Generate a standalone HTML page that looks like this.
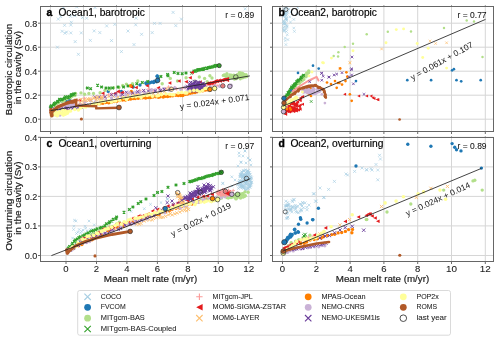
<!DOCTYPE html><html><head><meta charset="utf-8"><style>html,body{margin:0;padding:0;background:#fff;width:500px;height:341px;overflow:hidden}</style></head><body><svg width="500" height="341" viewBox="0 0 500 341" style="position:absolute;left:0;top:0;will-change:transform">
<g style='font-family:"Liberation Sans", sans-serif'>
<rect width="500" height="341" fill="#fff"/>
<line x1="50.5" y1="6.5" x2="50.5" y2="131.5" stroke="#d6d6d6" stroke-width="1"/>
<line x1="50.5" y1="131.5" x2="50.5" y2="134.0" stroke="#444" stroke-width="0.8"/>
<line x1="50.5" y1="5.3" x2="50.5" y2="6.5" stroke="#555" stroke-width="0.8"/>
<line x1="83.5" y1="6.5" x2="83.5" y2="131.5" stroke="#d6d6d6" stroke-width="1"/>
<line x1="83.5" y1="131.5" x2="83.5" y2="134.0" stroke="#444" stroke-width="0.8"/>
<line x1="83.5" y1="5.3" x2="83.5" y2="6.5" stroke="#555" stroke-width="0.8"/>
<line x1="116.5" y1="6.5" x2="116.5" y2="131.5" stroke="#d6d6d6" stroke-width="1"/>
<line x1="116.5" y1="131.5" x2="116.5" y2="134.0" stroke="#444" stroke-width="0.8"/>
<line x1="116.5" y1="5.3" x2="116.5" y2="6.5" stroke="#555" stroke-width="0.8"/>
<line x1="149.5" y1="6.5" x2="149.5" y2="131.5" stroke="#d6d6d6" stroke-width="1"/>
<line x1="149.5" y1="131.5" x2="149.5" y2="134.0" stroke="#444" stroke-width="0.8"/>
<line x1="149.5" y1="5.3" x2="149.5" y2="6.5" stroke="#555" stroke-width="0.8"/>
<line x1="182.5" y1="6.5" x2="182.5" y2="131.5" stroke="#d6d6d6" stroke-width="1"/>
<line x1="182.5" y1="131.5" x2="182.5" y2="134.0" stroke="#444" stroke-width="0.8"/>
<line x1="182.5" y1="5.3" x2="182.5" y2="6.5" stroke="#555" stroke-width="0.8"/>
<line x1="215.5" y1="6.5" x2="215.5" y2="131.5" stroke="#d6d6d6" stroke-width="1"/>
<line x1="215.5" y1="131.5" x2="215.5" y2="134.0" stroke="#444" stroke-width="0.8"/>
<line x1="215.5" y1="5.3" x2="215.5" y2="6.5" stroke="#555" stroke-width="0.8"/>
<line x1="248.5" y1="6.5" x2="248.5" y2="131.5" stroke="#d6d6d6" stroke-width="1"/>
<line x1="248.5" y1="131.5" x2="248.5" y2="134.0" stroke="#444" stroke-width="0.8"/>
<line x1="248.5" y1="5.3" x2="248.5" y2="6.5" stroke="#555" stroke-width="0.8"/>
<line x1="40.5" y1="119.2" x2="261.5" y2="119.2" stroke="#d6d6d6" stroke-width="1"/>
<line x1="38.0" y1="119.2" x2="40.5" y2="119.2" stroke="#444" stroke-width="0.8"/>
<line x1="40.5" y1="95.2" x2="261.5" y2="95.2" stroke="#d6d6d6" stroke-width="1"/>
<line x1="38.0" y1="95.2" x2="40.5" y2="95.2" stroke="#444" stroke-width="0.8"/>
<line x1="40.5" y1="71.2" x2="261.5" y2="71.2" stroke="#d6d6d6" stroke-width="1"/>
<line x1="38.0" y1="71.2" x2="40.5" y2="71.2" stroke="#444" stroke-width="0.8"/>
<line x1="40.5" y1="47.2" x2="261.5" y2="47.2" stroke="#d6d6d6" stroke-width="1"/>
<line x1="38.0" y1="47.2" x2="40.5" y2="47.2" stroke="#444" stroke-width="0.8"/>
<line x1="40.5" y1="23.2" x2="261.5" y2="23.2" stroke="#d6d6d6" stroke-width="1"/>
<line x1="38.0" y1="23.2" x2="40.5" y2="23.2" stroke="#444" stroke-width="0.8"/>
<line x1="282.5" y1="6.5" x2="282.5" y2="131.5" stroke="#d6d6d6" stroke-width="1"/>
<line x1="282.5" y1="131.5" x2="282.5" y2="134.0" stroke="#444" stroke-width="0.8"/>
<line x1="282.5" y1="5.3" x2="282.5" y2="6.5" stroke="#555" stroke-width="0.8"/>
<line x1="316.3" y1="6.5" x2="316.3" y2="131.5" stroke="#d6d6d6" stroke-width="1"/>
<line x1="316.3" y1="131.5" x2="316.3" y2="134.0" stroke="#444" stroke-width="0.8"/>
<line x1="316.3" y1="5.3" x2="316.3" y2="6.5" stroke="#555" stroke-width="0.8"/>
<line x1="350.1" y1="6.5" x2="350.1" y2="131.5" stroke="#d6d6d6" stroke-width="1"/>
<line x1="350.1" y1="131.5" x2="350.1" y2="134.0" stroke="#444" stroke-width="0.8"/>
<line x1="350.1" y1="5.3" x2="350.1" y2="6.5" stroke="#555" stroke-width="0.8"/>
<line x1="383.9" y1="6.5" x2="383.9" y2="131.5" stroke="#d6d6d6" stroke-width="1"/>
<line x1="383.9" y1="131.5" x2="383.9" y2="134.0" stroke="#444" stroke-width="0.8"/>
<line x1="383.9" y1="5.3" x2="383.9" y2="6.5" stroke="#555" stroke-width="0.8"/>
<line x1="417.7" y1="6.5" x2="417.7" y2="131.5" stroke="#d6d6d6" stroke-width="1"/>
<line x1="417.7" y1="131.5" x2="417.7" y2="134.0" stroke="#444" stroke-width="0.8"/>
<line x1="417.7" y1="5.3" x2="417.7" y2="6.5" stroke="#555" stroke-width="0.8"/>
<line x1="451.5" y1="6.5" x2="451.5" y2="131.5" stroke="#d6d6d6" stroke-width="1"/>
<line x1="451.5" y1="131.5" x2="451.5" y2="134.0" stroke="#444" stroke-width="0.8"/>
<line x1="451.5" y1="5.3" x2="451.5" y2="6.5" stroke="#555" stroke-width="0.8"/>
<line x1="485.3" y1="6.5" x2="485.3" y2="131.5" stroke="#d6d6d6" stroke-width="1"/>
<line x1="485.3" y1="131.5" x2="485.3" y2="134.0" stroke="#444" stroke-width="0.8"/>
<line x1="485.3" y1="5.3" x2="485.3" y2="6.5" stroke="#555" stroke-width="0.8"/>
<line x1="272.5" y1="119.2" x2="493.5" y2="119.2" stroke="#d6d6d6" stroke-width="1"/>
<line x1="270.0" y1="119.2" x2="272.5" y2="119.2" stroke="#444" stroke-width="0.8"/>
<line x1="272.5" y1="95.2" x2="493.5" y2="95.2" stroke="#d6d6d6" stroke-width="1"/>
<line x1="270.0" y1="95.2" x2="272.5" y2="95.2" stroke="#444" stroke-width="0.8"/>
<line x1="272.5" y1="71.2" x2="493.5" y2="71.2" stroke="#d6d6d6" stroke-width="1"/>
<line x1="270.0" y1="71.2" x2="272.5" y2="71.2" stroke="#444" stroke-width="0.8"/>
<line x1="272.5" y1="47.2" x2="493.5" y2="47.2" stroke="#d6d6d6" stroke-width="1"/>
<line x1="270.0" y1="47.2" x2="272.5" y2="47.2" stroke="#444" stroke-width="0.8"/>
<line x1="272.5" y1="23.2" x2="493.5" y2="23.2" stroke="#d6d6d6" stroke-width="1"/>
<line x1="270.0" y1="23.2" x2="272.5" y2="23.2" stroke="#444" stroke-width="0.8"/>
<line x1="66.0" y1="137.5" x2="66.0" y2="261.5" stroke="#d6d6d6" stroke-width="1"/>
<line x1="66.0" y1="261.5" x2="66.0" y2="264.0" stroke="#444" stroke-width="0.8"/>
<line x1="66.0" y1="136.3" x2="66.0" y2="137.5" stroke="#555" stroke-width="0.8"/>
<line x1="96.5" y1="137.5" x2="96.5" y2="261.5" stroke="#d6d6d6" stroke-width="1"/>
<line x1="96.5" y1="261.5" x2="96.5" y2="264.0" stroke="#444" stroke-width="0.8"/>
<line x1="96.5" y1="136.3" x2="96.5" y2="137.5" stroke="#555" stroke-width="0.8"/>
<line x1="126.9" y1="137.5" x2="126.9" y2="261.5" stroke="#d6d6d6" stroke-width="1"/>
<line x1="126.9" y1="261.5" x2="126.9" y2="264.0" stroke="#444" stroke-width="0.8"/>
<line x1="126.9" y1="136.3" x2="126.9" y2="137.5" stroke="#555" stroke-width="0.8"/>
<line x1="157.4" y1="137.5" x2="157.4" y2="261.5" stroke="#d6d6d6" stroke-width="1"/>
<line x1="157.4" y1="261.5" x2="157.4" y2="264.0" stroke="#444" stroke-width="0.8"/>
<line x1="157.4" y1="136.3" x2="157.4" y2="137.5" stroke="#555" stroke-width="0.8"/>
<line x1="187.8" y1="137.5" x2="187.8" y2="261.5" stroke="#d6d6d6" stroke-width="1"/>
<line x1="187.8" y1="261.5" x2="187.8" y2="264.0" stroke="#444" stroke-width="0.8"/>
<line x1="187.8" y1="136.3" x2="187.8" y2="137.5" stroke="#555" stroke-width="0.8"/>
<line x1="218.3" y1="137.5" x2="218.3" y2="261.5" stroke="#d6d6d6" stroke-width="1"/>
<line x1="218.3" y1="261.5" x2="218.3" y2="264.0" stroke="#444" stroke-width="0.8"/>
<line x1="218.3" y1="136.3" x2="218.3" y2="137.5" stroke="#555" stroke-width="0.8"/>
<line x1="248.8" y1="137.5" x2="248.8" y2="261.5" stroke="#d6d6d6" stroke-width="1"/>
<line x1="248.8" y1="261.5" x2="248.8" y2="264.0" stroke="#444" stroke-width="0.8"/>
<line x1="248.8" y1="136.3" x2="248.8" y2="137.5" stroke="#555" stroke-width="0.8"/>
<line x1="40.5" y1="255.5" x2="261.5" y2="255.5" stroke="#d6d6d6" stroke-width="1"/>
<line x1="38.0" y1="255.5" x2="40.5" y2="255.5" stroke="#444" stroke-width="0.8"/>
<line x1="40.5" y1="225.9" x2="261.5" y2="225.9" stroke="#d6d6d6" stroke-width="1"/>
<line x1="38.0" y1="225.9" x2="40.5" y2="225.9" stroke="#444" stroke-width="0.8"/>
<line x1="40.5" y1="196.4" x2="261.5" y2="196.4" stroke="#d6d6d6" stroke-width="1"/>
<line x1="38.0" y1="196.4" x2="40.5" y2="196.4" stroke="#444" stroke-width="0.8"/>
<line x1="40.5" y1="166.9" x2="261.5" y2="166.9" stroke="#d6d6d6" stroke-width="1"/>
<line x1="38.0" y1="166.9" x2="40.5" y2="166.9" stroke="#444" stroke-width="0.8"/>
<line x1="40.5" y1="137.3" x2="261.5" y2="137.3" stroke="#d6d6d6" stroke-width="1"/>
<line x1="38.0" y1="137.3" x2="40.5" y2="137.3" stroke="#444" stroke-width="0.8"/>
<line x1="282.5" y1="137.5" x2="282.5" y2="261.5" stroke="#d6d6d6" stroke-width="1"/>
<line x1="282.5" y1="261.5" x2="282.5" y2="264.0" stroke="#444" stroke-width="0.8"/>
<line x1="282.5" y1="136.3" x2="282.5" y2="137.5" stroke="#555" stroke-width="0.8"/>
<line x1="316.3" y1="137.5" x2="316.3" y2="261.5" stroke="#d6d6d6" stroke-width="1"/>
<line x1="316.3" y1="261.5" x2="316.3" y2="264.0" stroke="#444" stroke-width="0.8"/>
<line x1="316.3" y1="136.3" x2="316.3" y2="137.5" stroke="#555" stroke-width="0.8"/>
<line x1="350.1" y1="137.5" x2="350.1" y2="261.5" stroke="#d6d6d6" stroke-width="1"/>
<line x1="350.1" y1="261.5" x2="350.1" y2="264.0" stroke="#444" stroke-width="0.8"/>
<line x1="350.1" y1="136.3" x2="350.1" y2="137.5" stroke="#555" stroke-width="0.8"/>
<line x1="383.9" y1="137.5" x2="383.9" y2="261.5" stroke="#d6d6d6" stroke-width="1"/>
<line x1="383.9" y1="261.5" x2="383.9" y2="264.0" stroke="#444" stroke-width="0.8"/>
<line x1="383.9" y1="136.3" x2="383.9" y2="137.5" stroke="#555" stroke-width="0.8"/>
<line x1="417.7" y1="137.5" x2="417.7" y2="261.5" stroke="#d6d6d6" stroke-width="1"/>
<line x1="417.7" y1="261.5" x2="417.7" y2="264.0" stroke="#444" stroke-width="0.8"/>
<line x1="417.7" y1="136.3" x2="417.7" y2="137.5" stroke="#555" stroke-width="0.8"/>
<line x1="451.5" y1="137.5" x2="451.5" y2="261.5" stroke="#d6d6d6" stroke-width="1"/>
<line x1="451.5" y1="261.5" x2="451.5" y2="264.0" stroke="#444" stroke-width="0.8"/>
<line x1="451.5" y1="136.3" x2="451.5" y2="137.5" stroke="#555" stroke-width="0.8"/>
<line x1="485.3" y1="137.5" x2="485.3" y2="261.5" stroke="#d6d6d6" stroke-width="1"/>
<line x1="485.3" y1="261.5" x2="485.3" y2="264.0" stroke="#444" stroke-width="0.8"/>
<line x1="485.3" y1="136.3" x2="485.3" y2="137.5" stroke="#555" stroke-width="0.8"/>
<line x1="272.5" y1="255.5" x2="493.5" y2="255.5" stroke="#d6d6d6" stroke-width="1"/>
<line x1="270.0" y1="255.5" x2="272.5" y2="255.5" stroke="#444" stroke-width="0.8"/>
<line x1="272.5" y1="225.9" x2="493.5" y2="225.9" stroke="#d6d6d6" stroke-width="1"/>
<line x1="270.0" y1="225.9" x2="272.5" y2="225.9" stroke="#444" stroke-width="0.8"/>
<line x1="272.5" y1="196.4" x2="493.5" y2="196.4" stroke="#d6d6d6" stroke-width="1"/>
<line x1="270.0" y1="196.4" x2="272.5" y2="196.4" stroke="#444" stroke-width="0.8"/>
<line x1="272.5" y1="166.9" x2="493.5" y2="166.9" stroke="#d6d6d6" stroke-width="1"/>
<line x1="270.0" y1="166.9" x2="272.5" y2="166.9" stroke="#444" stroke-width="0.8"/>
<line x1="272.5" y1="137.3" x2="493.5" y2="137.3" stroke="#d6d6d6" stroke-width="1"/>
<line x1="270.0" y1="137.3" x2="272.5" y2="137.3" stroke="#444" stroke-width="0.8"/>
<clipPath id="cla"><rect x="40.5" y="6.5" width="221.0" height="125.0"/></clipPath>
<clipPath id="clb"><rect x="272.5" y="6.5" width="221.0" height="125.0"/></clipPath>
<clipPath id="clc"><rect x="40.5" y="137.5" width="221.0" height="124.0"/></clipPath>
<clipPath id="cld"><rect x="272.5" y="137.5" width="221.0" height="124.0"/></clipPath>
<g clip-path="url(#cla)">
<path d="M56.8 17.6L59.8 20.6M56.8 20.6L59.8 17.6" stroke="#a6cee3" stroke-width="0.65"/>
<path d="M59.2 15.1L62.2 18.1M59.2 18.1L62.2 15.1" stroke="#a6cee3" stroke-width="0.65"/>
<path d="M61.9 6.4L64.9 9.4M61.9 9.4L64.9 6.4" stroke="#a6cee3" stroke-width="0.65"/>
<path d="M69.0 14.8L72.0 17.8M69.0 17.8L72.0 14.8" stroke="#a6cee3" stroke-width="0.65"/>
<path d="M73.4 14.3L76.4 17.3M73.4 17.3L76.4 14.3" stroke="#a6cee3" stroke-width="0.65"/>
<path d="M75.3 5.3L78.3 8.3M75.3 8.3L78.3 5.3" stroke="#a6cee3" stroke-width="0.65"/>
<path d="M80.9 16.1L83.9 19.1M80.9 19.1L83.9 16.1" stroke="#a6cee3" stroke-width="0.65"/>
<path d="M85.1 16.7L88.1 19.7M85.1 19.7L88.1 16.7" stroke="#a6cee3" stroke-width="0.65"/>
<path d="M69.8 20.8L72.8 23.8M69.8 23.8L72.8 20.8" stroke="#a6cee3" stroke-width="0.65"/>
<path d="M69.3 23.5L72.3 26.5M69.3 26.5L72.3 23.5" stroke="#a6cee3" stroke-width="0.65"/>
<path d="M63.1 23.8L66.1 26.8M63.1 26.8L66.1 23.8" stroke="#a6cee3" stroke-width="0.65"/>
<path d="M60.6 29.8L63.6 32.8M60.6 32.8L63.6 29.8" stroke="#a6cee3" stroke-width="0.65"/>
<path d="M63.5 31.7L66.5 34.7M63.5 34.7L66.5 31.7" stroke="#a6cee3" stroke-width="0.65"/>
<path d="M65.0 30.6L68.0 33.6M65.0 33.6L68.0 30.6" stroke="#a6cee3" stroke-width="0.65"/>
<path d="M69.3 31.4L72.3 34.4M69.3 34.4L72.3 31.4" stroke="#a6cee3" stroke-width="0.65"/>
<path d="M79.8 31.4L82.8 34.4M79.8 34.4L82.8 31.4" stroke="#a6cee3" stroke-width="0.65"/>
<path d="M73.7 40.1L76.7 43.1M73.7 43.1L76.7 40.1" stroke="#a6cee3" stroke-width="0.65"/>
<path d="M88.8 38.9L91.8 41.9M88.8 41.9L91.8 38.9" stroke="#a6cee3" stroke-width="0.65"/>
<path d="M92.7 29.4L95.7 32.4M92.7 32.4L95.7 29.4" stroke="#a6cee3" stroke-width="0.65"/>
<path d="M98.3 31.1L101.3 34.1M98.3 34.1L101.3 31.1" stroke="#a6cee3" stroke-width="0.65"/>
<path d="M55.9 45.7L58.9 48.7M55.9 48.7L58.9 45.7" stroke="#a6cee3" stroke-width="0.65"/>
<path d="M76.9 52.8L79.9 55.8M76.9 55.8L79.9 52.8" stroke="#a6cee3" stroke-width="0.65"/>
<path d="M105.2 24.4L108.2 27.4M105.2 27.4L108.2 24.4" stroke="#a6cee3" stroke-width="0.65"/>
<path d="M113.3 22.9L116.3 25.9M113.3 25.9L116.3 22.9" stroke="#a6cee3" stroke-width="0.65"/>
<path d="M110.0 39.1L113.0 42.1M110.0 42.1L113.0 39.1" stroke="#a6cee3" stroke-width="0.65"/>
<path d="M119.9 50.1L122.9 53.1M119.9 53.1L122.9 50.1" stroke="#a6cee3" stroke-width="0.65"/>
<path d="M126.5 29.5L129.5 32.5M126.5 32.5L129.5 29.5" stroke="#a6cee3" stroke-width="0.65"/>
<path d="M134.6 16.7L137.6 19.7M134.6 19.7L137.6 16.7" stroke="#a6cee3" stroke-width="0.65"/>
<path d="M134.2 23.3L137.2 26.3M134.2 26.3L137.2 23.3" stroke="#a6cee3" stroke-width="0.65"/>
<path d="M140.1 32.8L143.1 35.8M140.1 35.8L143.1 32.8" stroke="#a6cee3" stroke-width="0.65"/>
<path d="M132.5 43.1L135.5 46.1M132.5 46.1L135.5 43.1" stroke="#a6cee3" stroke-width="0.65"/>
<path d="M171.6 10.9L174.6 13.9M171.6 13.9L174.6 10.9" stroke="#a6cee3" stroke-width="0.65"/>
<path d="M153.0 21.9L156.0 24.9M153.0 24.9L156.0 21.9" stroke="#a6cee3" stroke-width="0.65"/>
<path d="M158.6 21.9L161.6 24.9M158.6 24.9L161.6 21.9" stroke="#a6cee3" stroke-width="0.65"/>
<path d="M179.9 17.6L182.9 20.6M179.9 20.6L182.9 17.6" stroke="#a6cee3" stroke-width="0.65"/>
<path d="M174.3 24.1L177.3 27.1M174.3 27.1L177.3 24.1" stroke="#a6cee3" stroke-width="0.65"/>
<path d="M150.7 31.1L153.7 34.1M150.7 34.1L153.7 31.1" stroke="#a6cee3" stroke-width="0.65"/>
<path d="M243.7 7.3L246.7 10.3M243.7 10.3L246.7 7.3" stroke="#a6cee3" stroke-width="0.65"/>
<path d="M93.5 6.0L96.5 9.0M93.5 9.0L96.5 6.0" stroke="#a6cee3" stroke-width="0.65"/>
<circle cx="58.7" cy="101.3" r="1.68" fill="#1f78b4"/>
<circle cx="62.0" cy="101.0" r="1.68" fill="#1f78b4"/>
<circle cx="66.1" cy="100.6" r="1.68" fill="#1f78b4"/>
<circle cx="69.6" cy="99.7" r="1.68" fill="#1f78b4"/>
<circle cx="108.2" cy="91.4" r="1.68" fill="#1f78b4"/>
<circle cx="121.4" cy="91.4" r="1.68" fill="#1f78b4"/>
<circle cx="133.2" cy="87.0" r="1.68" fill="#1f78b4"/>
<circle cx="140.0" cy="85.0" r="1.68" fill="#1f78b4"/>
<circle cx="146.4" cy="83.7" r="1.68" fill="#1f78b4"/>
<circle cx="145.8" cy="83.0" r="1.68" fill="#1f78b4"/>
<circle cx="147.5" cy="82.7" r="1.68" fill="#1f78b4"/>
<circle cx="148.6" cy="82.9" r="1.68" fill="#1f78b4"/>
<circle cx="149.3" cy="82.9" r="1.68" fill="#1f78b4"/>
<circle cx="150.5" cy="82.6" r="1.68" fill="#1f78b4"/>
<circle cx="151.9" cy="81.9" r="1.68" fill="#1f78b4"/>
<circle cx="153.6" cy="82.6" r="1.68" fill="#1f78b4"/>
<circle cx="154.4" cy="81.2" r="1.68" fill="#1f78b4"/>
<circle cx="156.3" cy="81.7" r="1.68" fill="#1f78b4"/>
<circle cx="157.4" cy="80.4" r="1.68" fill="#1f78b4"/>
<circle cx="158.3" cy="78.8" r="1.68" fill="#1f78b4"/>
<circle cx="158.1" cy="77.8" r="1.68" fill="#1f78b4"/>
<circle cx="157.1" cy="76.3" r="1.68" fill="#1f78b4"/>
<circle cx="157.3" cy="75.9" r="1.68" fill="#1f78b4"/>
<circle cx="51.5" cy="107.1" r="1.68" fill="#b2df8a"/>
<circle cx="54.7" cy="105.4" r="1.68" fill="#b2df8a"/>
<circle cx="57.1" cy="103.5" r="1.68" fill="#b2df8a"/>
<circle cx="58.9" cy="102.4" r="1.68" fill="#b2df8a"/>
<circle cx="62.4" cy="101.3" r="1.68" fill="#b2df8a"/>
<circle cx="64.4" cy="100.3" r="1.68" fill="#b2df8a"/>
<circle cx="67.2" cy="98.5" r="1.68" fill="#b2df8a"/>
<circle cx="70.3" cy="97.9" r="1.68" fill="#b2df8a"/>
<circle cx="72.0" cy="96.4" r="1.68" fill="#b2df8a"/>
<circle cx="75.0" cy="95.6" r="1.68" fill="#b2df8a"/>
<circle cx="75.6" cy="93.5" r="1.68" fill="#b2df8a"/>
<circle cx="81.0" cy="92.9" r="1.68" fill="#b2df8a"/>
<circle cx="84.6" cy="94.3" r="1.68" fill="#b2df8a"/>
<circle cx="88.9" cy="93.5" r="1.68" fill="#b2df8a"/>
<circle cx="93.5" cy="93.5" r="1.68" fill="#b2df8a"/>
<circle cx="100.1" cy="92.7" r="1.68" fill="#b2df8a"/>
<circle cx="105.0" cy="90.4" r="1.68" fill="#b2df8a"/>
<circle cx="109.2" cy="89.5" r="1.68" fill="#b2df8a"/>
<circle cx="113.6" cy="87.8" r="1.68" fill="#b2df8a"/>
<circle cx="118.9" cy="87.5" r="1.68" fill="#b2df8a"/>
<circle cx="122.7" cy="85.5" r="1.68" fill="#b2df8a"/>
<circle cx="126.4" cy="84.1" r="1.68" fill="#b2df8a"/>
<circle cx="132.5" cy="83.6" r="1.68" fill="#b2df8a"/>
<circle cx="137.8" cy="81.0" r="1.68" fill="#b2df8a"/>
<circle cx="162.2" cy="83.7" r="1.68" fill="#b2df8a"/>
<circle cx="170.3" cy="78.4" r="1.68" fill="#b2df8a"/>
<circle cx="177.5" cy="81.0" r="1.68" fill="#b2df8a"/>
<circle cx="186.1" cy="77.7" r="1.68" fill="#b2df8a"/>
<circle cx="199.3" cy="77.0" r="1.68" fill="#b2df8a"/>
<circle cx="209.9" cy="75.7" r="1.68" fill="#b2df8a"/>
<circle cx="204.6" cy="78.4" r="1.68" fill="#b2df8a"/>
<circle cx="207.2" cy="81.7" r="1.68" fill="#b2df8a"/>
<circle cx="212.0" cy="78.0" r="1.68" fill="#b2df8a"/>
<circle cx="195.0" cy="81.0" r="1.68" fill="#b2df8a"/>
<circle cx="227.6" cy="77.9" r="1.68" fill="#b2df8a"/>
<circle cx="243.1" cy="76.3" r="1.68" fill="#b2df8a"/>
<circle cx="237.0" cy="77.1" r="1.68" fill="#b2df8a"/>
<circle cx="244.8" cy="77.1" r="1.68" fill="#b2df8a"/>
<circle cx="239.1" cy="77.3" r="1.68" fill="#b2df8a"/>
<circle cx="226.3" cy="78.1" r="1.68" fill="#b2df8a"/>
<circle cx="242.0" cy="77.2" r="1.68" fill="#b2df8a"/>
<circle cx="224.3" cy="75.0" r="1.68" fill="#b2df8a"/>
<circle cx="239.7" cy="73.0" r="1.68" fill="#b2df8a"/>
<circle cx="233.6" cy="78.3" r="1.68" fill="#b2df8a"/>
<circle cx="227.9" cy="78.6" r="1.68" fill="#b2df8a"/>
<circle cx="239.5" cy="75.6" r="1.68" fill="#b2df8a"/>
<circle cx="237.6" cy="77.6" r="1.68" fill="#b2df8a"/>
<circle cx="235.9" cy="78.5" r="1.68" fill="#b2df8a"/>
<circle cx="229.8" cy="75.0" r="1.68" fill="#b2df8a"/>
<circle cx="242.8" cy="76.1" r="1.68" fill="#b2df8a"/>
<circle cx="228.8" cy="78.0" r="1.68" fill="#b2df8a"/>
<circle cx="244.5" cy="75.1" r="1.68" fill="#b2df8a"/>
<circle cx="225.6" cy="75.7" r="1.68" fill="#b2df8a"/>
<circle cx="233.8" cy="75.3" r="1.68" fill="#b2df8a"/>
<circle cx="243.6" cy="74.1" r="1.68" fill="#b2df8a"/>
<circle cx="242.6" cy="73.7" r="1.68" fill="#b2df8a"/>
<circle cx="229.1" cy="77.4" r="1.68" fill="#b2df8a"/>
<circle cx="242.6" cy="77.7" r="1.68" fill="#b2df8a"/>
<circle cx="237.9" cy="76.4" r="1.68" fill="#b2df8a"/>
<circle cx="236.2" cy="77.4" r="1.68" fill="#b2df8a"/>
<circle cx="233.5" cy="76.7" r="1.68" fill="#b2df8a"/>
<circle cx="239.7" cy="76.0" r="1.68" fill="#b2df8a"/>
<circle cx="240.8" cy="77.3" r="1.68" fill="#b2df8a"/>
<circle cx="246.1" cy="76.5" r="1.68" fill="#b2df8a"/>
<circle cx="231.5" cy="75.1" r="1.68" fill="#b2df8a"/>
<circle cx="234.9" cy="78.1" r="1.68" fill="#b2df8a"/>
<circle cx="232.2" cy="77.0" r="1.68" fill="#b2df8a"/>
<circle cx="242.0" cy="73.1" r="1.68" fill="#b2df8a"/>
<circle cx="226.8" cy="76.5" r="1.68" fill="#b2df8a"/>
<circle cx="238.3" cy="76.6" r="1.68" fill="#b2df8a"/>
<circle cx="231.6" cy="77.5" r="1.68" fill="#b2df8a"/>
<circle cx="237.3" cy="74.7" r="1.68" fill="#b2df8a"/>
<circle cx="246.6" cy="76.5" r="1.68" fill="#b2df8a"/>
<circle cx="230.5" cy="75.8" r="1.68" fill="#b2df8a"/>
<circle cx="233.1" cy="75.8" r="1.68" fill="#b2df8a"/>
<circle cx="223.3" cy="75.4" r="1.68" fill="#b2df8a"/>
<circle cx="241.5" cy="73.7" r="1.68" fill="#b2df8a"/>
<circle cx="234.5" cy="78.2" r="1.68" fill="#b2df8a"/>
<circle cx="240.3" cy="78.7" r="1.68" fill="#b2df8a"/>
<circle cx="224.6" cy="75.4" r="1.68" fill="#b2df8a"/>
<circle cx="232.3" cy="77.5" r="1.68" fill="#b2df8a"/>
<circle cx="239.5" cy="72.7" r="1.68" fill="#b2df8a"/>
<circle cx="241.5" cy="73.4" r="1.68" fill="#b2df8a"/>
<circle cx="239.3" cy="73.2" r="1.68" fill="#b2df8a"/>
<circle cx="236.3" cy="78.6" r="1.68" fill="#b2df8a"/>
<circle cx="233.7" cy="76.5" r="1.68" fill="#b2df8a"/>
<circle cx="241.2" cy="76.3" r="1.68" fill="#b2df8a"/>
<circle cx="234.4" cy="79.0" r="1.68" fill="#b2df8a"/>
<circle cx="242.7" cy="75.4" r="1.68" fill="#b2df8a"/>
<circle cx="246.0" cy="74.6" r="1.68" fill="#b2df8a"/>
<circle cx="242.0" cy="75.4" r="1.68" fill="#b2df8a"/>
<circle cx="236.1" cy="77.7" r="1.68" fill="#b2df8a"/>
<circle cx="236.8" cy="77.5" r="1.68" fill="#b2df8a"/>
<circle cx="226.9" cy="73.6" r="1.68" fill="#b2df8a"/>
<path d="M49.2 105.7L51.8 108.3M49.2 108.3L51.8 105.7" stroke="#33a02c" stroke-width="1.25"/>
<path d="M49.9 105.3L52.5 107.9M49.9 107.9L52.5 105.3" stroke="#33a02c" stroke-width="1.25"/>
<path d="M50.1 104.4L52.7 106.9M50.1 106.9L52.7 104.4" stroke="#33a02c" stroke-width="1.25"/>
<path d="M52.2 103.8L54.8 106.3M52.2 106.3L54.8 103.8" stroke="#33a02c" stroke-width="1.25"/>
<path d="M53.0 102.6L55.5 105.1M53.0 105.1L55.5 102.6" stroke="#33a02c" stroke-width="1.25"/>
<path d="M53.2 102.2L55.7 104.8M53.2 104.8L55.7 102.2" stroke="#33a02c" stroke-width="1.25"/>
<path d="M54.4 101.5L57.0 104.1M54.4 104.1L57.0 101.5" stroke="#33a02c" stroke-width="1.25"/>
<path d="M56.4 100.3L58.9 102.9M56.4 102.9L58.9 100.3" stroke="#33a02c" stroke-width="1.25"/>
<path d="M56.6 100.4L59.2 103.0M56.6 103.0L59.2 100.4" stroke="#33a02c" stroke-width="1.25"/>
<path d="M58.1 98.6L60.7 101.2M58.1 101.2L60.7 98.6" stroke="#33a02c" stroke-width="1.25"/>
<path d="M58.4 98.0L60.9 100.5M58.4 100.5L60.9 98.0" stroke="#33a02c" stroke-width="1.25"/>
<path d="M60.6 98.4L63.2 101.0M60.6 101.0L63.2 98.4" stroke="#33a02c" stroke-width="1.25"/>
<path d="M60.7 98.0L63.3 100.6M60.7 100.6L63.3 98.0" stroke="#33a02c" stroke-width="1.25"/>
<path d="M63.1 97.3L65.6 99.9M63.1 99.9L65.6 97.3" stroke="#33a02c" stroke-width="1.25"/>
<path d="M63.3 96.7L65.9 99.3M63.3 99.3L65.9 96.7" stroke="#33a02c" stroke-width="1.25"/>
<path d="M64.2 95.5L66.8 98.1M64.2 98.1L66.8 95.5" stroke="#33a02c" stroke-width="1.25"/>
<path d="M66.5 95.9L69.1 98.5M66.5 98.5L69.1 95.9" stroke="#33a02c" stroke-width="1.25"/>
<path d="M67.1 95.9L69.7 98.5M67.1 98.5L69.7 95.9" stroke="#33a02c" stroke-width="1.25"/>
<path d="M68.1 95.3L70.7 97.9M68.1 97.9L70.7 95.3" stroke="#33a02c" stroke-width="1.25"/>
<path d="M69.8 93.9L72.4 96.5M69.8 96.5L72.4 93.9" stroke="#33a02c" stroke-width="1.25"/>
<path d="M70.1 93.5L72.7 96.1M70.1 96.1L72.7 93.5" stroke="#33a02c" stroke-width="1.25"/>
<path d="M71.3 93.4L73.8 96.0M71.3 96.0L73.8 93.4" stroke="#33a02c" stroke-width="1.25"/>
<path d="M72.4 92.6L75.0 95.2M72.4 95.2L75.0 92.6" stroke="#33a02c" stroke-width="1.25"/>
<path d="M73.4 92.8L76.0 95.4M73.4 95.4L76.0 92.8" stroke="#33a02c" stroke-width="1.25"/>
<path d="M86.0 86.7L88.6 89.3M86.0 89.3L88.6 86.7" stroke="#33a02c" stroke-width="1.25"/>
<path d="M89.3 87.4L91.9 90.0M89.3 90.0L91.9 87.4" stroke="#33a02c" stroke-width="1.25"/>
<path d="M96.3 83.9L98.9 86.5M96.3 86.5L98.9 83.9" stroke="#33a02c" stroke-width="1.25"/>
<path d="M100.3 85.7L102.9 88.3M100.3 88.3L102.9 85.7" stroke="#33a02c" stroke-width="1.25"/>
<path d="M104.7 86.7L107.3 89.3M104.7 89.3L107.3 86.7" stroke="#33a02c" stroke-width="1.25"/>
<path d="M108.0 86.7L110.6 89.3M108.0 89.3L110.6 86.7" stroke="#33a02c" stroke-width="1.25"/>
<path d="M111.3 86.7L113.9 89.3M111.3 89.3L113.9 86.7" stroke="#33a02c" stroke-width="1.25"/>
<path d="M116.7 85.7L119.3 88.3M116.7 88.3L119.3 85.7" stroke="#33a02c" stroke-width="1.25"/>
<path d="M122.3 85.7L124.9 88.3M122.3 88.3L124.9 85.7" stroke="#33a02c" stroke-width="1.25"/>
<path d="M126.7 84.6L129.3 87.2M126.7 87.2L129.3 84.6" stroke="#33a02c" stroke-width="1.25"/>
<path d="M131.1 84.6L133.7 87.2M131.1 87.2L133.7 84.6" stroke="#33a02c" stroke-width="1.25"/>
<path d="M135.5 82.4L138.1 85.0M135.5 85.0L138.1 82.4" stroke="#33a02c" stroke-width="1.25"/>
<path d="M141.0 81.3L143.6 83.9M141.0 83.9L143.6 81.3" stroke="#33a02c" stroke-width="1.25"/>
<path d="M146.5 80.2L149.1 82.8M146.5 82.8L149.1 80.2" stroke="#33a02c" stroke-width="1.25"/>
<path d="M159.6 75.2L162.2 77.8M159.6 77.8L162.2 75.2" stroke="#33a02c" stroke-width="1.25"/>
<path d="M166.7 74.5L169.3 77.1M166.7 77.1L169.3 74.5" stroke="#33a02c" stroke-width="1.25"/>
<path d="M166.3 73.1L168.9 75.7M166.3 75.7L168.9 73.1" stroke="#33a02c" stroke-width="1.25"/>
<path d="M172.9 71.1L175.5 73.7M172.9 73.7L175.5 71.1" stroke="#33a02c" stroke-width="1.25"/>
<path d="M176.7 72.2L179.3 74.8M176.7 74.8L179.3 72.2" stroke="#33a02c" stroke-width="1.25"/>
<path d="M180.9 72.4L183.5 75.0M180.9 75.0L183.5 72.4" stroke="#33a02c" stroke-width="1.25"/>
<path d="M184.7 71.7L187.3 74.3M184.7 74.3L187.3 71.7" stroke="#33a02c" stroke-width="1.25"/>
<path d="M190.1 71.8L192.7 74.4M190.1 74.4L192.7 71.8" stroke="#33a02c" stroke-width="1.25"/>
<path d="M192.6 69.8L195.1 72.3M192.6 72.3L195.1 69.8" stroke="#33a02c" stroke-width="1.25"/>
<path d="M193.7 70.0L196.3 72.6M193.7 72.6L196.3 70.0" stroke="#33a02c" stroke-width="1.25"/>
<path d="M194.5 69.8L197.1 72.4M194.5 72.4L197.1 69.8" stroke="#33a02c" stroke-width="1.25"/>
<path d="M195.5 69.2L198.1 71.8M195.5 71.8L198.1 69.2" stroke="#33a02c" stroke-width="1.25"/>
<path d="M196.5 68.4L199.0 71.0M196.5 71.0L199.0 68.4" stroke="#33a02c" stroke-width="1.25"/>
<path d="M197.3 68.4L199.9 71.0M197.3 71.0L199.9 68.4" stroke="#33a02c" stroke-width="1.25"/>
<path d="M197.8 68.8L200.4 71.4M197.8 71.4L200.4 68.8" stroke="#33a02c" stroke-width="1.25"/>
<path d="M198.9 68.2L201.5 70.8M198.9 70.8L201.5 68.2" stroke="#33a02c" stroke-width="1.25"/>
<path d="M200.4 68.1L203.0 70.7M200.4 70.7L203.0 68.1" stroke="#33a02c" stroke-width="1.25"/>
<path d="M200.9 67.8L203.5 70.4M200.9 70.4L203.5 67.8" stroke="#33a02c" stroke-width="1.25"/>
<path d="M202.1 67.9L204.7 70.5M202.1 70.5L204.7 67.9" stroke="#33a02c" stroke-width="1.25"/>
<path d="M202.6 67.4L205.1 70.0M202.6 70.0L205.1 67.4" stroke="#33a02c" stroke-width="1.25"/>
<path d="M203.6 66.9L206.2 69.5M203.6 69.5L206.2 66.9" stroke="#33a02c" stroke-width="1.25"/>
<path d="M205.1 66.9L207.7 69.5M205.1 69.5L207.7 66.9" stroke="#33a02c" stroke-width="1.25"/>
<path d="M205.8 66.9L208.4 69.5M205.8 69.5L208.4 66.9" stroke="#33a02c" stroke-width="1.25"/>
<path d="M207.1 66.4L209.7 68.9M207.1 68.9L209.7 66.4" stroke="#33a02c" stroke-width="1.25"/>
<path d="M207.7 66.2L210.3 68.7M207.7 68.7L210.3 66.2" stroke="#33a02c" stroke-width="1.25"/>
<path d="M208.5 66.1L211.1 68.7M208.5 68.7L211.1 66.1" stroke="#33a02c" stroke-width="1.25"/>
<path d="M209.4 65.7L212.0 68.3M209.4 68.3L212.0 65.7" stroke="#33a02c" stroke-width="1.25"/>
<path d="M210.4 65.9L212.9 68.4M210.4 68.4L212.9 65.9" stroke="#33a02c" stroke-width="1.25"/>
<path d="M211.5 65.5L214.1 68.1M211.5 68.1L214.1 65.5" stroke="#33a02c" stroke-width="1.25"/>
<path d="M212.7 64.7L215.2 67.2M212.7 67.2L215.2 64.7" stroke="#33a02c" stroke-width="1.25"/>
<path d="M213.2 65.1L215.8 67.7M213.2 67.7L215.8 65.1" stroke="#33a02c" stroke-width="1.25"/>
<path d="M214.4 64.1L217.0 66.7M214.4 66.7L217.0 64.1" stroke="#33a02c" stroke-width="1.25"/>
<path d="M214.7 64.4L217.2 67.0M214.7 67.0L217.2 64.4" stroke="#33a02c" stroke-width="1.25"/>
<path d="M215.6 64.1L218.1 66.7M215.6 66.7L218.1 64.1" stroke="#33a02c" stroke-width="1.25"/>
<path d="M216.5 64.5L219.1 67.1M216.5 67.1L219.1 64.5" stroke="#33a02c" stroke-width="1.25"/>
<path d="M218.2 64.7L220.8 67.3M218.2 67.3L220.8 64.7" stroke="#33a02c" stroke-width="1.25"/>
<path d="M77.2 100.6L80.8 100.6M79.0 98.9L79.0 102.4" stroke="#fb9a99" stroke-width="0.8"/>
<path d="M82.8 98.3L86.3 98.3M84.5 96.5L84.5 100.0" stroke="#fb9a99" stroke-width="0.8"/>
<path d="M87.5 100.0L91.1 100.0M89.3 98.3L89.3 101.8" stroke="#fb9a99" stroke-width="0.8"/>
<path d="M89.6 99.3L93.1 99.3M91.3 97.5L91.3 101.1" stroke="#fb9a99" stroke-width="0.8"/>
<path d="M94.2 97.3L97.7 97.3M95.9 95.5L95.9 99.0" stroke="#fb9a99" stroke-width="0.8"/>
<path d="M100.0 97.6L103.6 97.6M101.8 95.8L101.8 99.4" stroke="#fb9a99" stroke-width="0.8"/>
<path d="M101.6 95.7L105.1 95.7M103.4 93.9L103.4 97.5" stroke="#fb9a99" stroke-width="0.8"/>
<path d="M106.7 94.8L110.3 94.8M108.5 93.0L108.5 96.6" stroke="#fb9a99" stroke-width="0.8"/>
<path d="M109.8 94.1L113.4 94.1M111.6 92.3L111.6 95.9" stroke="#fb9a99" stroke-width="0.8"/>
<path d="M115.5 92.7L119.1 92.7M117.3 90.9L117.3 94.5" stroke="#fb9a99" stroke-width="0.8"/>
<path d="M119.1 93.5L122.6 93.5M120.8 91.7L120.8 95.3" stroke="#fb9a99" stroke-width="0.8"/>
<path d="M121.5 92.6L125.1 92.6M123.3 90.9L123.3 94.4" stroke="#fb9a99" stroke-width="0.8"/>
<path d="M127.4 92.7L131.0 92.7M129.2 90.9L129.2 94.5" stroke="#fb9a99" stroke-width="0.8"/>
<path d="M129.8 93.6L133.4 93.6M131.6 91.8L131.6 95.4" stroke="#fb9a99" stroke-width="0.8"/>
<path d="M136.1 93.0L139.7 93.0M137.9 91.2L137.9 94.8" stroke="#fb9a99" stroke-width="0.8"/>
<path d="M138.1 90.4L141.7 90.4M139.9 88.6L139.9 92.2" stroke="#fb9a99" stroke-width="0.8"/>
<path d="M142.0 91.4L145.6 91.4M143.8 89.6L143.8 93.2" stroke="#fb9a99" stroke-width="0.8"/>
<path d="M146.8 89.0L150.4 89.0M148.6 87.2L148.6 90.8" stroke="#fb9a99" stroke-width="0.8"/>
<path d="M151.4 90.9L154.9 90.9M153.2 89.2L153.2 92.7" stroke="#fb9a99" stroke-width="0.8"/>
<path d="M156.7 88.6L160.2 88.6M158.4 86.8L158.4 90.4" stroke="#fb9a99" stroke-width="0.8"/>
<path d="M158.7 90.3L162.3 90.3M160.5 88.5L160.5 92.1" stroke="#fb9a99" stroke-width="0.8"/>
<path d="M164.1 89.3L167.7 89.3M165.9 87.5L165.9 91.0" stroke="#fb9a99" stroke-width="0.8"/>
<path d="M166.8 87.0L170.4 87.0M168.6 85.2L168.6 88.8" stroke="#fb9a99" stroke-width="0.8"/>
<path d="M172.7 87.7L176.3 87.7M174.5 85.9L174.5 89.5" stroke="#fb9a99" stroke-width="0.8"/>
<path d="M174.9 88.9L178.5 88.9M176.7 87.1L176.7 90.7" stroke="#fb9a99" stroke-width="0.8"/>
<path d="M180.7 88.2L184.3 88.2M182.5 86.4L182.5 89.9" stroke="#fb9a99" stroke-width="0.8"/>
<path d="M183.2 88.0L186.8 88.0M185.0 86.2L185.0 89.8" stroke="#fb9a99" stroke-width="0.8"/>
<path d="M187.2 87.8L190.8 87.8M189.0 86.0L189.0 89.6" stroke="#fb9a99" stroke-width="0.8"/>
<path d="M192.5 86.0L196.1 86.0M194.3 84.3L194.3 87.8" stroke="#fb9a99" stroke-width="0.8"/>
<path d="M196.9 87.6L200.5 87.6M198.7 85.8L198.7 89.4" stroke="#fb9a99" stroke-width="0.8"/>
<path d="M200.2 85.0L203.8 85.0M202.0 83.2L202.0 86.8" stroke="#fb9a99" stroke-width="0.8"/>
<path d="M205.1 85.1L208.6 85.1M206.9 83.3L206.9 86.9" stroke="#fb9a99" stroke-width="0.8"/>
<path d="M207.9 84.7L211.5 84.7M209.7 82.9L209.7 86.5" stroke="#fb9a99" stroke-width="0.8"/>
<path d="M211.9 84.6L215.4 84.6M213.7 82.8L213.7 86.4" stroke="#fb9a99" stroke-width="0.8"/>
<path d="M202.9 84.7L206.5 84.7M204.7 82.9L204.7 86.5" stroke="#fb9a99" stroke-width="0.8"/>
<path d="M206.1 84.7L209.7 84.7M207.9 83.0L207.9 86.5" stroke="#fb9a99" stroke-width="0.8"/>
<path d="M208.2 84.7L211.8 84.7M210.0 82.9L210.0 86.4" stroke="#fb9a99" stroke-width="0.8"/>
<path d="M210.5 84.5L214.0 84.5M212.3 82.7L212.3 86.3" stroke="#fb9a99" stroke-width="0.8"/>
<path d="M212.8 84.6L216.4 84.6M214.6 82.8L214.6 86.4" stroke="#fb9a99" stroke-width="0.8"/>
<path d="M216.1 85.5L219.7 85.5M217.9 83.7L217.9 87.3" stroke="#fb9a99" stroke-width="0.8"/>
<path d="M217.7 85.5L221.3 85.5M219.5 83.7L219.5 87.3" stroke="#fb9a99" stroke-width="0.8"/>
<path d="M221.4 85.0L225.0 85.0M223.2 83.2L223.2 86.8" stroke="#fb9a99" stroke-width="0.8"/>
<path d="M77.8 100.2L81.4 98.4L81.4 102.0Z" fill="#e31a1c"/>
<path d="M100.9 93.2L104.5 91.4L104.5 95.0Z" fill="#e31a1c"/>
<path d="M113.0 93.6L116.6 91.8L116.6 95.4Z" fill="#e31a1c"/>
<path d="M116.3 91.4L119.9 89.6L119.9 93.2Z" fill="#e31a1c"/>
<path d="M120.2 92.5L123.8 90.7L123.8 94.3Z" fill="#e31a1c"/>
<path d="M129.5 87.0L133.1 85.2L133.1 88.8Z" fill="#e31a1c"/>
<path d="M134.2 87.5L137.8 85.7L137.8 89.3Z" fill="#e31a1c"/>
<path d="M145.2 85.7L148.8 83.9L148.8 87.5Z" fill="#e31a1c"/>
<path d="M156.5 87.7L160.1 85.9L160.1 89.5Z" fill="#e31a1c"/>
<path d="M167.8 83.0L171.4 81.2L171.4 84.8Z" fill="#e31a1c"/>
<path d="M177.1 81.0L180.7 79.2L180.7 82.8Z" fill="#e31a1c"/>
<path d="M184.3 81.7L187.9 79.9L187.9 83.5Z" fill="#e31a1c"/>
<path d="M188.2 77.7L191.8 75.9L191.8 79.5Z" fill="#e31a1c"/>
<path d="M190.2 72.4L193.8 70.6L193.8 74.2Z" fill="#e31a1c"/>
<path d="M198.2 82.0L201.8 80.2L201.8 83.8Z" fill="#e31a1c"/>
<path d="M207.4 83.6L211.0 81.8L211.0 85.4Z" fill="#e31a1c"/>
<path d="M205.5 83.5L209.3 81.6L209.3 85.4Z" fill="#e31a1c"/>
<path d="M206.4 83.7L210.3 81.8L210.3 85.6Z" fill="#e31a1c"/>
<path d="M207.7 83.0L211.5 81.1L211.5 84.9Z" fill="#e31a1c"/>
<path d="M209.4 83.2L213.2 81.3L213.2 85.1Z" fill="#e31a1c"/>
<path d="M210.3 82.7L214.1 80.8L214.1 84.6Z" fill="#e31a1c"/>
<path d="M212.1 82.2L215.9 80.3L215.9 84.1Z" fill="#e31a1c"/>
<path d="M213.1 81.5L216.9 79.6L216.9 83.4Z" fill="#e31a1c"/>
<path d="M214.0 80.9L217.9 79.0L217.9 82.8Z" fill="#e31a1c"/>
<path d="M215.4 81.3L219.2 79.4L219.2 83.2Z" fill="#e31a1c"/>
<path d="M217.0 80.4L220.8 78.4L220.8 82.3Z" fill="#e31a1c"/>
<path d="M218.2 80.9L222.0 79.0L222.0 82.8Z" fill="#e31a1c"/>
<path d="M220.5 80.4L224.3 78.5L224.3 82.3Z" fill="#e31a1c"/>
<path d="M221.1 79.6L224.9 77.7L224.9 81.5Z" fill="#e31a1c"/>
<path d="M222.5 79.6L226.3 77.7L226.3 81.5Z" fill="#e31a1c"/>
<path d="M223.7 79.3L227.5 77.4L227.5 81.2Z" fill="#e31a1c"/>
<path d="M225.2 79.7L229.0 77.8L229.0 81.6Z" fill="#e31a1c"/>
<path d="M81.9 100.6L85.1 103.7M81.9 103.7L85.1 100.6" stroke="#fdbf6f" stroke-width="0.9"/>
<path d="M83.2 101.4L86.3 104.5M83.2 104.5L86.3 101.4" stroke="#fdbf6f" stroke-width="0.9"/>
<path d="M86.9 99.0L90.1 102.1M86.9 102.1L90.1 99.0" stroke="#fdbf6f" stroke-width="0.9"/>
<path d="M89.5 98.5L92.7 101.7M89.5 101.7L92.7 98.5" stroke="#fdbf6f" stroke-width="0.9"/>
<path d="M94.6 98.4L97.7 101.5M94.6 101.5L97.7 98.4" stroke="#fdbf6f" stroke-width="0.9"/>
<path d="M97.3 97.9L100.4 101.0M97.3 101.0L100.4 97.9" stroke="#fdbf6f" stroke-width="0.9"/>
<path d="M100.2 96.6L103.4 99.8M100.2 99.8L103.4 96.6" stroke="#fdbf6f" stroke-width="0.9"/>
<path d="M104.0 96.5L107.2 99.7M104.0 99.7L107.2 96.5" stroke="#fdbf6f" stroke-width="0.9"/>
<path d="M107.5 94.8L110.6 98.0M107.5 98.0L110.6 94.8" stroke="#fdbf6f" stroke-width="0.9"/>
<path d="M111.9 95.0L115.0 98.2M111.9 98.2L115.0 95.0" stroke="#fdbf6f" stroke-width="0.9"/>
<path d="M116.3 95.5L119.5 98.6M116.3 98.6L119.5 95.5" stroke="#fdbf6f" stroke-width="0.9"/>
<path d="M120.4 95.4L123.6 98.6M120.4 98.6L123.6 95.4" stroke="#fdbf6f" stroke-width="0.9"/>
<path d="M123.9 95.7L127.0 98.8M123.9 98.8L127.0 95.7" stroke="#fdbf6f" stroke-width="0.9"/>
<path d="M126.4 93.4L129.5 96.6M126.4 96.6L129.5 93.4" stroke="#fdbf6f" stroke-width="0.9"/>
<path d="M131.9 92.4L135.0 95.5M131.9 95.5L135.0 92.4" stroke="#fdbf6f" stroke-width="0.9"/>
<path d="M134.6 93.5L137.7 96.6M134.6 96.6L137.7 93.5" stroke="#fdbf6f" stroke-width="0.9"/>
<path d="M136.0 93.6L139.1 96.8M136.0 96.8L139.1 93.6" stroke="#fdbf6f" stroke-width="0.9"/>
<path d="M142.3 92.6L145.4 95.7M142.3 95.7L145.4 92.6" stroke="#fdbf6f" stroke-width="0.9"/>
<path d="M145.3 92.8L148.5 96.0M145.3 96.0L148.5 92.8" stroke="#fdbf6f" stroke-width="0.9"/>
<path d="M147.0 91.5L150.2 94.7M147.0 94.7L150.2 91.5" stroke="#fdbf6f" stroke-width="0.9"/>
<path d="M151.8 92.2L154.9 95.3M151.8 95.3L154.9 92.2" stroke="#fdbf6f" stroke-width="0.9"/>
<path d="M156.3 91.8L159.5 94.9M156.3 94.9L159.5 91.8" stroke="#fdbf6f" stroke-width="0.9"/>
<path d="M159.2 91.6L162.3 94.7M159.2 94.7L162.3 91.6" stroke="#fdbf6f" stroke-width="0.9"/>
<path d="M163.0 90.1L166.1 93.3M163.0 93.3L166.1 90.1" stroke="#fdbf6f" stroke-width="0.9"/>
<path d="M165.1 87.2L168.2 90.4M165.1 90.4L168.2 87.2" stroke="#fdbf6f" stroke-width="0.9"/>
<path d="M168.3 87.5L171.4 90.6M168.3 90.6L171.4 87.5" stroke="#fdbf6f" stroke-width="0.9"/>
<circle cx="66.1" cy="110.2" r="1.68" fill="#ff7f00"/>
<circle cx="131.3" cy="91.4" r="1.68" fill="#ff7f00"/>
<circle cx="130.6" cy="85.7" r="1.68" fill="#ff7f00"/>
<circle cx="97.0" cy="103.7" r="1.79" fill="#ff7f00"/>
<circle cx="100.1" cy="103.4" r="1.79" fill="#ff7f00"/>
<circle cx="102.9" cy="103.2" r="1.79" fill="#ff7f00"/>
<circle cx="105.7" cy="102.5" r="1.79" fill="#ff7f00"/>
<circle cx="108.7" cy="102.8" r="1.79" fill="#ff7f00"/>
<circle cx="111.3" cy="102.3" r="1.79" fill="#ff7f00"/>
<circle cx="114.2" cy="101.5" r="1.79" fill="#ff7f00"/>
<circle cx="117.0" cy="101.1" r="1.79" fill="#ff7f00"/>
<circle cx="119.4" cy="100.5" r="1.79" fill="#ff7f00"/>
<circle cx="122.6" cy="100.0" r="1.79" fill="#ff7f00"/>
<circle cx="125.4" cy="99.9" r="1.79" fill="#ff7f00"/>
<circle cx="128.0" cy="99.0" r="1.79" fill="#ff7f00"/>
<circle cx="128.0" cy="99.2" r="1.79" fill="#ff7f00"/>
<circle cx="130.7" cy="99.0" r="1.79" fill="#ff7f00"/>
<circle cx="133.1" cy="98.4" r="1.79" fill="#ff7f00"/>
<circle cx="135.2" cy="98.4" r="1.79" fill="#ff7f00"/>
<circle cx="138.2" cy="98.2" r="1.79" fill="#ff7f00"/>
<circle cx="140.5" cy="97.8" r="1.79" fill="#ff7f00"/>
<circle cx="142.6" cy="97.8" r="1.79" fill="#ff7f00"/>
<circle cx="145.6" cy="98.0" r="1.79" fill="#ff7f00"/>
<circle cx="148.1" cy="97.5" r="1.79" fill="#ff7f00"/>
<circle cx="150.5" cy="97.4" r="1.79" fill="#ff7f00"/>
<circle cx="153.0" cy="97.0" r="1.79" fill="#ff7f00"/>
<circle cx="155.8" cy="96.8" r="1.79" fill="#ff7f00"/>
<circle cx="158.4" cy="97.3" r="1.79" fill="#ff7f00"/>
<circle cx="160.1" cy="96.7" r="1.79" fill="#ff7f00"/>
<circle cx="163.2" cy="96.9" r="1.79" fill="#ff7f00"/>
<circle cx="165.4" cy="96.2" r="1.79" fill="#ff7f00"/>
<circle cx="167.7" cy="96.5" r="1.79" fill="#ff7f00"/>
<circle cx="170.2" cy="96.0" r="1.79" fill="#ff7f00"/>
<circle cx="172.7" cy="95.8" r="1.79" fill="#ff7f00"/>
<circle cx="175.8" cy="95.3" r="1.79" fill="#ff7f00"/>
<circle cx="178.2" cy="95.4" r="1.79" fill="#ff7f00"/>
<circle cx="180.8" cy="95.4" r="1.79" fill="#ff7f00"/>
<circle cx="182.8" cy="95.4" r="1.79" fill="#ff7f00"/>
<circle cx="185.4" cy="94.3" r="1.79" fill="#ff7f00"/>
<circle cx="187.5" cy="94.0" r="1.79" fill="#ff7f00"/>
<circle cx="190.2" cy="93.3" r="1.79" fill="#ff7f00"/>
<circle cx="192.4" cy="92.7" r="1.79" fill="#ff7f00"/>
<circle cx="195.0" cy="92.5" r="1.79" fill="#ff7f00"/>
<circle cx="197.2" cy="91.8" r="1.79" fill="#ff7f00"/>
<circle cx="200.3" cy="90.7" r="1.79" fill="#ff7f00"/>
<circle cx="202.8" cy="90.8" r="1.79" fill="#ff7f00"/>
<circle cx="205.3" cy="90.0" r="1.79" fill="#ff7f00"/>
<circle cx="207.3" cy="89.7" r="1.79" fill="#ff7f00"/>
<circle cx="210.3" cy="89.5" r="1.79" fill="#ff7f00"/>
<circle cx="53.0" cy="114.3" r="1.68" fill="#cab2d6"/>
<circle cx="57.0" cy="115.5" r="1.68" fill="#cab2d6"/>
<circle cx="60.0" cy="115.0" r="1.68" fill="#cab2d6"/>
<circle cx="151.7" cy="89.7" r="1.68" fill="#cab2d6"/>
<circle cx="215.0" cy="86.0" r="1.68" fill="#cab2d6"/>
<circle cx="222.0" cy="86.0" r="1.68" fill="#cab2d6"/>
<circle cx="65.6" cy="105.8" r="1.68" fill="#cab2d6"/>
<circle cx="70.4" cy="104.0" r="1.68" fill="#cab2d6"/>
<circle cx="74.8" cy="105.1" r="1.68" fill="#cab2d6"/>
<circle cx="80.3" cy="104.5" r="1.68" fill="#cab2d6"/>
<circle cx="85.1" cy="101.9" r="1.68" fill="#cab2d6"/>
<circle cx="90.7" cy="100.8" r="1.68" fill="#cab2d6"/>
<circle cx="95.3" cy="102.0" r="1.68" fill="#cab2d6"/>
<circle cx="101.6" cy="100.7" r="1.68" fill="#cab2d6"/>
<circle cx="105.8" cy="100.0" r="1.68" fill="#cab2d6"/>
<circle cx="111.6" cy="98.0" r="1.68" fill="#cab2d6"/>
<circle cx="115.9" cy="95.8" r="1.68" fill="#cab2d6"/>
<circle cx="120.8" cy="95.8" r="1.68" fill="#cab2d6"/>
<circle cx="125.8" cy="95.3" r="1.68" fill="#cab2d6"/>
<circle cx="129.6" cy="93.0" r="1.68" fill="#cab2d6"/>
<circle cx="136.2" cy="92.4" r="1.68" fill="#cab2d6"/>
<circle cx="139.9" cy="92.2" r="1.68" fill="#cab2d6"/>
<circle cx="144.4" cy="92.4" r="1.68" fill="#cab2d6"/>
<circle cx="151.2" cy="90.4" r="1.68" fill="#cab2d6"/>
<circle cx="155.3" cy="90.0" r="1.68" fill="#cab2d6"/>
<circle cx="160.1" cy="89.7" r="1.68" fill="#cab2d6"/>
<circle cx="164.0" cy="88.6" r="1.68" fill="#cab2d6"/>
<circle cx="169.1" cy="90.1" r="1.68" fill="#cab2d6"/>
<circle cx="174.9" cy="87.8" r="1.68" fill="#cab2d6"/>
<circle cx="180.9" cy="89.6" r="1.68" fill="#cab2d6"/>
<circle cx="184.8" cy="87.2" r="1.68" fill="#cab2d6"/>
<circle cx="189.1" cy="86.8" r="1.68" fill="#cab2d6"/>
<circle cx="194.5" cy="86.6" r="1.68" fill="#cab2d6"/>
<circle cx="199.3" cy="86.9" r="1.68" fill="#cab2d6"/>
<circle cx="205.1" cy="88.3" r="1.68" fill="#cab2d6"/>
<circle cx="210.6" cy="86.9" r="1.68" fill="#cab2d6"/>
<circle cx="214.7" cy="87.0" r="1.68" fill="#cab2d6"/>
<circle cx="219.7" cy="86.3" r="1.68" fill="#cab2d6"/>
<circle cx="223.8" cy="85.9" r="1.68" fill="#cab2d6"/>
<circle cx="231.2" cy="85.3" r="1.68" fill="#cab2d6"/>
<path d="M50.4 109.1L53.6 112.2M50.4 112.2L53.6 109.1" stroke="#6a3d9a" stroke-width="0.9"/>
<path d="M53.8 108.4L56.9 111.5M53.8 111.5L56.9 108.4" stroke="#6a3d9a" stroke-width="0.9"/>
<path d="M55.9 108.1L59.1 111.3M55.9 111.3L59.1 108.1" stroke="#6a3d9a" stroke-width="0.9"/>
<path d="M59.0 108.1L62.1 111.3M59.0 111.3L62.1 108.1" stroke="#6a3d9a" stroke-width="0.9"/>
<path d="M62.6 108.4L65.7 111.5M62.6 111.5L65.7 108.4" stroke="#6a3d9a" stroke-width="0.9"/>
<path d="M65.3 107.2L68.5 110.3M65.3 110.3L68.5 107.2" stroke="#6a3d9a" stroke-width="0.9"/>
<path d="M67.2 107.7L70.4 110.9M67.2 110.9L70.4 107.7" stroke="#6a3d9a" stroke-width="0.9"/>
<path d="M71.1 107.0L74.3 110.1M71.1 110.1L74.3 107.0" stroke="#6a3d9a" stroke-width="0.9"/>
<path d="M73.6 105.8L76.7 109.0M73.6 109.0L76.7 105.8" stroke="#6a3d9a" stroke-width="0.9"/>
<path d="M76.2 106.4L79.4 109.5M76.2 109.5L79.4 106.4" stroke="#6a3d9a" stroke-width="0.9"/>
<path d="M79.6 105.7L82.7 108.8M79.6 108.8L82.7 105.7" stroke="#6a3d9a" stroke-width="0.9"/>
<path d="M82.6 104.4L85.7 107.5M82.6 107.5L85.7 104.4" stroke="#6a3d9a" stroke-width="0.9"/>
<path d="M84.4 103.7L87.6 106.9M84.4 106.9L87.6 103.7" stroke="#6a3d9a" stroke-width="0.9"/>
<path d="M87.8 103.8L90.9 106.9M87.8 106.9L90.9 103.8" stroke="#6a3d9a" stroke-width="0.9"/>
<path d="M91.1 103.3L94.3 106.4M91.1 106.4L94.3 103.3" stroke="#6a3d9a" stroke-width="0.9"/>
<path d="M93.6 102.7L96.7 105.9M93.6 105.9L96.7 102.7" stroke="#6a3d9a" stroke-width="0.9"/>
<path d="M93.3 95.6L96.5 98.7M93.3 98.7L96.5 95.6" stroke="#6a3d9a" stroke-width="0.9"/>
<path d="M97.7 95.5L100.8 98.6M97.7 98.6L100.8 95.5" stroke="#6a3d9a" stroke-width="0.9"/>
<path d="M103.5 95.2L106.7 98.3M103.5 98.3L106.7 95.2" stroke="#6a3d9a" stroke-width="0.9"/>
<path d="M109.9 93.1L113.0 96.3M109.9 96.3L113.0 93.1" stroke="#6a3d9a" stroke-width="0.9"/>
<path d="M114.0 92.4L117.2 95.5M114.0 95.5L117.2 92.4" stroke="#6a3d9a" stroke-width="0.9"/>
<path d="M120.6 92.8L123.8 96.0M120.6 96.0L123.8 92.8" stroke="#6a3d9a" stroke-width="0.9"/>
<path d="M124.8 90.7L127.9 93.8M124.8 93.8L127.9 90.7" stroke="#6a3d9a" stroke-width="0.9"/>
<path d="M131.1 91.4L134.3 94.5M131.1 94.5L134.3 91.4" stroke="#6a3d9a" stroke-width="0.9"/>
<path d="M136.2 90.0L139.3 93.1M136.2 93.1L139.3 90.0" stroke="#6a3d9a" stroke-width="0.9"/>
<path d="M142.1 88.9L145.2 92.1M142.1 92.1L145.2 88.9" stroke="#6a3d9a" stroke-width="0.9"/>
<path d="M146.8 89.5L149.9 92.6M146.8 92.6L149.9 89.5" stroke="#6a3d9a" stroke-width="0.9"/>
<path d="M153.7 89.5L156.9 92.6M153.7 92.6L156.9 89.5" stroke="#6a3d9a" stroke-width="0.9"/>
<path d="M159.0 88.7L162.1 91.9M159.0 91.9L162.1 88.7" stroke="#6a3d9a" stroke-width="0.9"/>
<path d="M162.8 87.8L165.9 91.0M162.8 91.0L165.9 87.8" stroke="#6a3d9a" stroke-width="0.9"/>
<path d="M202.1 83.9L205.2 87.1M202.1 87.1L205.2 83.9" stroke="#6a3d9a" stroke-width="1.0"/>
<path d="M193.4 85.6L196.5 88.7M193.4 88.7L196.5 85.6" stroke="#6a3d9a" stroke-width="1.0"/>
<path d="M185.7 85.0L188.9 88.1M185.7 88.1L188.9 85.0" stroke="#6a3d9a" stroke-width="1.0"/>
<path d="M189.5 86.1L192.6 89.2M189.5 89.2L192.6 86.1" stroke="#6a3d9a" stroke-width="1.0"/>
<path d="M189.2 80.9L192.3 84.1M189.2 84.1L192.3 80.9" stroke="#6a3d9a" stroke-width="1.0"/>
<path d="M194.2 85.8L197.3 88.9M194.2 88.9L197.3 85.8" stroke="#6a3d9a" stroke-width="1.0"/>
<path d="M190.5 87.6L193.7 90.7M190.5 90.7L193.7 87.6" stroke="#6a3d9a" stroke-width="1.0"/>
<path d="M192.1 83.0L195.2 86.1M192.1 86.1L195.2 83.0" stroke="#6a3d9a" stroke-width="1.0"/>
<path d="M196.4 81.0L199.6 84.1M196.4 84.1L199.6 81.0" stroke="#6a3d9a" stroke-width="1.0"/>
<path d="M189.4 84.9L192.5 88.0M189.4 88.0L192.5 84.9" stroke="#6a3d9a" stroke-width="1.0"/>
<path d="M199.4 84.4L202.6 87.6M199.4 87.6L202.6 84.4" stroke="#6a3d9a" stroke-width="1.0"/>
<path d="M196.0 82.8L199.1 86.0M196.0 86.0L199.1 82.8" stroke="#6a3d9a" stroke-width="1.0"/>
<path d="M195.5 89.1L198.6 92.2M195.5 92.2L198.6 89.1" stroke="#6a3d9a" stroke-width="1.0"/>
<path d="M191.2 89.4L194.3 92.6M191.2 92.6L194.3 89.4" stroke="#6a3d9a" stroke-width="1.0"/>
<path d="M189.6 85.0L192.7 88.1M189.6 88.1L192.7 85.0" stroke="#6a3d9a" stroke-width="1.0"/>
<path d="M195.0 88.0L198.1 91.1M195.0 91.1L198.1 88.0" stroke="#6a3d9a" stroke-width="1.0"/>
<path d="M189.0 80.9L192.1 84.0M189.0 84.0L192.1 80.9" stroke="#6a3d9a" stroke-width="1.0"/>
<path d="M197.7 87.3L200.9 90.5M197.7 90.5L200.9 87.3" stroke="#6a3d9a" stroke-width="1.0"/>
<path d="M196.2 89.5L199.3 92.7M196.2 92.7L199.3 89.5" stroke="#6a3d9a" stroke-width="1.0"/>
<path d="M195.4 85.8L198.5 88.9M195.4 88.9L198.5 85.8" stroke="#6a3d9a" stroke-width="1.0"/>
<path d="M199.8 86.0L202.9 89.2M199.8 89.2L202.9 86.0" stroke="#6a3d9a" stroke-width="1.0"/>
<path d="M201.5 82.2L204.6 85.4M201.5 85.4L204.6 82.2" stroke="#6a3d9a" stroke-width="1.0"/>
<path d="M192.8 80.2L196.0 83.3M192.8 83.3L196.0 80.2" stroke="#6a3d9a" stroke-width="1.0"/>
<path d="M199.1 83.8L202.3 86.9M199.1 86.9L202.3 83.8" stroke="#6a3d9a" stroke-width="1.0"/>
<path d="M197.7 89.2L200.9 92.3M197.7 92.3L200.9 89.2" stroke="#6a3d9a" stroke-width="1.0"/>
<path d="M193.9 84.1L197.0 87.2M193.9 87.2L197.0 84.1" stroke="#6a3d9a" stroke-width="1.0"/>
<path d="M190.8 82.4L193.9 85.5M190.8 85.5L193.9 82.4" stroke="#6a3d9a" stroke-width="1.0"/>
<path d="M189.9 86.9L193.0 90.0M189.9 90.0L193.0 86.9" stroke="#6a3d9a" stroke-width="1.0"/>
<path d="M194.2 85.2L197.3 88.3M194.2 88.3L197.3 85.2" stroke="#6a3d9a" stroke-width="1.0"/>
<path d="M192.8 87.7L196.0 90.9M192.8 90.9L196.0 87.7" stroke="#6a3d9a" stroke-width="1.0"/>
<path d="M197.3 84.5L200.4 87.6M197.3 87.6L200.4 84.5" stroke="#6a3d9a" stroke-width="1.0"/>
<path d="M198.4 84.4L201.5 87.6M198.4 87.6L201.5 84.4" stroke="#6a3d9a" stroke-width="1.0"/>
<path d="M188.3 88.3L191.4 91.5M188.3 91.5L191.4 88.3" stroke="#6a3d9a" stroke-width="1.0"/>
<path d="M196.8 82.1L199.9 85.2M196.8 85.2L199.9 82.1" stroke="#6a3d9a" stroke-width="1.0"/>
<path d="M200.5 85.9L203.6 89.1M200.5 89.1L203.6 85.9" stroke="#6a3d9a" stroke-width="1.0"/>
<path d="M187.2 88.2L190.4 91.4M187.2 91.4L190.4 88.2" stroke="#6a3d9a" stroke-width="1.0"/>
<path d="M196.0 87.6L199.2 90.8M196.0 90.8L199.2 87.6" stroke="#6a3d9a" stroke-width="1.0"/>
<path d="M195.3 84.4L198.5 87.6M195.3 87.6L198.5 84.4" stroke="#6a3d9a" stroke-width="1.0"/>
<path d="M186.3 87.2L189.4 90.4M186.3 90.4L189.4 87.2" stroke="#6a3d9a" stroke-width="1.0"/>
<path d="M194.1 84.0L197.3 87.1M194.1 87.1L197.3 84.0" stroke="#6a3d9a" stroke-width="1.0"/>
<path d="M196.4 85.2L199.5 88.3M196.4 88.3L199.5 85.2" stroke="#6a3d9a" stroke-width="1.0"/>
<path d="M198.4 83.8L201.5 86.9M198.4 86.9L201.5 83.8" stroke="#6a3d9a" stroke-width="1.0"/>
<path d="M193.8 80.4L196.9 83.5M193.8 83.5L196.9 80.4" stroke="#6a3d9a" stroke-width="1.0"/>
<path d="M191.2 87.1L194.3 90.2M191.2 90.2L194.3 87.1" stroke="#6a3d9a" stroke-width="1.0"/>
<path d="M201.5 83.9L204.6 87.1M201.5 87.1L204.6 83.9" stroke="#6a3d9a" stroke-width="1.0"/>
<path d="M193.3 89.0L196.4 92.1M193.3 92.1L196.4 89.0" stroke="#6a3d9a" stroke-width="1.0"/>
<path d="M191.8 87.2L194.9 90.4M191.8 90.4L194.9 87.2" stroke="#6a3d9a" stroke-width="1.0"/>
<path d="M202.6 85.0L205.8 88.2M202.6 88.2L205.8 85.0" stroke="#6a3d9a" stroke-width="1.0"/>
<path d="M200.8 83.0L204.0 86.2M200.8 86.2L204.0 83.0" stroke="#6a3d9a" stroke-width="1.0"/>
<path d="M195.4 84.7L198.5 87.8M195.4 87.8L198.5 84.7" stroke="#6a3d9a" stroke-width="1.0"/>
<path d="M194.6 88.2L197.8 91.4M194.6 91.4L197.8 88.2" stroke="#6a3d9a" stroke-width="1.0"/>
<path d="M203.3 83.7L206.5 86.8M203.3 86.8L206.5 83.7" stroke="#6a3d9a" stroke-width="1.0"/>
<path d="M190.1 86.5L193.3 89.6M190.1 89.6L193.3 86.5" stroke="#6a3d9a" stroke-width="1.0"/>
<path d="M187.6 86.4L190.7 89.5M187.6 89.5L190.7 86.4" stroke="#6a3d9a" stroke-width="1.0"/>
<path d="M197.8 84.0L200.9 87.2M197.8 87.2L200.9 84.0" stroke="#6a3d9a" stroke-width="1.0"/>
<path d="M196.7 81.0L199.9 84.2M196.7 84.2L199.9 81.0" stroke="#6a3d9a" stroke-width="1.0"/>
<path d="M197.8 81.1L200.9 84.3M197.8 84.3L200.9 81.1" stroke="#6a3d9a" stroke-width="1.0"/>
<path d="M189.5 83.2L192.6 86.4M189.5 86.4L192.6 83.2" stroke="#6a3d9a" stroke-width="1.0"/>
<path d="M191.4 87.5L194.5 90.7M191.4 90.7L194.5 87.5" stroke="#6a3d9a" stroke-width="1.0"/>
<path d="M194.5 83.6L197.6 86.7M194.5 86.7L197.6 83.6" stroke="#6a3d9a" stroke-width="1.0"/>
<path d="M196.8 88.9L199.9 92.0M196.8 92.0L199.9 88.9" stroke="#6a3d9a" stroke-width="1.0"/>
<path d="M194.0 86.2L197.1 89.3M194.0 89.3L197.1 86.2" stroke="#6a3d9a" stroke-width="1.0"/>
<path d="M201.2 85.7L204.3 88.8M201.2 88.8L204.3 85.7" stroke="#6a3d9a" stroke-width="1.0"/>
<path d="M189.4 89.2L192.5 92.3M189.4 92.3L192.5 89.2" stroke="#6a3d9a" stroke-width="1.0"/>
<path d="M201.3 81.7L204.5 84.9M201.3 84.9L204.5 81.7" stroke="#6a3d9a" stroke-width="1.0"/>
<path d="M193.7 86.3L196.8 89.5M193.7 89.5L196.8 86.3" stroke="#6a3d9a" stroke-width="1.0"/>
<path d="M199.7 86.9L202.9 90.0M199.7 90.0L202.9 86.9" stroke="#6a3d9a" stroke-width="1.0"/>
<path d="M192.3 81.8L195.4 85.0M192.3 85.0L195.4 81.8" stroke="#6a3d9a" stroke-width="1.0"/>
<path d="M194.6 88.0L197.7 91.2M194.6 91.2L197.7 88.0" stroke="#6a3d9a" stroke-width="1.0"/>
<path d="M188.0 82.2L191.1 85.4M188.0 85.4L191.1 82.2" stroke="#6a3d9a" stroke-width="1.0"/>
<path d="M193.8 80.5L197.0 83.7M193.8 83.7L197.0 80.5" stroke="#6a3d9a" stroke-width="1.0"/>
<path d="M192.1 83.5L195.3 86.6M192.1 86.6L195.3 83.5" stroke="#6a3d9a" stroke-width="1.0"/>
<path d="M196.9 82.7L200.0 85.9M196.9 85.9L200.0 82.7" stroke="#6a3d9a" stroke-width="1.0"/>
<path d="M188.4 83.7L191.5 86.9M188.4 86.9L191.5 83.7" stroke="#6a3d9a" stroke-width="1.0"/>
<path d="M193.6 82.8L196.7 85.9M193.6 85.9L196.7 82.8" stroke="#6a3d9a" stroke-width="1.0"/>
<path d="M49.4 107.6L52.6 110.8M49.4 110.8L52.6 107.6" stroke="#6a3d9a" stroke-width="0.9"/>
<path d="M51.0 108.4L54.1 111.6M51.0 111.6L54.1 108.4" stroke="#6a3d9a" stroke-width="0.9"/>
<path d="M53.4 107.3L56.5 110.5M53.4 110.5L56.5 107.3" stroke="#6a3d9a" stroke-width="0.9"/>
<path d="M54.8 108.2L57.9 111.3M54.8 111.3L57.9 108.2" stroke="#6a3d9a" stroke-width="0.9"/>
<path d="M56.7 106.7L59.8 109.9M56.7 109.9L59.8 106.7" stroke="#6a3d9a" stroke-width="0.9"/>
<path d="M58.9 107.2L62.0 110.3M58.9 110.3L62.0 107.2" stroke="#6a3d9a" stroke-width="0.9"/>
<path d="M60.9 106.1L64.0 109.2M60.9 109.2L64.0 106.1" stroke="#6a3d9a" stroke-width="0.9"/>
<path d="M61.7 107.0L64.9 110.2M61.7 110.2L64.9 107.0" stroke="#6a3d9a" stroke-width="0.9"/>
<path d="M64.0 107.0L67.2 110.1M64.0 110.1L67.2 107.0" stroke="#6a3d9a" stroke-width="0.9"/>
<path d="M64.5 105.8L67.6 108.9M64.5 108.9L67.6 105.8" stroke="#6a3d9a" stroke-width="0.9"/>
<path d="M66.3 105.4L69.4 108.5M66.3 108.5L69.4 105.4" stroke="#6a3d9a" stroke-width="0.9"/>
<path d="M69.4 105.8L72.5 108.9M69.4 108.9L72.5 105.8" stroke="#6a3d9a" stroke-width="0.9"/>
<path d="M71.0 105.3L74.1 108.4M71.0 108.4L74.1 105.3" stroke="#6a3d9a" stroke-width="0.9"/>
<path d="M72.6 105.2L75.7 108.3M72.6 108.3L75.7 105.2" stroke="#6a3d9a" stroke-width="0.9"/>
<path d="M73.3 105.5L76.5 108.6M73.3 108.6L76.5 105.5" stroke="#6a3d9a" stroke-width="0.9"/>
<path d="M76.1 104.2L79.3 107.3M76.1 107.3L79.3 104.2" stroke="#6a3d9a" stroke-width="0.9"/>
<circle cx="55.2" cy="111.2" r="1.68" fill="#cab2d6"/>
<circle cx="56.4" cy="109.4" r="1.68" fill="#cab2d6"/>
<circle cx="58.0" cy="107.8" r="1.68" fill="#cab2d6"/>
<circle cx="60.0" cy="107.0" r="1.68" fill="#cab2d6"/>
<circle cx="62.8" cy="105.8" r="1.68" fill="#cab2d6"/>
<circle cx="64.0" cy="105.7" r="1.68" fill="#cab2d6"/>
<circle cx="67.3" cy="105.2" r="1.68" fill="#cab2d6"/>
<circle cx="69.0" cy="105.0" r="1.68" fill="#cab2d6"/>
<circle cx="72.0" cy="105.3" r="1.68" fill="#cab2d6"/>
<circle cx="73.1" cy="104.4" r="1.68" fill="#cab2d6"/>
<circle cx="55.3" cy="114.4" r="1.79" fill="#ffff99"/>
<circle cx="58.5" cy="112.3" r="1.79" fill="#ffff99"/>
<circle cx="63.4" cy="115.1" r="1.79" fill="#ffff99"/>
<circle cx="56.4" cy="113.9" r="1.79" fill="#ffff99"/>
<circle cx="57.2" cy="115.7" r="1.79" fill="#ffff99"/>
<circle cx="57.7" cy="115.1" r="1.79" fill="#ffff99"/>
<circle cx="56.8" cy="114.5" r="1.79" fill="#ffff99"/>
<circle cx="65.3" cy="110.7" r="1.79" fill="#ffff99"/>
<circle cx="57.7" cy="114.0" r="1.79" fill="#ffff99"/>
<circle cx="59.5" cy="111.7" r="1.79" fill="#ffff99"/>
<circle cx="67.6" cy="113.1" r="1.79" fill="#ffff99"/>
<circle cx="53.6" cy="114.3" r="1.79" fill="#ffff99"/>
<circle cx="53.8" cy="114.6" r="1.79" fill="#ffff99"/>
<circle cx="56.9" cy="113.3" r="1.79" fill="#ffff99"/>
<circle cx="65.9" cy="113.2" r="1.79" fill="#ffff99"/>
<circle cx="55.2" cy="110.8" r="1.79" fill="#ffff99"/>
<circle cx="65.3" cy="114.3" r="1.79" fill="#ffff99"/>
<circle cx="56.1" cy="114.5" r="1.79" fill="#ffff99"/>
<circle cx="62.6" cy="114.3" r="1.79" fill="#ffff99"/>
<circle cx="52.4" cy="112.6" r="1.79" fill="#ffff99"/>
<circle cx="64.3" cy="114.3" r="1.79" fill="#ffff99"/>
<circle cx="62.7" cy="110.2" r="1.79" fill="#ffff99"/>
<path d="M74.6 98.4L77.7 101.5M74.6 101.5L77.7 98.4" stroke="#fdbf6f" stroke-width="0.9"/>
<path d="M78.7 100.5L81.8 103.7M78.7 103.7L81.8 100.5" stroke="#fdbf6f" stroke-width="0.9"/>
<path d="M79.3 97.7L82.5 100.9M79.3 100.9L82.5 97.7" stroke="#fdbf6f" stroke-width="0.9"/>
<path d="M82.6 98.4L85.7 101.6M82.6 101.6L85.7 98.4" stroke="#fdbf6f" stroke-width="0.9"/>
<path d="M84.5 98.9L87.6 102.0M84.5 102.0L87.6 98.9" stroke="#fdbf6f" stroke-width="0.9"/>
<path d="M86.2 97.3L89.4 100.5M86.2 100.5L89.4 97.3" stroke="#fdbf6f" stroke-width="0.9"/>
<path d="M88.1 97.3L91.3 100.4M88.1 100.4L91.3 97.3" stroke="#fdbf6f" stroke-width="0.9"/>
<path d="M89.0 98.7L92.2 101.9M89.0 101.9L92.2 98.7" stroke="#fdbf6f" stroke-width="0.9"/>
<path d="M92.2 96.5L95.3 99.6M92.2 99.6L95.3 96.5" stroke="#fdbf6f" stroke-width="0.9"/>
<path d="M92.4 96.7L95.6 99.8M92.4 99.8L95.6 96.7" stroke="#fdbf6f" stroke-width="0.9"/>
<path d="M95.2 96.3L98.3 99.4M95.2 99.4L98.3 96.3" stroke="#fdbf6f" stroke-width="0.9"/>
<path d="M96.1 95.5L99.2 98.6M96.1 98.6L99.2 95.5" stroke="#fdbf6f" stroke-width="0.9"/>
<path d="M99.7 96.9L102.8 100.1M99.7 100.1L102.8 96.9" stroke="#fdbf6f" stroke-width="0.9"/>
<path d="M99.7 95.6L102.9 98.7M99.7 98.7L102.9 95.6" stroke="#fdbf6f" stroke-width="0.9"/>
<circle cx="51.6" cy="115.4" r="1.79" fill="#ffff99"/>
<circle cx="54.7" cy="114.6" r="1.79" fill="#ffff99"/>
<circle cx="57.1" cy="114.7" r="1.79" fill="#ffff99"/>
<circle cx="60.1" cy="113.1" r="1.79" fill="#ffff99"/>
<circle cx="62.6" cy="113.1" r="1.79" fill="#ffff99"/>
<circle cx="65.6" cy="112.5" r="1.79" fill="#ffff99"/>
<circle cx="68.6" cy="111.3" r="1.79" fill="#ffff99"/>
<circle cx="70.6" cy="111.0" r="1.79" fill="#ffff99"/>
<circle cx="74.8" cy="109.4" r="1.79" fill="#ffff99"/>
<circle cx="78.4" cy="110.0" r="1.79" fill="#ffff99"/>
<circle cx="80.7" cy="107.9" r="1.79" fill="#ffff99"/>
<circle cx="83.7" cy="107.0" r="1.79" fill="#ffff99"/>
<circle cx="85.8" cy="106.9" r="1.79" fill="#ffff99"/>
<circle cx="88.7" cy="106.0" r="1.79" fill="#ffff99"/>
<circle cx="92.7" cy="104.2" r="1.79" fill="#ffff99"/>
<circle cx="95.9" cy="103.4" r="1.79" fill="#ffff99"/>
<circle cx="99.1" cy="104.1" r="1.79" fill="#ffff99"/>
<circle cx="101.5" cy="101.6" r="1.79" fill="#ffff99"/>
<circle cx="104.5" cy="101.8" r="1.79" fill="#ffff99"/>
<circle cx="108.6" cy="100.6" r="1.79" fill="#ffff99"/>
<circle cx="111.4" cy="102.1" r="1.79" fill="#ffff99"/>
<circle cx="114.2" cy="101.0" r="1.79" fill="#ffff99"/>
<circle cx="115.9" cy="100.8" r="1.79" fill="#ffff99"/>
<circle cx="119.6" cy="100.2" r="1.79" fill="#ffff99"/>
<circle cx="123.7" cy="97.9" r="1.79" fill="#ffff99"/>
<circle cx="126.5" cy="99.4" r="1.79" fill="#ffff99"/>
<circle cx="127.8" cy="97.6" r="1.79" fill="#ffff99"/>
<circle cx="132.5" cy="96.8" r="1.79" fill="#ffff99"/>
<circle cx="135.9" cy="96.7" r="1.79" fill="#ffff99"/>
<circle cx="138.8" cy="96.0" r="1.79" fill="#ffff99"/>
<circle cx="141.1" cy="97.5" r="1.79" fill="#ffff99"/>
<circle cx="143.4" cy="95.6" r="1.79" fill="#ffff99"/>
<circle cx="147.2" cy="95.4" r="1.79" fill="#ffff99"/>
<circle cx="149.2" cy="94.7" r="1.79" fill="#ffff99"/>
<circle cx="152.5" cy="96.3" r="1.79" fill="#ffff99"/>
<circle cx="156.9" cy="96.0" r="1.79" fill="#ffff99"/>
<circle cx="158.7" cy="95.5" r="1.79" fill="#ffff99"/>
<circle cx="161.6" cy="94.6" r="1.79" fill="#ffff99"/>
<circle cx="166.0" cy="94.0" r="1.79" fill="#ffff99"/>
<circle cx="169.6" cy="94.2" r="1.79" fill="#ffff99"/>
<circle cx="172.0" cy="94.8" r="1.79" fill="#ffff99"/>
<circle cx="173.9" cy="94.7" r="1.79" fill="#ffff99"/>
<circle cx="178.2" cy="93.0" r="1.79" fill="#ffff99"/>
<circle cx="181.7" cy="92.4" r="1.79" fill="#ffff99"/>
<circle cx="185.2" cy="92.9" r="1.79" fill="#ffff99"/>
<circle cx="186.8" cy="93.0" r="1.79" fill="#ffff99"/>
<circle cx="190.0" cy="91.1" r="1.79" fill="#ffff99"/>
<circle cx="193.8" cy="90.4" r="1.79" fill="#ffff99"/>
<circle cx="197.1" cy="90.4" r="1.79" fill="#ffff99"/>
<circle cx="199.7" cy="91.7" r="1.79" fill="#ffff99"/>
<circle cx="202.6" cy="90.5" r="1.79" fill="#ffff99"/>
<circle cx="205.0" cy="88.5" r="1.79" fill="#ffff99"/>
<circle cx="207.4" cy="88.4" r="1.79" fill="#ffff99"/>
<circle cx="211.8" cy="88.7" r="1.79" fill="#ffff99"/>
<circle cx="214.6" cy="89.3" r="1.79" fill="#ffff99"/>
<path d="M51.0 112.5L57.6 107.0L67.0 103.0L76.2 100.3" fill="none" stroke="#b15928" stroke-width="3.4" stroke-linecap="round" stroke-linejoin="round"/>
<path d="M51.0 109.8L51.8 115.5" fill="none" stroke="#b15928" stroke-width="3.8" stroke-linecap="round" stroke-linejoin="round"/>
<path d="M72.0 102.5L76.2 102.0L76.2 105.6" fill="none" stroke="#b15928" stroke-width="2.4" stroke-linecap="round" stroke-linejoin="round"/>
<path d="M76.2 105.6L96.2 106.2L96.2 108.4L118.6 107.7" fill="none" stroke="#b15928" stroke-width="2.4" stroke-linecap="round" stroke-linejoin="round"/>
<circle cx="81.4" cy="119.0" r="1.57" fill="#b15928"/>
<circle cx="157.6" cy="80.4" r="2.3" fill="#1f78b4" stroke="#333" stroke-width="0.7"/>
<circle cx="219.2" cy="65.6" r="2.1" fill="#33a02c" stroke="#333" stroke-width="0.7"/>
<circle cx="235.8" cy="77.0" r="2.3" fill="#b2df8a" stroke="#333" stroke-width="0.7"/>
<path d="M223.9 79.5L229.1 76.9L229.1 82.1Z" fill="#e31a1c"/>
<circle cx="222.8" cy="85.9" r="2.2" fill="#fb9a99" stroke="#333" stroke-width="0.7"/>
<path d="M221.0 85.9L224.6 85.9M222.8 84.1L222.8 87.7" stroke="#d66" stroke-width="0.8"/>
<circle cx="229.8" cy="86.4" r="2.3" fill="#cab2d6" stroke="#333" stroke-width="0.7"/>
<circle cx="171.3" cy="89.2" r="2.2" fill="none" stroke="#333" stroke-width="0.7"/>
<path d="M169.6 87.5L173.0 90.9M169.6 90.9L173.0 87.5" stroke="#fdbf6f" stroke-width="0.9"/>
<circle cx="209.9" cy="89.4" r="2.3" fill="#ff7f00" stroke="#333" stroke-width="0.7"/>
<circle cx="214.6" cy="88.4" r="2.3" fill="#ffff99" stroke="#333" stroke-width="0.7"/>
<circle cx="119.0" cy="107.5" r="2.4" fill="#b15928" stroke="#333" stroke-width="0.7"/>
</g>
<line x1="50.5" y1="110.7" x2="249.8" y2="75.9" stroke="#222" stroke-width="0.85"/>
<text transform="translate(180.3 109.5) rotate(-8)" font-size="8.3" fill="#111" textLength="70" lengthAdjust="spacingAndGlyphs">y = 0.024x + 0.071</text>
<g clip-path="url(#clb)">
<path d="M282.7 11.6L285.4 14.3M282.7 14.3L285.4 11.6" stroke="#a6cee3" stroke-width="0.6"/>
<path d="M284.8 6.2L287.5 8.9M284.8 8.9L287.5 6.2" stroke="#a6cee3" stroke-width="0.6"/>
<path d="M282.2 14.9L284.9 17.6M282.2 17.6L284.9 14.9" stroke="#a6cee3" stroke-width="0.6"/>
<path d="M282.6 14.9L285.3 17.6M282.6 17.6L285.3 14.9" stroke="#a6cee3" stroke-width="0.6"/>
<path d="M283.1 20.8L285.7 23.5M283.1 23.5L285.7 20.8" stroke="#a6cee3" stroke-width="0.6"/>
<path d="M284.5 11.0L287.2 13.7M284.5 13.7L287.2 11.0" stroke="#a6cee3" stroke-width="0.6"/>
<path d="M284.7 18.0L287.3 20.7M284.7 20.7L287.3 18.0" stroke="#a6cee3" stroke-width="0.6"/>
<path d="M282.7 30.0L285.4 32.7M282.7 32.7L285.4 30.0" stroke="#a6cee3" stroke-width="0.6"/>
<path d="M283.1 9.5L285.8 12.2M283.1 12.2L285.8 9.5" stroke="#a6cee3" stroke-width="0.6"/>
<path d="M282.5 22.2L285.2 24.9M282.5 24.9L285.2 22.2" stroke="#a6cee3" stroke-width="0.6"/>
<path d="M285.6 26.0L288.3 28.7M285.6 28.7L288.3 26.0" stroke="#a6cee3" stroke-width="0.6"/>
<path d="M283.8 12.5L286.5 15.2M283.8 15.2L286.5 12.5" stroke="#a6cee3" stroke-width="0.6"/>
<path d="M282.2 22.4L284.9 25.1M282.2 25.1L284.9 22.4" stroke="#a6cee3" stroke-width="0.6"/>
<path d="M284.4 14.8L287.1 17.5M284.4 17.5L287.1 14.8" stroke="#a6cee3" stroke-width="0.6"/>
<path d="M284.7 17.2L287.4 19.9M284.7 19.9L287.4 17.2" stroke="#a6cee3" stroke-width="0.6"/>
<path d="M285.9 24.7L288.6 27.4M285.9 27.4L288.6 24.7" stroke="#a6cee3" stroke-width="0.6"/>
<path d="M283.1 29.1L285.8 31.8M283.1 31.8L285.8 29.1" stroke="#a6cee3" stroke-width="0.6"/>
<path d="M282.3 19.5L285.0 22.2M282.3 22.2L285.0 19.5" stroke="#a6cee3" stroke-width="0.6"/>
<path d="M283.8 11.8L286.5 14.5M283.8 14.5L286.5 11.8" stroke="#a6cee3" stroke-width="0.6"/>
<path d="M282.4 25.9L285.1 28.6M282.4 28.6L285.1 25.9" stroke="#a6cee3" stroke-width="0.6"/>
<path d="M282.2 20.0L284.9 22.7M282.2 22.7L284.9 20.0" stroke="#a6cee3" stroke-width="0.6"/>
<path d="M285.9 9.4L288.6 12.0M285.9 12.0L288.6 9.4" stroke="#a6cee3" stroke-width="0.6"/>
<path d="M283.0 21.5L285.6 24.2M283.0 24.2L285.6 21.5" stroke="#a6cee3" stroke-width="0.6"/>
<path d="M284.2 22.3L286.9 25.0M284.2 25.0L286.9 22.3" stroke="#a6cee3" stroke-width="0.6"/>
<path d="M285.4 10.2L288.1 12.9M285.4 12.9L288.1 10.2" stroke="#a6cee3" stroke-width="0.6"/>
<path d="M283.4 13.5L286.1 16.2M283.4 16.2L286.1 13.5" stroke="#a6cee3" stroke-width="0.6"/>
<path d="M282.3 28.8L285.0 31.5M282.3 31.5L285.0 28.8" stroke="#a6cee3" stroke-width="0.6"/>
<path d="M285.3 24.3L288.0 26.9M285.3 26.9L288.0 24.3" stroke="#a6cee3" stroke-width="0.6"/>
<path d="M282.2 27.6L284.9 30.3M282.2 30.3L284.9 27.6" stroke="#a6cee3" stroke-width="0.6"/>
<path d="M285.1 17.8L287.8 20.4M285.1 20.4L287.8 17.8" stroke="#a6cee3" stroke-width="0.6"/>
<path d="M285.1 17.4L287.8 20.1M285.1 20.1L287.8 17.4" stroke="#a6cee3" stroke-width="0.6"/>
<path d="M283.1 8.4L285.7 11.1M283.1 11.1L285.7 8.4" stroke="#a6cee3" stroke-width="0.6"/>
<path d="M283.1 6.7L285.8 9.4M283.1 9.4L285.8 6.7" stroke="#a6cee3" stroke-width="0.6"/>
<path d="M283.5 25.1L286.2 27.8M283.5 27.8L286.2 25.1" stroke="#a6cee3" stroke-width="0.6"/>
<path d="M284.9 27.6L287.6 30.3M284.9 30.3L287.6 27.6" stroke="#a6cee3" stroke-width="0.6"/>
<path d="M285.0 12.6L287.7 15.3M285.0 15.3L287.7 12.6" stroke="#a6cee3" stroke-width="0.6"/>
<path d="M284.4 17.0L287.1 19.7M284.4 19.7L287.1 17.0" stroke="#a6cee3" stroke-width="0.6"/>
<path d="M285.3 19.3L288.0 21.9M285.3 21.9L288.0 19.3" stroke="#a6cee3" stroke-width="0.6"/>
<path d="M283.2 22.3L285.9 25.0M283.2 25.0L285.9 22.3" stroke="#a6cee3" stroke-width="0.6"/>
<path d="M286.0 11.3L288.7 14.0M286.0 14.0L288.7 11.3" stroke="#a6cee3" stroke-width="0.6"/>
<path d="M285.7 6.1L288.4 8.7M285.7 8.7L288.4 6.1" stroke="#a6cee3" stroke-width="0.6"/>
<path d="M283.2 11.8L285.9 14.5M283.2 14.5L285.9 11.8" stroke="#a6cee3" stroke-width="0.6"/>
<path d="M285.1 30.2L287.8 32.9M285.1 32.9L287.8 30.2" stroke="#a6cee3" stroke-width="0.6"/>
<path d="M285.1 14.2L287.8 16.8M285.1 16.8L287.8 14.2" stroke="#a6cee3" stroke-width="0.6"/>
<path d="M285.9 33.4L288.5 36.0M285.9 36.0L288.5 33.4" stroke="#a6cee3" stroke-width="0.6"/>
<path d="M283.9 36.7L286.5 39.3M283.9 39.3L286.5 36.7" stroke="#a6cee3" stroke-width="0.6"/>
<path d="M286.6 38.3L289.2 40.9M286.6 40.9L289.2 38.3" stroke="#a6cee3" stroke-width="0.6"/>
<path d="M283.9 39.3L286.5 41.9M283.9 41.9L286.5 39.3" stroke="#a6cee3" stroke-width="0.6"/>
<path d="M284.6 43.3L287.2 45.9M284.6 45.9L287.2 43.3" stroke="#a6cee3" stroke-width="0.6"/>
<path d="M292.5 26.8L295.1 29.4M292.5 29.4L295.1 26.8" stroke="#a6cee3" stroke-width="0.6"/>
<path d="M293.1 30.1L295.7 32.7M293.1 32.7L295.7 30.1" stroke="#a6cee3" stroke-width="0.6"/>
<path d="M292.5 18.2L295.1 20.8M292.5 20.8L295.1 18.2" stroke="#a6cee3" stroke-width="0.6"/>
<path d="M289.2 20.8L291.8 23.4M289.2 23.4L291.8 20.8" stroke="#a6cee3" stroke-width="0.6"/>
<path d="M288.5 15.6L291.1 18.2M288.5 18.2L291.1 15.6" stroke="#a6cee3" stroke-width="0.6"/>
<path d="M296.4 6.3L299.0 8.9M296.4 8.9L299.0 6.3" stroke="#a6cee3" stroke-width="0.6"/>
<path d="M295.8 12.9L298.4 15.5M295.8 15.5L298.4 12.9" stroke="#a6cee3" stroke-width="0.6"/>
<path d="M289.7 10.7L292.3 13.3M289.7 13.3L292.3 10.7" stroke="#a6cee3" stroke-width="0.6"/>
<path d="M287.7 7.7L290.3 10.3M287.7 10.3L290.3 7.7" stroke="#a6cee3" stroke-width="0.6"/>
<circle cx="289.8" cy="94.7" r="1.68" fill="#b2df8a"/>
<circle cx="289.1" cy="95.0" r="1.68" fill="#b2df8a"/>
<circle cx="290.6" cy="93.7" r="1.68" fill="#b2df8a"/>
<circle cx="291.3" cy="93.4" r="1.68" fill="#b2df8a"/>
<circle cx="291.6" cy="92.3" r="1.68" fill="#b2df8a"/>
<circle cx="292.7" cy="91.4" r="1.68" fill="#b2df8a"/>
<circle cx="292.9" cy="90.3" r="1.68" fill="#b2df8a"/>
<circle cx="293.8" cy="88.6" r="1.68" fill="#b2df8a"/>
<circle cx="293.7" cy="88.4" r="1.68" fill="#b2df8a"/>
<circle cx="294.1" cy="88.1" r="1.68" fill="#b2df8a"/>
<circle cx="294.9" cy="85.5" r="1.68" fill="#b2df8a"/>
<circle cx="295.5" cy="86.5" r="1.68" fill="#b2df8a"/>
<circle cx="296.8" cy="84.1" r="1.68" fill="#b2df8a"/>
<circle cx="296.9" cy="83.1" r="1.68" fill="#b2df8a"/>
<circle cx="298.9" cy="83.5" r="1.68" fill="#b2df8a"/>
<circle cx="299.7" cy="83.0" r="1.68" fill="#b2df8a"/>
<circle cx="299.2" cy="81.9" r="1.68" fill="#b2df8a"/>
<circle cx="300.5" cy="81.5" r="1.68" fill="#b2df8a"/>
<circle cx="302.1" cy="80.9" r="1.68" fill="#b2df8a"/>
<circle cx="301.4" cy="80.1" r="1.68" fill="#b2df8a"/>
<circle cx="303.8" cy="79.4" r="1.68" fill="#b2df8a"/>
<circle cx="302.9" cy="77.2" r="1.68" fill="#b2df8a"/>
<circle cx="303.7" cy="76.0" r="1.68" fill="#b2df8a"/>
<circle cx="305.9" cy="76.8" r="1.68" fill="#b2df8a"/>
<circle cx="306.2" cy="76.1" r="1.68" fill="#b2df8a"/>
<circle cx="307.0" cy="74.2" r="1.68" fill="#b2df8a"/>
<circle cx="306.7" cy="73.0" r="1.68" fill="#b2df8a"/>
<circle cx="308.7" cy="72.5" r="1.68" fill="#b2df8a"/>
<circle cx="308.6" cy="72.1" r="1.68" fill="#b2df8a"/>
<circle cx="308.7" cy="71.0" r="1.68" fill="#b2df8a"/>
<path d="M284.9 95.0L287.5 97.6M284.9 97.6L287.5 95.0" stroke="#33a02c" stroke-width="1.25"/>
<path d="M285.6 93.6L288.2 96.2M285.6 96.2L288.2 93.6" stroke="#33a02c" stroke-width="1.25"/>
<path d="M287.0 93.0L289.6 95.5M287.0 95.5L289.6 93.0" stroke="#33a02c" stroke-width="1.25"/>
<path d="M287.4 92.3L290.0 94.8M287.4 94.8L290.0 92.3" stroke="#33a02c" stroke-width="1.25"/>
<path d="M286.8 91.1L289.4 93.7M286.8 93.7L289.4 91.1" stroke="#33a02c" stroke-width="1.25"/>
<path d="M287.9 90.7L290.5 93.3M287.9 93.3L290.5 90.7" stroke="#33a02c" stroke-width="1.25"/>
<path d="M288.4 89.7L291.0 92.3M288.4 92.3L291.0 89.7" stroke="#33a02c" stroke-width="1.25"/>
<path d="M289.2 88.2L291.8 90.8M289.2 90.8L291.8 88.2" stroke="#33a02c" stroke-width="1.25"/>
<path d="M290.2 87.1L292.8 89.7M290.2 89.7L292.8 87.1" stroke="#33a02c" stroke-width="1.25"/>
<path d="M290.8 86.5L293.4 89.0M290.8 89.0L293.4 86.5" stroke="#33a02c" stroke-width="1.25"/>
<path d="M290.4 85.7L292.9 88.3M290.4 88.3L292.9 85.7" stroke="#33a02c" stroke-width="1.25"/>
<path d="M292.1 86.0L294.7 88.6M292.1 88.6L294.7 86.0" stroke="#33a02c" stroke-width="1.25"/>
<path d="M291.7 84.5L294.3 87.1M291.7 87.1L294.3 84.5" stroke="#33a02c" stroke-width="1.25"/>
<path d="M293.1 84.2L295.7 86.7M293.1 86.7L295.7 84.2" stroke="#33a02c" stroke-width="1.25"/>
<path d="M293.3 83.0L295.9 85.5M293.3 85.5L295.9 83.0" stroke="#33a02c" stroke-width="1.25"/>
<path d="M294.2 82.6L296.8 85.2M294.2 85.2L296.8 82.6" stroke="#33a02c" stroke-width="1.25"/>
<path d="M294.8 82.0L297.4 84.6M294.8 84.6L297.4 82.0" stroke="#33a02c" stroke-width="1.25"/>
<path d="M295.5 80.2L298.1 82.8M295.5 82.8L298.1 80.2" stroke="#33a02c" stroke-width="1.25"/>
<path d="M296.8 79.9L299.4 82.4M296.8 82.4L299.4 79.9" stroke="#33a02c" stroke-width="1.25"/>
<path d="M296.7 79.3L299.3 81.9M296.7 81.9L299.3 79.3" stroke="#33a02c" stroke-width="1.25"/>
<path d="M297.4 78.8L300.0 81.4M297.4 81.4L300.0 78.8" stroke="#33a02c" stroke-width="1.25"/>
<path d="M299.0 78.1L301.6 80.6M299.0 80.6L301.6 78.1" stroke="#33a02c" stroke-width="1.25"/>
<path d="M299.7 76.7L302.3 79.3M299.7 79.3L302.3 76.7" stroke="#33a02c" stroke-width="1.25"/>
<path d="M300.1 76.0L302.7 78.6M300.1 78.6L302.7 76.0" stroke="#33a02c" stroke-width="1.25"/>
<path d="M301.5 74.9L304.1 77.4M301.5 77.4L304.1 74.9" stroke="#33a02c" stroke-width="1.25"/>
<path d="M302.3 74.0L304.8 76.6M302.3 76.6L304.8 74.0" stroke="#33a02c" stroke-width="1.25"/>
<circle cx="333.7" cy="55.9" r="1.23" fill="#b2df8a"/>
<circle cx="338.1" cy="56.4" r="1.23" fill="#b2df8a"/>
<circle cx="338.4" cy="52.3" r="1.23" fill="#b2df8a"/>
<circle cx="344.7" cy="47.1" r="1.23" fill="#b2df8a"/>
<circle cx="353.0" cy="43.8" r="1.23" fill="#b2df8a"/>
<circle cx="366.7" cy="34.2" r="1.23" fill="#b2df8a"/>
<circle cx="387.8" cy="31.8" r="1.23" fill="#b2df8a"/>
<circle cx="411.0" cy="31.4" r="1.23" fill="#b2df8a"/>
<circle cx="444.0" cy="28.1" r="1.23" fill="#b2df8a"/>
<circle cx="466.7" cy="20.4" r="1.23" fill="#b2df8a"/>
<circle cx="474.0" cy="21.5" r="1.23" fill="#b2df8a"/>
<circle cx="482.5" cy="57.1" r="1.23" fill="#b2df8a"/>
<path d="M309.9 100.2L312.5 102.8M309.9 102.8L312.5 100.2" stroke="#33a02c" stroke-width="0.8"/>
<circle cx="291.4" cy="90.5" r="1.34" fill="#1f78b4"/>
<circle cx="298.0" cy="72.9" r="1.34" fill="#1f78b4"/>
<circle cx="313.0" cy="65.7" r="1.34" fill="#1f78b4"/>
<circle cx="318.7" cy="68.6" r="1.34" fill="#1f78b4"/>
<circle cx="356.0" cy="81.1" r="1.34" fill="#1f78b4"/>
<circle cx="407.3" cy="80.2" r="1.34" fill="#1f78b4"/>
<circle cx="431.1" cy="80.2" r="1.34" fill="#1f78b4"/>
<circle cx="452.1" cy="70.3" r="1.34" fill="#1f78b4"/>
<circle cx="453.9" cy="69.2" r="1.34" fill="#1f78b4"/>
<circle cx="456.5" cy="80.2" r="1.34" fill="#1f78b4"/>
<circle cx="461.2" cy="81.3" r="1.34" fill="#1f78b4"/>
<circle cx="480.7" cy="80.2" r="1.34" fill="#1f78b4"/>
<path d="M292.6 91.4L300.0 86.0L308.0 81.0L316.6 76.9L318.5 80.5" fill="none" stroke="#fb9a99" stroke-width="2.0" stroke-linecap="round" stroke-linejoin="round"/>
<path d="M291.4 109.5L294.8 107.8L294.8 111.1Z" fill="#e31a1c"/>
<path d="M294.9 104.9L298.3 103.3L298.3 106.6Z" fill="#e31a1c"/>
<path d="M284.9 110.2L288.2 108.6L288.2 111.9Z" fill="#e31a1c"/>
<path d="M290.9 110.4L294.2 108.7L294.2 112.1Z" fill="#e31a1c"/>
<path d="M283.5 106.1L286.9 104.5L286.9 107.8Z" fill="#e31a1c"/>
<path d="M290.4 103.0L293.8 101.3L293.8 104.7Z" fill="#e31a1c"/>
<path d="M287.7 109.3L291.0 107.6L291.0 111.0Z" fill="#e31a1c"/>
<path d="M294.4 110.8L297.8 109.1L297.8 112.5Z" fill="#e31a1c"/>
<path d="M286.7 103.3L290.1 101.7L290.1 105.0Z" fill="#e31a1c"/>
<path d="M292.9 109.9L296.2 108.2L296.2 111.6Z" fill="#e31a1c"/>
<path d="M291.2 103.2L294.6 101.6L294.6 104.9Z" fill="#e31a1c"/>
<path d="M294.1 109.4L297.5 107.7L297.5 111.1Z" fill="#e31a1c"/>
<path d="M293.2 105.4L296.6 103.7L296.6 107.1Z" fill="#e31a1c"/>
<path d="M291.9 109.6L295.3 107.9L295.3 111.2Z" fill="#e31a1c"/>
<path d="M288.2 102.6L291.5 100.9L291.5 104.3Z" fill="#e31a1c"/>
<path d="M292.1 108.6L295.5 107.0L295.5 110.3Z" fill="#e31a1c"/>
<path d="M290.4 109.9L293.7 108.2L293.7 111.5Z" fill="#e31a1c"/>
<path d="M287.1 106.7L290.5 105.0L290.5 108.4Z" fill="#e31a1c"/>
<path d="M288.7 108.9L292.0 107.2L292.0 110.6Z" fill="#e31a1c"/>
<path d="M297.1 106.3L300.4 104.7L300.4 108.0Z" fill="#e31a1c"/>
<path d="M296.6 109.9L300.0 108.2L300.0 111.6Z" fill="#e31a1c"/>
<path d="M294.3 108.8L297.7 107.2L297.7 110.5Z" fill="#e31a1c"/>
<path d="M297.4 106.5L300.8 104.9L300.8 108.2Z" fill="#e31a1c"/>
<path d="M289.8 103.7L293.1 102.0L293.1 105.4Z" fill="#e31a1c"/>
<path d="M292.4 110.8L295.8 109.1L295.8 112.4Z" fill="#e31a1c"/>
<path d="M293.2 108.4L296.5 106.7L296.5 110.1Z" fill="#e31a1c"/>
<path d="M289.2 107.6L292.6 105.9L292.6 109.3Z" fill="#e31a1c"/>
<path d="M284.6 109.6L287.9 108.0L287.9 111.3Z" fill="#e31a1c"/>
<path d="M288.4 103.7L291.7 102.0L291.7 105.4Z" fill="#e31a1c"/>
<path d="M286.7 104.5L290.0 102.8L290.0 106.2Z" fill="#e31a1c"/>
<path d="M294.2 110.0L297.6 108.3L297.6 111.7Z" fill="#e31a1c"/>
<path d="M284.6 109.4L288.0 107.7L288.0 111.1Z" fill="#e31a1c"/>
<path d="M294.7 105.2L298.1 103.5L298.1 106.9Z" fill="#e31a1c"/>
<path d="M284.1 105.1L287.5 103.4L287.5 106.7Z" fill="#e31a1c"/>
<path d="M287.0 108.1L290.3 106.5L290.3 109.8Z" fill="#e31a1c"/>
<path d="M289.0 102.4L292.4 100.7L292.4 104.1Z" fill="#e31a1c"/>
<path d="M291.3 102.9L294.7 101.2L294.7 104.5Z" fill="#e31a1c"/>
<path d="M294.3 103.7L297.6 102.0L297.6 105.4Z" fill="#e31a1c"/>
<path d="M286.9 104.4L290.3 102.7L290.3 106.1Z" fill="#e31a1c"/>
<path d="M287.9 110.7L291.2 109.0L291.2 112.3Z" fill="#e31a1c"/>
<path d="M294.6 108.9L297.9 107.2L297.9 110.5Z" fill="#e31a1c"/>
<path d="M291.7 102.9L295.0 101.2L295.0 104.5Z" fill="#e31a1c"/>
<path d="M287.6 105.2L290.9 103.5L290.9 106.9Z" fill="#e31a1c"/>
<path d="M285.5 108.6L288.9 106.9L288.9 110.2Z" fill="#e31a1c"/>
<path d="M286.6 104.8L290.0 103.1L290.0 106.5Z" fill="#e31a1c"/>
<path d="M283.8 114.1L287.2 112.4L287.2 115.8Z" fill="#e31a1c"/>
<path d="M283.7 112.0L287.1 110.3L287.1 113.6Z" fill="#e31a1c"/>
<path d="M286.9 109.8L290.2 108.2L290.2 111.5Z" fill="#e31a1c"/>
<path d="M287.3 110.3L290.7 108.6L290.7 112.0Z" fill="#e31a1c"/>
<path d="M287.3 107.7L290.7 106.0L290.7 109.4Z" fill="#e31a1c"/>
<path d="M289.0 107.1L292.4 105.4L292.4 108.8Z" fill="#e31a1c"/>
<path d="M292.8 105.1L296.2 103.4L296.2 106.8Z" fill="#e31a1c"/>
<path d="M291.7 104.0L295.1 102.4L295.1 105.7Z" fill="#e31a1c"/>
<path d="M294.5 103.3L297.9 101.6L297.9 105.0Z" fill="#e31a1c"/>
<path d="M295.9 101.8L299.2 100.2L299.2 103.5Z" fill="#e31a1c"/>
<path d="M298.1 100.2L301.5 98.5L301.5 101.9Z" fill="#e31a1c"/>
<path d="M298.2 100.1L301.5 98.4L301.5 101.8Z" fill="#e31a1c"/>
<path d="M298.9 97.9L302.2 96.2L302.2 99.6Z" fill="#e31a1c"/>
<path d="M300.7 96.8L304.1 95.1L304.1 98.5Z" fill="#e31a1c"/>
<path d="M283.6 114.0L286.9 112.3L286.9 115.6Z" fill="#e31a1c"/>
<path d="M285.9 111.6L289.3 109.9L289.3 113.3Z" fill="#e31a1c"/>
<path d="M287.6 111.7L291.0 110.1L291.0 113.4Z" fill="#e31a1c"/>
<path d="M289.0 111.2L292.3 109.6L292.3 112.9Z" fill="#e31a1c"/>
<path d="M291.6 111.2L295.0 109.6L295.0 112.9Z" fill="#e31a1c"/>
<path d="M293.3 109.8L296.7 108.1L296.7 111.4Z" fill="#e31a1c"/>
<path d="M294.9 110.1L298.3 108.4L298.3 111.8Z" fill="#e31a1c"/>
<path d="M298.2 109.1L301.6 107.4L301.6 110.7Z" fill="#e31a1c"/>
<path d="M283.0 111.6L285.9 110.1L285.9 113.1Z" fill="#e31a1c"/>
<path d="M285.2 109.5L288.1 108.0L288.1 111.0Z" fill="#e31a1c"/>
<path d="M286.5 109.7L289.4 108.2L289.4 111.2Z" fill="#e31a1c"/>
<path d="M289.7 108.5L292.6 107.0L292.6 109.9Z" fill="#e31a1c"/>
<path d="M290.9 107.4L293.8 106.0L293.8 108.9Z" fill="#e31a1c"/>
<path d="M292.3 107.3L295.2 105.8L295.2 108.8Z" fill="#e31a1c"/>
<path d="M294.5 106.1L297.4 104.7L297.4 107.6Z" fill="#e31a1c"/>
<path d="M297.5 106.2L300.4 104.7L300.4 107.6Z" fill="#e31a1c"/>
<path d="M298.8 104.9L301.7 103.4L301.7 106.3Z" fill="#e31a1c"/>
<path d="M301.0 104.3L304.0 102.8L304.0 105.7Z" fill="#e31a1c"/>
<path d="M343.1 94.3L346.1 92.8L346.1 95.8Z" fill="#e31a1c"/>
<path d="M357.2 96.0L360.2 94.5L360.2 97.5Z" fill="#e31a1c"/>
<path d="M365.1 96.0L368.1 94.5L368.1 97.5Z" fill="#e31a1c"/>
<path d="M369.5 96.0L372.5 94.5L372.5 97.5Z" fill="#e31a1c"/>
<path d="M371.3 97.8L374.3 96.3L374.3 99.3Z" fill="#e31a1c"/>
<path d="M372.5 98.5L375.5 97.0L375.5 100.0Z" fill="#e31a1c"/>
<path d="M375.7 99.6L378.7 98.1L378.7 101.1Z" fill="#e31a1c"/>
<path d="M376.4 99.7L379.4 98.2L379.4 101.2Z" fill="#e31a1c"/>
<path d="M338.2 67.5L340.8 70.1M338.2 70.1L340.8 67.5" stroke="#fdbf6f" stroke-width="0.7"/>
<path d="M348.5 61.5L351.1 64.1M348.5 64.1L351.1 61.5" stroke="#fdbf6f" stroke-width="0.7"/>
<path d="M348.7 61.3L351.3 63.9M348.7 63.9L351.3 61.3" stroke="#fdbf6f" stroke-width="0.7"/>
<path d="M380.3 47.7L382.9 50.3M380.3 50.3L382.9 47.7" stroke="#fdbf6f" stroke-width="0.7"/>
<path d="M428.7 39.7L431.3 42.3M428.7 42.3L431.3 39.7" stroke="#fdbf6f" stroke-width="0.7"/>
<path d="M434.3 42.2L436.9 44.8M434.3 44.8L436.9 42.2" stroke="#fdbf6f" stroke-width="0.7"/>
<path d="M445.3 41.5L447.9 44.1M445.3 44.1L447.9 41.5" stroke="#fdbf6f" stroke-width="0.7"/>
<path d="M303.7 90.7L306.3 93.3M303.7 93.3L306.3 90.7" stroke="#fdbf6f" stroke-width="0.7"/>
<path d="M308.7 93.7L311.3 96.3M308.7 96.3L311.3 93.7" stroke="#fdbf6f" stroke-width="0.7"/>
<circle cx="287.0" cy="109.0" r="1.34" fill="#ff7f00"/>
<circle cx="290.0" cy="108.0" r="1.34" fill="#ff7f00"/>
<circle cx="308.0" cy="93.0" r="1.34" fill="#ff7f00"/>
<circle cx="311.0" cy="96.0" r="1.34" fill="#ff7f00"/>
<circle cx="313.0" cy="90.0" r="1.34" fill="#ff7f00"/>
<circle cx="327.0" cy="82.5" r="1.34" fill="#ff7f00"/>
<circle cx="335.0" cy="81.1" r="1.34" fill="#ff7f00"/>
<circle cx="336.7" cy="87.8" r="1.34" fill="#ff7f00"/>
<circle cx="339.4" cy="82.9" r="1.34" fill="#ff7f00"/>
<circle cx="342.0" cy="84.6" r="1.34" fill="#ff7f00"/>
<circle cx="345.5" cy="81.1" r="1.34" fill="#ff7f00"/>
<circle cx="346.4" cy="72.3" r="1.34" fill="#ff7f00"/>
<circle cx="347.3" cy="76.7" r="1.34" fill="#ff7f00"/>
<circle cx="349.9" cy="94.3" r="1.34" fill="#ff7f00"/>
<circle cx="351.7" cy="100.8" r="1.34" fill="#ff7f00"/>
<circle cx="340.2" cy="68.4" r="1.34" fill="#ff7f00"/>
<circle cx="290.7" cy="109.6" r="1.34" fill="#ff7f00"/>
<circle cx="306.0" cy="90.0" r="1.34" fill="#ff7f00"/>
<circle cx="309.0" cy="94.0" r="1.34" fill="#ff7f00"/>
<circle cx="311.0" cy="88.0" r="1.34" fill="#ff7f00"/>
<circle cx="331.0" cy="84.0" r="1.34" fill="#ff7f00"/>
<circle cx="338.0" cy="83.0" r="1.34" fill="#ff7f00"/>
<circle cx="313.7" cy="89.2" r="1.68" fill="#cab2d6"/>
<circle cx="313.8" cy="89.5" r="1.68" fill="#cab2d6"/>
<circle cx="307.8" cy="91.9" r="1.68" fill="#cab2d6"/>
<circle cx="307.5" cy="91.4" r="1.68" fill="#cab2d6"/>
<circle cx="318.6" cy="90.8" r="1.68" fill="#cab2d6"/>
<circle cx="310.1" cy="92.4" r="1.68" fill="#cab2d6"/>
<circle cx="309.0" cy="92.9" r="1.68" fill="#cab2d6"/>
<circle cx="304.5" cy="91.9" r="1.68" fill="#cab2d6"/>
<circle cx="308.1" cy="89.2" r="1.68" fill="#cab2d6"/>
<circle cx="318.5" cy="89.5" r="1.68" fill="#cab2d6"/>
<circle cx="318.7" cy="91.8" r="1.68" fill="#cab2d6"/>
<circle cx="317.6" cy="89.2" r="1.68" fill="#cab2d6"/>
<circle cx="316.2" cy="93.1" r="1.68" fill="#cab2d6"/>
<circle cx="310.3" cy="90.5" r="1.68" fill="#cab2d6"/>
<circle cx="319.8" cy="91.0" r="1.68" fill="#cab2d6"/>
<circle cx="308.5" cy="89.5" r="1.68" fill="#cab2d6"/>
<circle cx="313.7" cy="91.5" r="1.68" fill="#cab2d6"/>
<circle cx="311.8" cy="93.6" r="1.68" fill="#cab2d6"/>
<circle cx="309.0" cy="91.8" r="1.68" fill="#cab2d6"/>
<circle cx="317.6" cy="89.2" r="1.68" fill="#cab2d6"/>
<circle cx="315.2" cy="93.4" r="1.68" fill="#cab2d6"/>
<circle cx="304.8" cy="89.0" r="1.68" fill="#cab2d6"/>
<circle cx="306.8" cy="88.2" r="1.68" fill="#cab2d6"/>
<circle cx="313.0" cy="88.0" r="1.68" fill="#cab2d6"/>
<circle cx="313.4" cy="93.3" r="1.68" fill="#cab2d6"/>
<circle cx="303.4" cy="90.3" r="1.68" fill="#cab2d6"/>
<circle cx="303.2" cy="91.9" r="1.68" fill="#cab2d6"/>
<circle cx="306.6" cy="90.2" r="1.68" fill="#cab2d6"/>
<circle cx="311.3" cy="92.0" r="1.68" fill="#cab2d6"/>
<circle cx="308.8" cy="90.8" r="1.68" fill="#cab2d6"/>
<circle cx="307.7" cy="91.0" r="1.68" fill="#cab2d6"/>
<circle cx="304.7" cy="90.9" r="1.68" fill="#cab2d6"/>
<circle cx="302.9" cy="90.1" r="1.68" fill="#cab2d6"/>
<circle cx="319.2" cy="90.9" r="1.68" fill="#cab2d6"/>
<circle cx="304.4" cy="91.3" r="1.68" fill="#cab2d6"/>
<circle cx="306.8" cy="88.3" r="1.68" fill="#cab2d6"/>
<circle cx="306.9" cy="92.3" r="1.68" fill="#cab2d6"/>
<circle cx="313.4" cy="90.6" r="1.68" fill="#cab2d6"/>
<circle cx="306.3" cy="88.9" r="1.68" fill="#cab2d6"/>
<circle cx="317.9" cy="91.2" r="1.68" fill="#cab2d6"/>
<circle cx="324.9" cy="103.1" r="1.34" fill="#cab2d6"/>
<circle cx="321.8" cy="94.3" r="1.34" fill="#cab2d6"/>
<path d="M308.4 80.4L311.0 83.0M308.4 83.0L311.0 80.4" stroke="#6a3d9a" stroke-width="0.8"/>
<path d="M320.2 72.0L322.8 74.6M320.2 74.6L322.8 72.0" stroke="#6a3d9a" stroke-width="0.8"/>
<path d="M327.8 75.8L330.4 78.4M327.8 78.4L330.4 75.8" stroke="#6a3d9a" stroke-width="0.8"/>
<path d="M320.5 71.9L323.1 74.5M320.5 74.5L323.1 71.9" stroke="#6a3d9a" stroke-width="0.8"/>
<path d="M321.9 74.9L324.5 77.5M321.9 77.5L324.5 74.9" stroke="#6a3d9a" stroke-width="0.8"/>
<path d="M327.5 75.8L330.1 78.4M327.5 78.4L330.1 75.8" stroke="#6a3d9a" stroke-width="0.8"/>
<path d="M332.8 73.7L335.4 76.3M332.8 76.3L335.4 73.7" stroke="#6a3d9a" stroke-width="0.8"/>
<path d="M335.4 72.8L338.0 75.4M335.4 75.4L338.0 72.8" stroke="#6a3d9a" stroke-width="0.8"/>
<path d="M340.7 71.4L343.3 74.0M340.7 74.0L343.3 71.4" stroke="#6a3d9a" stroke-width="0.8"/>
<path d="M350.0 68.4L352.6 71.0M350.0 71.0L352.6 68.4" stroke="#6a3d9a" stroke-width="0.8"/>
<path d="M350.4 73.7L353.0 76.3M350.4 76.3L353.0 73.7" stroke="#6a3d9a" stroke-width="0.8"/>
<path d="M347.7 75.4L350.3 78.0M347.7 78.0L350.3 75.4" stroke="#6a3d9a" stroke-width="0.8"/>
<path d="M352.1 82.5L354.7 85.1M352.1 85.1L354.7 82.5" stroke="#6a3d9a" stroke-width="0.8"/>
<path d="M362.7 93.0L365.3 95.6M362.7 95.6L365.3 93.0" stroke="#6a3d9a" stroke-width="0.8"/>
<path d="M320.5 78.9L323.1 81.5M320.5 81.5L323.1 78.9" stroke="#6a3d9a" stroke-width="0.8"/>
<path d="M350.7 55.7L353.3 58.3M350.7 58.3L353.3 55.7" stroke="#6a3d9a" stroke-width="0.8"/>
<path d="M350.4 67.5L353.0 70.1M350.4 70.1L353.0 67.5" stroke="#6a3d9a" stroke-width="0.8"/>
<circle cx="309.0" cy="75.9" r="1.46" fill="#ffff99"/>
<circle cx="302.4" cy="92.0" r="1.46" fill="#ffff99"/>
<circle cx="312.0" cy="72.0" r="1.46" fill="#ffff99"/>
<circle cx="322.6" cy="62.6" r="1.46" fill="#ffff99"/>
<circle cx="331.5" cy="58.1" r="1.46" fill="#ffff99"/>
<circle cx="353.0" cy="50.8" r="1.46" fill="#ffff99"/>
<circle cx="386.0" cy="42.8" r="1.46" fill="#ffff99"/>
<circle cx="396.3" cy="29.6" r="1.46" fill="#ffff99"/>
<circle cx="403.6" cy="28.9" r="1.46" fill="#ffff99"/>
<circle cx="417.2" cy="43.5" r="1.46" fill="#ffff99"/>
<circle cx="422.7" cy="57.5" r="1.46" fill="#ffff99"/>
<circle cx="428.2" cy="48.3" r="1.46" fill="#ffff99"/>
<circle cx="446.6" cy="68.1" r="1.46" fill="#ffff99"/>
<circle cx="323.4" cy="62.9" r="1.46" fill="#ffff99"/>
<circle cx="284.4" cy="107.0" r="1.68" fill="#ffff99"/>
<circle cx="284.6" cy="106.4" r="1.68" fill="#ffff99"/>
<circle cx="286.0" cy="104.5" r="1.68" fill="#ffff99"/>
<circle cx="287.9" cy="102.7" r="1.68" fill="#ffff99"/>
<circle cx="288.4" cy="103.4" r="1.68" fill="#ffff99"/>
<circle cx="288.5" cy="103.2" r="1.68" fill="#ffff99"/>
<circle cx="289.5" cy="101.6" r="1.68" fill="#ffff99"/>
<circle cx="290.9" cy="101.6" r="1.68" fill="#ffff99"/>
<circle cx="291.2" cy="100.1" r="1.68" fill="#ffff99"/>
<circle cx="292.7" cy="99.8" r="1.68" fill="#ffff99"/>
<circle cx="294.7" cy="98.5" r="1.68" fill="#ffff99"/>
<circle cx="295.7" cy="98.1" r="1.68" fill="#ffff99"/>
<circle cx="296.0" cy="97.1" r="1.68" fill="#ffff99"/>
<circle cx="297.0" cy="98.1" r="1.68" fill="#ffff99"/>
<path d="M283.8 102.1L290.1 96.4L296.4 91.4L302.7 87.6L309.0 85.7L315.3 85.7L320.4 87.6L324.1 90.1L324.8 92.7L326.0 97.7" fill="none" stroke="#b15928" stroke-width="2.3" stroke-linecap="round" stroke-linejoin="round"/>
<circle cx="290.3" cy="96.9" r="1.46" fill="#b15928"/>
<circle cx="291.3" cy="95.1" r="1.46" fill="#b15928"/>
<circle cx="292.8" cy="94.4" r="1.46" fill="#b15928"/>
<circle cx="294.8" cy="93.7" r="1.46" fill="#b15928"/>
<circle cx="295.4" cy="92.6" r="1.46" fill="#b15928"/>
<circle cx="298.2" cy="91.2" r="1.46" fill="#b15928"/>
<circle cx="298.4" cy="89.8" r="1.46" fill="#b15928"/>
<circle cx="299.8" cy="88.6" r="1.46" fill="#b15928"/>
<circle cx="302.8" cy="88.2" r="1.46" fill="#b15928"/>
<circle cx="304.1" cy="87.9" r="1.46" fill="#b15928"/>
<circle cx="306.3" cy="87.3" r="1.46" fill="#b15928"/>
<circle cx="307.6" cy="87.1" r="1.46" fill="#b15928"/>
<circle cx="309.5" cy="86.8" r="1.46" fill="#b15928"/>
<circle cx="311.3" cy="85.9" r="1.46" fill="#b15928"/>
<circle cx="313.1" cy="86.0" r="1.46" fill="#b15928"/>
<circle cx="315.1" cy="85.2" r="1.46" fill="#b15928"/>
<circle cx="315.9" cy="85.5" r="1.46" fill="#b15928"/>
<circle cx="318.4" cy="87.7" r="1.46" fill="#b15928"/>
<circle cx="319.9" cy="87.7" r="1.46" fill="#b15928"/>
<circle cx="321.8" cy="89.1" r="1.46" fill="#b15928"/>
<circle cx="323.0" cy="89.1" r="1.46" fill="#b15928"/>
<circle cx="323.9" cy="90.5" r="1.46" fill="#b15928"/>
<circle cx="324.4" cy="92.3" r="1.46" fill="#b15928"/>
<circle cx="325.3" cy="94.8" r="1.46" fill="#b15928"/>
<circle cx="324.8" cy="96.0" r="1.46" fill="#b15928"/>
<circle cx="325.3" cy="97.1" r="1.46" fill="#b15928"/>
<circle cx="399.6" cy="119.5" r="1.34" fill="#b15928"/>
<circle cx="283.6" cy="111.6" r="2.3" fill="#cab2d6" stroke="#333" stroke-width="0.7"/>
<circle cx="283.6" cy="107.3" r="2.3" fill="#ffff99" stroke="#333" stroke-width="0.7"/>
<circle cx="284.0" cy="103.0" r="2.3" fill="#b15928" stroke="#333" stroke-width="0.7"/>
<circle cx="284.0" cy="98.3" r="2.3" fill="#1f78b4" stroke="#333" stroke-width="0.7"/>
<circle cx="285.9" cy="9.6" r="2.0" fill="none" stroke="#333" stroke-width="0.7"/>
</g>
<line x1="282.5" y1="106.4" x2="485.5" y2="19.4" stroke="#222" stroke-width="0.85"/>
<text transform="translate(412.5 80.5) rotate(-29)" font-size="8.3" fill="#111" textLength="70" lengthAdjust="spacingAndGlyphs">y = 0.061x + 0.107</text>
<g clip-path="url(#clc)">
<path d="M73.2 219.0L75.8 221.6M73.2 221.6L75.8 219.0" stroke="#a6cee3" stroke-width="0.65"/>
<path d="M74.6 219.7L77.2 222.3M74.6 222.3L77.2 219.7" stroke="#a6cee3" stroke-width="0.65"/>
<path d="M87.7 219.7L90.3 222.3M87.7 222.3L90.3 219.7" stroke="#a6cee3" stroke-width="0.65"/>
<path d="M72.6 224.9L75.2 227.5M72.6 227.5L75.2 224.9" stroke="#a6cee3" stroke-width="0.65"/>
<path d="M72.3 228.2L74.9 230.8M72.3 230.8L74.9 228.2" stroke="#a6cee3" stroke-width="0.65"/>
<path d="M83.8 224.9L86.4 227.5M83.8 227.5L86.4 224.9" stroke="#a6cee3" stroke-width="0.65"/>
<path d="M84.4 226.9L87.0 229.5M84.4 229.5L87.0 226.9" stroke="#a6cee3" stroke-width="0.65"/>
<path d="M77.9 228.2L80.5 230.8M77.9 230.8L80.5 228.2" stroke="#a6cee3" stroke-width="0.65"/>
<path d="M76.5 230.9L79.1 233.5M76.5 233.5L79.1 230.9" stroke="#a6cee3" stroke-width="0.65"/>
<path d="M75.2 232.2L77.8 234.8M75.2 234.8L77.8 232.2" stroke="#a6cee3" stroke-width="0.65"/>
<path d="M71.3 236.8L73.9 239.4M71.3 239.4L73.9 236.8" stroke="#a6cee3" stroke-width="0.65"/>
<path d="M80.5 230.2L83.1 232.8M80.5 232.8L83.1 230.2" stroke="#a6cee3" stroke-width="0.65"/>
<path d="M89.1 228.2L91.7 230.8M89.1 230.8L91.7 228.2" stroke="#a6cee3" stroke-width="0.65"/>
<path d="M93.0 223.6L95.6 226.2M93.0 226.2L95.6 223.6" stroke="#a6cee3" stroke-width="0.65"/>
<path d="M91.0 228.2L93.6 230.8M91.0 230.8L93.6 228.2" stroke="#a6cee3" stroke-width="0.65"/>
<path d="M79.2 231.5L81.8 234.1M79.2 234.1L81.8 231.5" stroke="#a6cee3" stroke-width="0.65"/>
<path d="M81.7 228.7L84.3 231.3M81.7 231.3L84.3 228.7" stroke="#a6cee3" stroke-width="0.65"/>
<path d="M85.7 229.7L88.3 232.3M85.7 232.3L88.3 229.7" stroke="#a6cee3" stroke-width="0.65"/>
<path d="M129.8 210.1L132.4 212.7M129.8 212.7L132.4 210.1" stroke="#a6cee3" stroke-width="0.65"/>
<path d="M143.0 207.4L145.6 210.0M143.0 210.0L145.6 207.4" stroke="#a6cee3" stroke-width="0.65"/>
<path d="M149.2 203.0L151.8 205.6M149.2 205.6L151.8 203.0" stroke="#a6cee3" stroke-width="0.65"/>
<path d="M159.7 201.3L162.3 203.9M159.7 203.9L162.3 201.3" stroke="#a6cee3" stroke-width="0.65"/>
<path d="M165.9 197.7L168.5 200.3M165.9 200.3L168.5 197.7" stroke="#a6cee3" stroke-width="0.65"/>
<path d="M166.3 198.0L168.9 200.6M166.3 200.6L168.9 198.0" stroke="#a6cee3" stroke-width="0.65"/>
<path d="M221.7 182.1L224.3 184.7M221.7 184.7L224.3 182.1" stroke="#a6cee3" stroke-width="0.65"/>
<path d="M243.7 149.5L246.3 152.1M243.7 152.1L246.3 149.5" stroke="#a6cee3" stroke-width="0.65"/>
<path d="M238.0 154.6L240.6 157.2M238.0 157.2L240.6 154.6" stroke="#a6cee3" stroke-width="0.65"/>
<path d="M239.7 161.2L242.3 163.8M239.7 163.8L242.3 161.2" stroke="#a6cee3" stroke-width="0.65"/>
<path d="M248.7 158.7L251.3 161.3M248.7 161.3L251.3 158.7" stroke="#a6cee3" stroke-width="0.65"/>
<path d="M230.5 175.5L233.1 178.1M230.5 178.1L233.1 175.5" stroke="#a6cee3" stroke-width="0.65"/>
<path d="M233.7 178.7L236.3 181.3M233.7 181.3L236.3 178.7" stroke="#a6cee3" stroke-width="0.65"/>
<path d="M221.3 182.1L223.9 184.7M221.3 184.7L223.9 182.1" stroke="#a6cee3" stroke-width="0.65"/>
<path d="M230.7 184.7L233.3 187.3M230.7 187.3L233.3 184.7" stroke="#a6cee3" stroke-width="0.65"/>
<path d="M245.9 171.3L248.6 173.9M245.9 173.9L248.6 171.3" stroke="#a6cee3" stroke-width="0.65"/>
<path d="M247.8 175.2L250.5 177.9M247.8 177.9L250.5 175.2" stroke="#a6cee3" stroke-width="0.65"/>
<path d="M248.0 179.2L250.7 181.9M248.0 181.9L250.7 179.2" stroke="#a6cee3" stroke-width="0.65"/>
<path d="M239.1 173.1L241.8 175.8M239.1 175.8L241.8 173.1" stroke="#a6cee3" stroke-width="0.65"/>
<path d="M248.4 177.8L251.1 180.5M248.4 180.5L251.1 177.8" stroke="#a6cee3" stroke-width="0.65"/>
<path d="M242.5 180.4L245.2 183.1M242.5 183.1L245.2 180.4" stroke="#a6cee3" stroke-width="0.65"/>
<path d="M242.4 174.8L245.1 177.5M242.4 177.5L245.1 174.8" stroke="#a6cee3" stroke-width="0.65"/>
<path d="M244.6 179.7L247.3 182.4M244.6 182.4L247.3 179.7" stroke="#a6cee3" stroke-width="0.65"/>
<path d="M249.3 178.9L252.0 181.6M249.3 181.6L252.0 178.9" stroke="#a6cee3" stroke-width="0.65"/>
<path d="M248.6 185.8L251.2 188.5M248.6 188.5L251.2 185.8" stroke="#a6cee3" stroke-width="0.65"/>
<path d="M249.1 183.8L251.8 186.5M249.1 186.5L251.8 183.8" stroke="#a6cee3" stroke-width="0.65"/>
<path d="M244.7 179.7L247.4 182.4M244.7 182.4L247.4 179.7" stroke="#a6cee3" stroke-width="0.65"/>
<path d="M243.6 173.6L246.3 176.3M243.6 176.3L246.3 173.6" stroke="#a6cee3" stroke-width="0.65"/>
<path d="M243.9 174.1L246.6 176.8M243.9 176.8L246.6 174.1" stroke="#a6cee3" stroke-width="0.65"/>
<path d="M249.3 181.5L252.0 184.2M249.3 184.2L252.0 181.5" stroke="#a6cee3" stroke-width="0.65"/>
<path d="M242.9 169.2L245.5 171.9M242.9 171.9L245.5 169.2" stroke="#a6cee3" stroke-width="0.65"/>
<path d="M243.9 175.6L246.6 178.3M243.9 178.3L246.6 175.6" stroke="#a6cee3" stroke-width="0.65"/>
<path d="M240.5 172.3L243.2 175.0M240.5 175.0L243.2 172.3" stroke="#a6cee3" stroke-width="0.65"/>
<path d="M238.4 181.1L241.0 183.8M238.4 183.8L241.0 181.1" stroke="#a6cee3" stroke-width="0.65"/>
<path d="M244.0 189.0L246.7 191.7M244.0 191.7L246.7 189.0" stroke="#a6cee3" stroke-width="0.65"/>
<path d="M244.0 177.6L246.7 180.2M244.0 180.2L246.7 177.6" stroke="#a6cee3" stroke-width="0.65"/>
<path d="M249.1 179.4L251.8 182.1M249.1 182.1L251.8 179.4" stroke="#a6cee3" stroke-width="0.65"/>
<path d="M244.9 176.0L247.6 178.6M244.9 178.6L247.6 176.0" stroke="#a6cee3" stroke-width="0.65"/>
<path d="M242.2 187.0L244.9 189.7M242.2 189.7L244.9 187.0" stroke="#a6cee3" stroke-width="0.65"/>
<path d="M247.1 187.1L249.7 189.8M247.1 189.8L249.7 187.1" stroke="#a6cee3" stroke-width="0.65"/>
<path d="M242.6 178.9L245.3 181.6M242.6 181.6L245.3 178.9" stroke="#a6cee3" stroke-width="0.65"/>
<path d="M241.0 184.5L243.7 187.2M241.0 187.2L243.7 184.5" stroke="#a6cee3" stroke-width="0.65"/>
<path d="M239.4 181.9L242.1 184.6M239.4 184.6L242.1 181.9" stroke="#a6cee3" stroke-width="0.65"/>
<path d="M247.6 186.1L250.2 188.7M247.6 188.7L250.2 186.1" stroke="#a6cee3" stroke-width="0.65"/>
<path d="M240.9 185.0L243.6 187.7M240.9 187.7L243.6 185.0" stroke="#a6cee3" stroke-width="0.65"/>
<path d="M241.4 173.7L244.1 176.4M241.4 176.4L244.1 173.7" stroke="#a6cee3" stroke-width="0.65"/>
<path d="M240.0 184.8L242.7 187.5M240.0 187.5L242.7 184.8" stroke="#a6cee3" stroke-width="0.65"/>
<path d="M249.3 175.5L252.0 178.2M249.3 178.2L252.0 175.5" stroke="#a6cee3" stroke-width="0.65"/>
<path d="M241.1 176.3L243.8 179.0M241.1 179.0L243.8 176.3" stroke="#a6cee3" stroke-width="0.65"/>
<path d="M249.8 182.5L252.5 185.2M249.8 185.2L252.5 182.5" stroke="#a6cee3" stroke-width="0.65"/>
<path d="M242.5 169.5L245.2 172.2M242.5 172.2L245.2 169.5" stroke="#a6cee3" stroke-width="0.65"/>
<path d="M241.8 185.8L244.5 188.5M241.8 188.5L244.5 185.8" stroke="#a6cee3" stroke-width="0.65"/>
<path d="M249.8 177.3L252.4 180.0M249.8 180.0L252.4 177.3" stroke="#a6cee3" stroke-width="0.65"/>
<path d="M241.4 175.2L244.1 177.9M241.4 177.9L244.1 175.2" stroke="#a6cee3" stroke-width="0.65"/>
<path d="M238.9 182.9L241.6 185.6M238.9 185.6L241.6 182.9" stroke="#a6cee3" stroke-width="0.65"/>
<path d="M240.5 184.7L243.2 187.4M240.5 187.4L243.2 184.7" stroke="#a6cee3" stroke-width="0.65"/>
<path d="M239.4 172.7L242.1 175.4M239.4 175.4L242.1 172.7" stroke="#a6cee3" stroke-width="0.65"/>
<path d="M245.3 173.4L248.0 176.1M245.3 176.1L248.0 173.4" stroke="#a6cee3" stroke-width="0.65"/>
<path d="M247.3 178.7L250.0 181.4M247.3 181.4L250.0 178.7" stroke="#a6cee3" stroke-width="0.65"/>
<path d="M240.0 182.4L242.6 185.1M240.0 185.1L242.6 182.4" stroke="#a6cee3" stroke-width="0.65"/>
<path d="M246.5 169.6L249.2 172.3M246.5 172.3L249.2 169.6" stroke="#a6cee3" stroke-width="0.65"/>
<path d="M249.6 181.2L252.3 183.9M249.6 183.9L252.3 181.2" stroke="#a6cee3" stroke-width="0.65"/>
<path d="M246.3 169.6L249.0 172.3M246.3 172.3L249.0 169.6" stroke="#a6cee3" stroke-width="0.65"/>
<path d="M241.2 176.3L243.9 178.9M241.2 178.9L243.9 176.3" stroke="#a6cee3" stroke-width="0.65"/>
<path d="M247.5 171.1L250.2 173.8M247.5 173.8L250.2 171.1" stroke="#a6cee3" stroke-width="0.65"/>
<path d="M241.8 169.5L244.5 172.1M241.8 172.1L244.5 169.5" stroke="#a6cee3" stroke-width="0.65"/>
<path d="M243.1 181.2L245.8 183.9M243.1 183.9L245.8 181.2" stroke="#a6cee3" stroke-width="0.65"/>
<path d="M238.9 175.6L241.6 178.2M238.9 178.2L241.6 175.6" stroke="#a6cee3" stroke-width="0.65"/>
<path d="M245.8 187.3L248.5 190.0M245.8 190.0L248.5 187.3" stroke="#a6cee3" stroke-width="0.65"/>
<path d="M246.9 176.5L249.6 179.2M246.9 179.2L249.6 176.5" stroke="#a6cee3" stroke-width="0.65"/>
<path d="M240.2 173.3L242.8 176.0M240.2 176.0L242.8 173.3" stroke="#a6cee3" stroke-width="0.65"/>
<path d="M241.4 179.7L244.1 182.4M241.4 182.4L244.1 179.7" stroke="#a6cee3" stroke-width="0.65"/>
<path d="M244.0 187.8L246.7 190.4M244.0 190.4L246.7 187.8" stroke="#a6cee3" stroke-width="0.65"/>
<path d="M245.2 171.8L247.9 174.5M245.2 174.5L247.9 171.8" stroke="#a6cee3" stroke-width="0.65"/>
<path d="M248.9 183.6L251.6 186.3M248.9 186.3L251.6 183.6" stroke="#a6cee3" stroke-width="0.65"/>
<path d="M244.6 173.6L247.3 176.3M244.6 176.3L247.3 173.6" stroke="#a6cee3" stroke-width="0.65"/>
<path d="M239.0 173.9L241.7 176.6M239.0 176.6L241.7 173.9" stroke="#a6cee3" stroke-width="0.65"/>
<path d="M247.5 173.6L250.2 176.3M247.5 176.3L250.2 173.6" stroke="#a6cee3" stroke-width="0.65"/>
<path d="M239.4 179.8L242.1 182.5M239.4 182.5L242.1 179.8" stroke="#a6cee3" stroke-width="0.65"/>
<path d="M245.2 182.9L247.9 185.6M245.2 185.6L247.9 182.9" stroke="#a6cee3" stroke-width="0.65"/>
<path d="M246.3 186.6L249.0 189.3M246.3 189.3L249.0 186.6" stroke="#a6cee3" stroke-width="0.65"/>
<path d="M241.1 184.6L243.8 187.3M241.1 187.3L243.8 184.6" stroke="#a6cee3" stroke-width="0.65"/>
<path d="M240.5 183.0L243.2 185.7M240.5 185.7L243.2 183.0" stroke="#a6cee3" stroke-width="0.65"/>
<path d="M244.9 180.4L247.6 183.1M244.9 183.1L247.6 180.4" stroke="#a6cee3" stroke-width="0.65"/>
<path d="M247.9 178.5L250.6 181.2M247.9 181.2L250.6 178.5" stroke="#a6cee3" stroke-width="0.65"/>
<path d="M248.0 183.8L250.7 186.5M248.0 186.5L250.7 183.8" stroke="#a6cee3" stroke-width="0.65"/>
<path d="M244.7 174.6L247.4 177.3M244.7 177.3L247.4 174.6" stroke="#a6cee3" stroke-width="0.65"/>
<path d="M241.2 175.1L243.9 177.8M241.2 177.8L243.9 175.1" stroke="#a6cee3" stroke-width="0.65"/>
<path d="M243.3 178.5L246.0 181.2M243.3 181.2L246.0 178.5" stroke="#a6cee3" stroke-width="0.65"/>
<path d="M250.2 180.8L252.9 183.5M250.2 183.5L252.9 180.8" stroke="#a6cee3" stroke-width="0.65"/>
<path d="M247.0 173.2L249.7 175.9M247.0 175.9L249.7 173.2" stroke="#a6cee3" stroke-width="0.65"/>
<path d="M241.3 176.5L244.0 179.1M241.3 179.1L244.0 176.5" stroke="#a6cee3" stroke-width="0.65"/>
<path d="M244.9 171.9L247.6 174.6M244.9 174.6L247.6 171.9" stroke="#a6cee3" stroke-width="0.65"/>
<path d="M249.3 175.6L252.0 178.3M249.3 178.3L252.0 175.6" stroke="#a6cee3" stroke-width="0.65"/>
<path d="M246.7 169.3L249.4 172.0M246.7 172.0L249.4 169.3" stroke="#a6cee3" stroke-width="0.65"/>
<path d="M244.1 180.7L246.8 183.4M244.1 183.4L246.8 180.7" stroke="#a6cee3" stroke-width="0.65"/>
<path d="M245.0 182.9L247.6 185.6M245.0 185.6L247.6 182.9" stroke="#a6cee3" stroke-width="0.65"/>
<path d="M245.4 179.8L248.1 182.5M245.4 182.5L248.1 179.8" stroke="#a6cee3" stroke-width="0.65"/>
<path d="M238.7 175.2L241.4 177.9M238.7 177.9L241.4 175.2" stroke="#a6cee3" stroke-width="0.65"/>
<path d="M238.3 181.3L241.0 184.0M238.3 184.0L241.0 181.3" stroke="#a6cee3" stroke-width="0.65"/>
<path d="M245.5 177.2L248.2 179.9M245.5 179.9L248.2 177.2" stroke="#a6cee3" stroke-width="0.65"/>
<path d="M241.0 174.8L243.7 177.5M241.0 177.5L243.7 174.8" stroke="#a6cee3" stroke-width="0.65"/>
<path d="M248.6 185.7L251.3 188.4M248.6 188.4L251.3 185.7" stroke="#a6cee3" stroke-width="0.65"/>
<path d="M243.9 186.5L246.6 189.2M243.9 189.2L246.6 186.5" stroke="#a6cee3" stroke-width="0.65"/>
<path d="M240.3 170.7L243.0 173.4M240.3 173.4L243.0 170.7" stroke="#a6cee3" stroke-width="0.65"/>
<path d="M242.3 172.9L245.0 175.6M242.3 175.6L245.0 172.9" stroke="#a6cee3" stroke-width="0.65"/>
<path d="M241.8 180.0L244.5 182.7M241.8 182.7L244.5 180.0" stroke="#a6cee3" stroke-width="0.65"/>
<path d="M250.2 176.4L252.9 179.1M250.2 179.1L252.9 176.4" stroke="#a6cee3" stroke-width="0.65"/>
<path d="M244.4 180.7L247.1 183.4M244.4 183.4L247.1 180.7" stroke="#a6cee3" stroke-width="0.65"/>
<path d="M244.0 184.9L246.7 187.6M244.0 187.6L246.7 184.9" stroke="#a6cee3" stroke-width="0.65"/>
<path d="M249.0 172.9L251.7 175.6M249.0 175.6L251.7 172.9" stroke="#a6cee3" stroke-width="0.65"/>
<path d="M244.9 176.7L247.5 179.4M244.9 179.4L247.5 176.7" stroke="#a6cee3" stroke-width="0.65"/>
<path d="M245.3 170.0L248.0 172.7M245.3 172.7L248.0 170.0" stroke="#a6cee3" stroke-width="0.65"/>
<path d="M240.4 170.4L243.1 173.0M240.4 173.0L243.1 170.4" stroke="#a6cee3" stroke-width="0.65"/>
<path d="M246.4 180.0L249.1 182.7M246.4 182.7L249.1 180.0" stroke="#a6cee3" stroke-width="0.65"/>
<path d="M244.3 168.5L247.0 171.2M244.3 171.2L247.0 168.5" stroke="#a6cee3" stroke-width="0.65"/>
<path d="M242.7 173.5L245.3 176.2M242.7 176.2L245.3 173.5" stroke="#a6cee3" stroke-width="0.65"/>
<path d="M239.6 173.7L242.3 176.4M239.6 176.4L242.3 173.7" stroke="#a6cee3" stroke-width="0.65"/>
<path d="M246.9 182.3L249.6 185.0M246.9 185.0L249.6 182.3" stroke="#a6cee3" stroke-width="0.65"/>
<path d="M244.1 182.4L246.7 185.0M244.1 185.0L246.7 182.4" stroke="#a6cee3" stroke-width="0.65"/>
<path d="M241.6 179.2L244.3 181.8M241.6 181.8L244.3 179.2" stroke="#a6cee3" stroke-width="0.65"/>
<path d="M244.3 182.6L247.0 185.3M244.3 185.3L247.0 182.6" stroke="#a6cee3" stroke-width="0.65"/>
<path d="M243.9 177.6L246.5 180.3M243.9 180.3L246.5 177.6" stroke="#a6cee3" stroke-width="0.65"/>
<path d="M243.6 174.1L246.3 176.8M243.6 176.8L246.3 174.1" stroke="#a6cee3" stroke-width="0.65"/>
<path d="M250.0 180.9L252.7 183.6M250.0 183.6L252.7 180.9" stroke="#a6cee3" stroke-width="0.65"/>
<path d="M245.3 188.6L247.9 191.3M245.3 191.3L247.9 188.6" stroke="#a6cee3" stroke-width="0.65"/>
<path d="M248.1 171.3L250.8 174.0M248.1 174.0L250.8 171.3" stroke="#a6cee3" stroke-width="0.65"/>
<path d="M246.8 184.1L249.5 186.7M246.8 186.7L249.5 184.1" stroke="#a6cee3" stroke-width="0.65"/>
<path d="M249.1 184.4L251.7 187.1M249.1 187.1L251.7 184.4" stroke="#a6cee3" stroke-width="0.65"/>
<path d="M246.8 171.7L249.5 174.4M246.8 174.4L249.5 171.7" stroke="#a6cee3" stroke-width="0.65"/>
<path d="M236.4 183.5L239.1 186.2M236.4 186.2L239.1 183.5" stroke="#a6cee3" stroke-width="0.65"/>
<path d="M239.9 179.6L242.6 182.2M239.9 182.2L242.6 179.6" stroke="#a6cee3" stroke-width="0.65"/>
<path d="M237.6 181.3L240.3 184.0M237.6 184.0L240.3 181.3" stroke="#a6cee3" stroke-width="0.65"/>
<path d="M238.8 183.8L241.5 186.5M238.8 186.5L241.5 183.8" stroke="#a6cee3" stroke-width="0.65"/>
<path d="M238.0 179.0L240.7 181.7M238.0 181.7L240.7 179.0" stroke="#a6cee3" stroke-width="0.65"/>
<path d="M240.9 186.3L243.6 189.0M240.9 189.0L243.6 186.3" stroke="#a6cee3" stroke-width="0.65"/>
<path d="M238.4 185.8L241.1 188.5M238.4 188.5L241.1 185.8" stroke="#a6cee3" stroke-width="0.65"/>
<path d="M239.8 184.8L242.5 187.5M239.8 187.5L242.5 184.8" stroke="#a6cee3" stroke-width="0.65"/>
<path d="M239.9 180.2L242.6 182.9M239.9 182.9L242.6 180.2" stroke="#a6cee3" stroke-width="0.65"/>
<path d="M240.0 185.7L242.7 188.4M240.0 188.4L242.7 185.7" stroke="#a6cee3" stroke-width="0.65"/>
<path d="M237.1 187.0L239.8 189.7M237.1 189.7L239.8 187.0" stroke="#a6cee3" stroke-width="0.65"/>
<path d="M241.6 185.9L244.3 188.6M241.6 188.6L244.3 185.9" stroke="#a6cee3" stroke-width="0.65"/>
<path d="M242.2 184.3L244.9 187.0M242.2 187.0L244.9 184.3" stroke="#a6cee3" stroke-width="0.65"/>
<path d="M237.8 180.7L240.4 183.3M237.8 183.3L240.4 180.7" stroke="#a6cee3" stroke-width="0.65"/>
<path d="M236.5 183.0L239.2 185.7M236.5 185.7L239.2 183.0" stroke="#a6cee3" stroke-width="0.65"/>
<path d="M237.7 151.7L240.3 154.3M237.7 154.3L240.3 151.7" stroke="#a6cee3" stroke-width="0.65"/>
<path d="M241.7 154.7L244.3 157.3M241.7 157.3L244.3 154.7" stroke="#a6cee3" stroke-width="0.65"/>
<path d="M243.7 149.7L246.3 152.3M243.7 152.3L246.3 149.7" stroke="#a6cee3" stroke-width="0.65"/>
<path d="M246.7 156.7L249.3 159.3M246.7 159.3L249.3 156.7" stroke="#a6cee3" stroke-width="0.65"/>
<path d="M248.7 158.7L251.3 161.3M248.7 161.3L251.3 158.7" stroke="#a6cee3" stroke-width="0.65"/>
<path d="M239.7 160.7L242.3 163.3M239.7 163.3L242.3 160.7" stroke="#a6cee3" stroke-width="0.65"/>
<path d="M244.7 161.7L247.3 164.3M244.7 164.3L247.3 161.7" stroke="#a6cee3" stroke-width="0.65"/>
<path d="M249.7 163.7L252.3 166.3M249.7 166.3L252.3 163.7" stroke="#a6cee3" stroke-width="0.65"/>
<path d="M236.7 164.7L239.3 167.3M236.7 167.3L239.3 164.7" stroke="#a6cee3" stroke-width="0.65"/>
<circle cx="67.6" cy="250.5" r="1.68" fill="#b2df8a"/>
<circle cx="70.6" cy="249.0" r="1.68" fill="#b2df8a"/>
<circle cx="74.4" cy="246.1" r="1.68" fill="#b2df8a"/>
<circle cx="75.9" cy="242.4" r="1.68" fill="#b2df8a"/>
<circle cx="80.7" cy="240.1" r="1.68" fill="#b2df8a"/>
<circle cx="83.9" cy="238.5" r="1.68" fill="#b2df8a"/>
<circle cx="87.8" cy="236.3" r="1.68" fill="#b2df8a"/>
<circle cx="91.2" cy="235.1" r="1.68" fill="#b2df8a"/>
<circle cx="93.7" cy="232.9" r="1.68" fill="#b2df8a"/>
<circle cx="98.4" cy="232.0" r="1.68" fill="#b2df8a"/>
<circle cx="101.0" cy="230.3" r="1.68" fill="#b2df8a"/>
<circle cx="105.9" cy="228.5" r="1.68" fill="#b2df8a"/>
<circle cx="109.0" cy="226.9" r="1.68" fill="#b2df8a"/>
<circle cx="112.1" cy="226.4" r="1.68" fill="#b2df8a"/>
<circle cx="116.6" cy="224.0" r="1.68" fill="#b2df8a"/>
<circle cx="119.3" cy="222.3" r="1.68" fill="#b2df8a"/>
<circle cx="200.3" cy="201.0" r="1.68" fill="#b2df8a"/>
<circle cx="201.3" cy="199.9" r="1.68" fill="#b2df8a"/>
<circle cx="204.1" cy="201.1" r="1.68" fill="#b2df8a"/>
<circle cx="206.5" cy="200.5" r="1.68" fill="#b2df8a"/>
<circle cx="206.7" cy="198.8" r="1.68" fill="#b2df8a"/>
<circle cx="210.1" cy="199.5" r="1.68" fill="#b2df8a"/>
<circle cx="211.9" cy="198.2" r="1.68" fill="#b2df8a"/>
<circle cx="214.1" cy="198.8" r="1.68" fill="#b2df8a"/>
<circle cx="216.0" cy="200.0" r="1.68" fill="#b2df8a"/>
<circle cx="216.9" cy="197.2" r="1.68" fill="#b2df8a"/>
<circle cx="219.9" cy="198.0" r="1.68" fill="#b2df8a"/>
<circle cx="221.6" cy="196.9" r="1.68" fill="#b2df8a"/>
<circle cx="221.6" cy="198.0" r="1.68" fill="#b2df8a"/>
<circle cx="223.9" cy="195.7" r="1.68" fill="#b2df8a"/>
<circle cx="225.8" cy="196.4" r="1.68" fill="#b2df8a"/>
<circle cx="226.6" cy="195.9" r="1.68" fill="#b2df8a"/>
<circle cx="229.7" cy="195.5" r="1.68" fill="#b2df8a"/>
<circle cx="230.7" cy="195.8" r="1.68" fill="#b2df8a"/>
<circle cx="234.5" cy="195.9" r="1.68" fill="#b2df8a"/>
<circle cx="235.0" cy="195.2" r="1.68" fill="#b2df8a"/>
<circle cx="237.1" cy="195.0" r="1.68" fill="#b2df8a"/>
<circle cx="238.0" cy="195.1" r="1.68" fill="#b2df8a"/>
<circle cx="242.4" cy="193.8" r="1.68" fill="#b2df8a"/>
<circle cx="243.1" cy="193.6" r="1.68" fill="#b2df8a"/>
<circle cx="245.0" cy="191.9" r="1.68" fill="#b2df8a"/>
<circle cx="248.1" cy="192.2" r="1.68" fill="#b2df8a"/>
<circle cx="237.3" cy="197.3" r="1.68" fill="#b2df8a"/>
<circle cx="236.0" cy="198.9" r="1.68" fill="#b2df8a"/>
<circle cx="239.1" cy="196.7" r="1.68" fill="#b2df8a"/>
<circle cx="234.6" cy="195.4" r="1.68" fill="#b2df8a"/>
<circle cx="243.7" cy="196.7" r="1.68" fill="#b2df8a"/>
<circle cx="229.6" cy="195.6" r="1.68" fill="#b2df8a"/>
<circle cx="235.1" cy="195.7" r="1.68" fill="#b2df8a"/>
<circle cx="241.8" cy="194.9" r="1.68" fill="#b2df8a"/>
<circle cx="239.4" cy="196.8" r="1.68" fill="#b2df8a"/>
<circle cx="228.9" cy="196.6" r="1.68" fill="#b2df8a"/>
<circle cx="235.4" cy="197.4" r="1.68" fill="#b2df8a"/>
<circle cx="232.9" cy="197.0" r="1.68" fill="#b2df8a"/>
<circle cx="228.2" cy="195.2" r="1.68" fill="#b2df8a"/>
<circle cx="240.6" cy="198.1" r="1.68" fill="#b2df8a"/>
<circle cx="235.9" cy="195.4" r="1.68" fill="#b2df8a"/>
<circle cx="240.5" cy="194.3" r="1.68" fill="#b2df8a"/>
<circle cx="231.0" cy="197.6" r="1.68" fill="#b2df8a"/>
<circle cx="239.9" cy="194.9" r="1.68" fill="#b2df8a"/>
<circle cx="228.3" cy="198.0" r="1.68" fill="#b2df8a"/>
<circle cx="237.0" cy="195.0" r="1.68" fill="#b2df8a"/>
<circle cx="236.3" cy="198.0" r="1.68" fill="#b2df8a"/>
<circle cx="226.9" cy="197.5" r="1.68" fill="#b2df8a"/>
<circle cx="239.2" cy="194.2" r="1.68" fill="#b2df8a"/>
<circle cx="239.7" cy="194.3" r="1.68" fill="#b2df8a"/>
<circle cx="242.8" cy="197.1" r="1.68" fill="#b2df8a"/>
<circle cx="245.3" cy="195.8" r="1.68" fill="#b2df8a"/>
<circle cx="236.0" cy="198.2" r="1.68" fill="#b2df8a"/>
<circle cx="231.9" cy="195.3" r="1.68" fill="#b2df8a"/>
<circle cx="233.4" cy="196.4" r="1.68" fill="#b2df8a"/>
<circle cx="229.5" cy="197.3" r="1.68" fill="#b2df8a"/>
<circle cx="239.7" cy="196.6" r="1.68" fill="#b2df8a"/>
<circle cx="244.7" cy="196.1" r="1.68" fill="#b2df8a"/>
<circle cx="243.3" cy="195.7" r="1.68" fill="#b2df8a"/>
<circle cx="239.4" cy="194.2" r="1.68" fill="#b2df8a"/>
<circle cx="237.4" cy="196.2" r="1.68" fill="#b2df8a"/>
<circle cx="232.8" cy="195.5" r="1.68" fill="#b2df8a"/>
<circle cx="233.7" cy="195.3" r="1.68" fill="#b2df8a"/>
<circle cx="226.7" cy="195.8" r="1.68" fill="#b2df8a"/>
<circle cx="232.4" cy="195.6" r="1.68" fill="#b2df8a"/>
<circle cx="229.5" cy="196.3" r="1.68" fill="#b2df8a"/>
<path d="M66.6 247.8L69.1 250.3M66.6 250.3L69.1 247.8" stroke="#33a02c" stroke-width="1.25"/>
<path d="M67.2 246.7L69.8 249.2M67.2 249.2L69.8 246.7" stroke="#33a02c" stroke-width="1.25"/>
<path d="M68.3 245.1L70.9 247.7M68.3 247.7L70.9 245.1" stroke="#33a02c" stroke-width="1.25"/>
<path d="M70.7 243.5L73.3 246.0M70.7 246.0L73.3 243.5" stroke="#33a02c" stroke-width="1.25"/>
<path d="M71.3 241.9L73.9 244.5M71.3 244.5L73.9 241.9" stroke="#33a02c" stroke-width="1.25"/>
<path d="M73.0 240.0L75.6 242.6M73.0 242.6L75.6 240.0" stroke="#33a02c" stroke-width="1.25"/>
<path d="M74.0 238.6L76.6 241.1M74.0 241.1L76.6 238.6" stroke="#33a02c" stroke-width="1.25"/>
<path d="M75.9 237.7L78.5 240.3M75.9 240.3L78.5 237.7" stroke="#33a02c" stroke-width="1.25"/>
<path d="M77.6 236.3L80.2 238.9M77.6 238.9L80.2 236.3" stroke="#33a02c" stroke-width="1.25"/>
<path d="M79.1 235.5L81.7 238.1M79.1 238.1L81.7 235.5" stroke="#33a02c" stroke-width="1.25"/>
<path d="M81.7 234.5L84.3 237.1M81.7 237.1L84.3 234.5" stroke="#33a02c" stroke-width="1.25"/>
<path d="M83.3 233.7L85.8 236.2M83.3 236.2L85.8 233.7" stroke="#33a02c" stroke-width="1.25"/>
<path d="M84.7 232.8L87.2 235.4M84.7 235.4L87.2 232.8" stroke="#33a02c" stroke-width="1.25"/>
<path d="M86.8 231.7L89.4 234.3M86.8 234.3L89.4 231.7" stroke="#33a02c" stroke-width="1.25"/>
<path d="M88.9 230.8L91.5 233.4M88.9 233.4L91.5 230.8" stroke="#33a02c" stroke-width="1.25"/>
<path d="M90.5 229.7L93.0 232.3M90.5 232.3L93.0 229.7" stroke="#33a02c" stroke-width="1.25"/>
<path d="M92.3 229.2L94.8 231.8M92.3 231.8L94.8 229.2" stroke="#33a02c" stroke-width="1.25"/>
<path d="M94.4 228.5L96.9 231.1M94.4 231.1L96.9 228.5" stroke="#33a02c" stroke-width="1.25"/>
<path d="M95.8 227.5L98.4 230.1M95.8 230.1L98.4 227.5" stroke="#33a02c" stroke-width="1.25"/>
<path d="M98.8 226.6L101.3 229.2M98.8 229.2L101.3 226.6" stroke="#33a02c" stroke-width="1.25"/>
<path d="M100.3 226.1L102.9 228.7M100.3 228.7L102.9 226.1" stroke="#33a02c" stroke-width="1.25"/>
<path d="M101.9 225.9L104.4 228.4M101.9 228.4L104.4 225.9" stroke="#33a02c" stroke-width="1.25"/>
<path d="M103.6 224.5L106.2 227.0M103.6 227.0L106.2 224.5" stroke="#33a02c" stroke-width="1.25"/>
<path d="M105.1 222.5L107.7 225.0M105.1 225.0L107.7 222.5" stroke="#33a02c" stroke-width="1.25"/>
<path d="M107.7 221.8L110.3 224.3M107.7 224.3L110.3 221.8" stroke="#33a02c" stroke-width="1.25"/>
<path d="M108.4 220.5L111.0 223.1M108.4 223.1L111.0 220.5" stroke="#33a02c" stroke-width="1.25"/>
<path d="M110.6 219.8L113.2 222.4M110.6 222.4L113.2 219.8" stroke="#33a02c" stroke-width="1.25"/>
<path d="M111.9 218.0L114.5 220.5M111.9 220.5L114.5 218.0" stroke="#33a02c" stroke-width="1.25"/>
<path d="M114.6 217.4L117.2 220.0M114.6 220.0L117.2 217.4" stroke="#33a02c" stroke-width="1.25"/>
<path d="M115.3 215.7L117.9 218.3M115.3 218.3L117.9 215.7" stroke="#33a02c" stroke-width="1.25"/>
<path d="M122.7 210.9L125.3 213.5M122.7 213.5L125.3 210.9" stroke="#33a02c" stroke-width="1.25"/>
<path d="M128.1 208.3L130.7 210.9M128.1 210.9L130.7 208.3" stroke="#33a02c" stroke-width="1.25"/>
<path d="M131.6 205.7L134.2 208.3M131.6 208.3L134.2 205.7" stroke="#33a02c" stroke-width="1.25"/>
<path d="M136.9 202.1L139.5 204.7M136.9 204.7L139.5 202.1" stroke="#33a02c" stroke-width="1.25"/>
<path d="M139.5 200.4L142.1 203.0M139.5 203.0L142.1 200.4" stroke="#33a02c" stroke-width="1.25"/>
<path d="M144.7 197.7L147.3 200.3M144.7 200.3L147.3 197.7" stroke="#33a02c" stroke-width="1.25"/>
<path d="M152.7 194.2L155.3 196.8M152.7 196.8L155.3 194.2" stroke="#33a02c" stroke-width="1.25"/>
<path d="M156.2 191.2L158.8 193.8M156.2 193.8L158.8 191.2" stroke="#33a02c" stroke-width="1.25"/>
<path d="M160.6 190.2L163.2 192.8M160.6 192.8L163.2 190.2" stroke="#33a02c" stroke-width="1.25"/>
<path d="M166.7 186.0L169.3 188.6M166.7 188.6L169.3 186.0" stroke="#33a02c" stroke-width="1.25"/>
<path d="M174.7 183.7L177.3 186.3M174.7 186.3L177.3 183.7" stroke="#33a02c" stroke-width="1.25"/>
<path d="M182.7 182.2L185.3 184.8M182.7 184.8L185.3 182.2" stroke="#33a02c" stroke-width="1.25"/>
<path d="M188.7 180.2L191.3 182.8M188.7 182.8L191.3 180.2" stroke="#33a02c" stroke-width="1.25"/>
<path d="M188.6 180.4L191.1 183.0M188.6 183.0L191.1 180.4" stroke="#33a02c" stroke-width="1.25"/>
<path d="M190.1 180.2L192.7 182.8M190.1 182.8L192.7 180.2" stroke="#33a02c" stroke-width="1.25"/>
<path d="M191.5 179.5L194.1 182.1M191.5 182.1L194.1 179.5" stroke="#33a02c" stroke-width="1.25"/>
<path d="M192.7 179.3L195.3 181.9M192.7 181.9L195.3 179.3" stroke="#33a02c" stroke-width="1.25"/>
<path d="M194.0 178.7L196.5 181.3M194.0 181.3L196.5 178.7" stroke="#33a02c" stroke-width="1.25"/>
<path d="M195.2 178.5L197.8 181.1M195.2 181.1L197.8 178.5" stroke="#33a02c" stroke-width="1.25"/>
<path d="M196.6 177.6L199.2 180.2M196.6 180.2L199.2 177.6" stroke="#33a02c" stroke-width="1.25"/>
<path d="M197.8 177.1L200.4 179.7M197.8 179.7L200.4 177.1" stroke="#33a02c" stroke-width="1.25"/>
<path d="M199.0 177.3L201.5 179.9M199.0 179.9L201.5 177.3" stroke="#33a02c" stroke-width="1.25"/>
<path d="M199.9 177.3L202.5 179.9M199.9 179.9L202.5 177.3" stroke="#33a02c" stroke-width="1.25"/>
<path d="M201.3 176.4L203.8 179.0M201.3 179.0L203.8 176.4" stroke="#33a02c" stroke-width="1.25"/>
<path d="M202.7 176.5L205.3 179.0M202.7 179.0L205.3 176.5" stroke="#33a02c" stroke-width="1.25"/>
<path d="M203.8 175.6L206.4 178.2M203.8 178.2L206.4 175.6" stroke="#33a02c" stroke-width="1.25"/>
<path d="M204.9 175.3L207.5 177.9M204.9 177.9L207.5 175.3" stroke="#33a02c" stroke-width="1.25"/>
<path d="M206.4 174.8L209.0 177.4M206.4 177.4L209.0 174.8" stroke="#33a02c" stroke-width="1.25"/>
<path d="M207.3 174.7L209.9 177.3M207.3 177.3L209.9 174.7" stroke="#33a02c" stroke-width="1.25"/>
<path d="M208.6 174.2L211.2 176.7M208.6 176.7L211.2 174.2" stroke="#33a02c" stroke-width="1.25"/>
<path d="M210.3 174.3L212.8 176.9M210.3 176.9L212.8 174.3" stroke="#33a02c" stroke-width="1.25"/>
<path d="M211.2 173.6L213.8 176.2M211.2 176.2L213.8 173.6" stroke="#33a02c" stroke-width="1.25"/>
<path d="M212.2 173.1L214.7 175.7M212.2 175.7L214.7 173.1" stroke="#33a02c" stroke-width="1.25"/>
<path d="M213.4 173.0L216.0 175.6M213.4 175.6L216.0 173.0" stroke="#33a02c" stroke-width="1.25"/>
<path d="M215.1 172.2L217.6 174.8M215.1 174.8L217.6 172.2" stroke="#33a02c" stroke-width="1.25"/>
<path d="M216.7 172.1L219.2 174.7M216.7 174.7L219.2 172.1" stroke="#33a02c" stroke-width="1.25"/>
<path d="M217.8 172.2L220.4 174.8M217.8 174.8L220.4 172.2" stroke="#33a02c" stroke-width="1.25"/>
<path d="M219.2 171.3L221.8 173.8M219.2 173.8L221.8 171.3" stroke="#33a02c" stroke-width="1.25"/>
<path d="M219.9 171.6L222.5 174.2M219.9 174.2L222.5 171.6" stroke="#33a02c" stroke-width="1.25"/>
<circle cx="67.4" cy="249.5" r="1.57" fill="#1f78b4"/>
<circle cx="72.3" cy="246.8" r="1.57" fill="#1f78b4"/>
<circle cx="76.9" cy="244.0" r="1.57" fill="#1f78b4"/>
<circle cx="80.8" cy="241.3" r="1.57" fill="#1f78b4"/>
<circle cx="85.6" cy="238.5" r="1.57" fill="#1f78b4"/>
<circle cx="90.6" cy="236.2" r="1.57" fill="#1f78b4"/>
<circle cx="95.0" cy="234.3" r="1.57" fill="#1f78b4"/>
<circle cx="99.8" cy="232.5" r="1.57" fill="#1f78b4"/>
<path d="M78.7 240.1L82.3 240.1M80.5 238.3L80.5 241.9" stroke="#fb9a99" stroke-width="0.8"/>
<path d="M80.9 238.1L84.5 238.1M82.7 236.3L82.7 239.9" stroke="#fb9a99" stroke-width="0.8"/>
<path d="M85.6 237.1L89.2 237.1M87.4 235.3L87.4 238.9" stroke="#fb9a99" stroke-width="0.8"/>
<path d="M89.9 236.5L93.5 236.5M91.7 234.7L91.7 238.3" stroke="#fb9a99" stroke-width="0.8"/>
<path d="M94.8 233.8L98.4 233.8M96.6 232.0L96.6 235.6" stroke="#fb9a99" stroke-width="0.8"/>
<path d="M97.2 232.7L100.8 232.7M99.0 230.9L99.0 234.5" stroke="#fb9a99" stroke-width="0.8"/>
<path d="M102.6 230.4L106.2 230.4M104.4 228.6L104.4 232.2" stroke="#fb9a99" stroke-width="0.8"/>
<path d="M105.1 230.2L108.7 230.2M106.9 228.4L106.9 231.9" stroke="#fb9a99" stroke-width="0.8"/>
<path d="M108.0 227.2L111.5 227.2M109.7 225.5L109.7 229.0" stroke="#fb9a99" stroke-width="0.8"/>
<path d="M114.1 227.2L117.7 227.2M115.9 225.5L115.9 229.0" stroke="#fb9a99" stroke-width="0.8"/>
<path d="M116.7 223.8L120.2 223.8M118.5 222.0L118.5 225.6" stroke="#fb9a99" stroke-width="0.8"/>
<path d="M121.6 224.0L125.2 224.0M123.4 222.2L123.4 225.8" stroke="#fb9a99" stroke-width="0.8"/>
<path d="M125.3 223.4L128.9 223.4M127.1 221.7L127.1 225.2" stroke="#fb9a99" stroke-width="0.8"/>
<path d="M129.3 220.4L132.9 220.4M131.1 218.6L131.1 222.2" stroke="#fb9a99" stroke-width="0.8"/>
<path d="M131.2 218.6L134.7 218.6M133.0 216.8L133.0 220.4" stroke="#fb9a99" stroke-width="0.8"/>
<path d="M136.0 217.8L139.6 217.8M137.8 216.0L137.8 219.6" stroke="#fb9a99" stroke-width="0.8"/>
<path d="M139.0 215.5L142.6 215.5M140.8 213.8L140.8 217.3" stroke="#fb9a99" stroke-width="0.8"/>
<path d="M144.2 215.4L147.8 215.4M146.0 213.6L146.0 217.2" stroke="#fb9a99" stroke-width="0.8"/>
<path d="M147.3 215.2L150.9 215.2M149.1 213.4L149.1 217.0" stroke="#fb9a99" stroke-width="0.8"/>
<path d="M152.0 211.2L155.6 211.2M153.8 209.4L153.8 213.0" stroke="#fb9a99" stroke-width="0.8"/>
<path d="M155.3 212.0L158.9 212.0M157.1 210.2L157.1 213.8" stroke="#fb9a99" stroke-width="0.8"/>
<path d="M158.9 210.4L162.5 210.4M160.7 208.7L160.7 212.2" stroke="#fb9a99" stroke-width="0.8"/>
<path d="M162.0 208.1L165.6 208.1M163.8 206.3L163.8 209.9" stroke="#fb9a99" stroke-width="0.8"/>
<path d="M168.3 207.5L171.8 207.5M170.1 205.7L170.1 209.3" stroke="#fb9a99" stroke-width="0.8"/>
<path d="M171.7 205.2L175.3 205.2M173.5 203.4L173.5 207.0" stroke="#fb9a99" stroke-width="0.8"/>
<path d="M175.2 205.0L178.8 205.0M177.0 203.3L177.0 206.8" stroke="#fb9a99" stroke-width="0.8"/>
<path d="M178.5 204.1L182.1 204.1M180.3 202.3L180.3 205.9" stroke="#fb9a99" stroke-width="0.8"/>
<path d="M183.2 203.9L186.8 203.9M185.0 202.1L185.0 205.7" stroke="#fb9a99" stroke-width="0.8"/>
<path d="M187.3 201.1L190.9 201.1M189.1 199.3L189.1 202.9" stroke="#fb9a99" stroke-width="0.8"/>
<path d="M190.0 199.2L193.5 199.2M191.8 197.4L191.8 201.0" stroke="#fb9a99" stroke-width="0.8"/>
<path d="M195.7 197.9L199.3 197.9M197.5 196.1L197.5 199.7" stroke="#fb9a99" stroke-width="0.8"/>
<path d="M197.8 196.9L201.4 196.9M199.6 195.1L199.6 198.7" stroke="#fb9a99" stroke-width="0.8"/>
<path d="M203.0 197.8L206.6 197.8M204.8 196.0L204.8 199.6" stroke="#fb9a99" stroke-width="0.8"/>
<path d="M207.3 196.8L210.9 196.8M209.1 195.0L209.1 198.5" stroke="#fb9a99" stroke-width="0.8"/>
<path d="M209.8 193.6L213.3 193.6M211.5 191.8L211.5 195.4" stroke="#fb9a99" stroke-width="0.8"/>
<path d="M215.8 193.5L219.3 193.5M217.5 191.7L217.5 195.3" stroke="#fb9a99" stroke-width="0.8"/>
<path d="M219.6 192.6L223.2 192.6M221.4 190.8L221.4 194.4" stroke="#fb9a99" stroke-width="0.8"/>
<path d="M222.1 191.4L225.7 191.4M223.9 189.6L223.9 193.2" stroke="#fb9a99" stroke-width="0.8"/>
<path d="M226.0 192.6L229.6 192.6M227.8 190.9L227.8 194.4" stroke="#fb9a99" stroke-width="0.8"/>
<path d="M231.4 190.6L235.0 190.6M233.2 188.8L233.2 192.4" stroke="#fb9a99" stroke-width="0.8"/>
<path d="M83.1 237.8L86.7 236.0L86.7 239.6Z" fill="#e31a1c"/>
<path d="M87.1 236.7L90.7 234.9L90.7 238.5Z" fill="#e31a1c"/>
<path d="M92.9 234.7L96.5 232.9L96.5 236.5Z" fill="#e31a1c"/>
<path d="M97.4 232.0L101.0 230.2L101.0 233.7Z" fill="#e31a1c"/>
<path d="M101.8 228.7L105.3 226.9L105.3 230.5Z" fill="#e31a1c"/>
<path d="M107.9 228.2L111.5 226.4L111.5 230.0Z" fill="#e31a1c"/>
<path d="M111.5 226.4L115.1 224.7L115.1 228.2Z" fill="#e31a1c"/>
<path d="M117.4 223.5L121.0 221.7L121.0 225.3Z" fill="#e31a1c"/>
<path d="M121.9 223.0L125.4 221.2L125.4 224.8Z" fill="#e31a1c"/>
<path d="M126.5 221.2L130.1 219.4L130.1 223.0Z" fill="#e31a1c"/>
<path d="M130.9 218.3L134.5 216.5L134.5 220.1Z" fill="#e31a1c"/>
<path d="M136.8 216.1L140.3 214.3L140.3 217.9Z" fill="#e31a1c"/>
<path d="M140.9 215.7L144.4 213.9L144.4 217.5Z" fill="#e31a1c"/>
<path d="M146.1 213.9L149.7 212.1L149.7 215.7Z" fill="#e31a1c"/>
<path d="M150.6 211.0L154.2 209.3L154.2 212.8Z" fill="#e31a1c"/>
<path d="M155.8 209.4L159.3 207.6L159.3 211.2Z" fill="#e31a1c"/>
<path d="M161.9 208.0L165.5 206.2L165.5 209.8Z" fill="#e31a1c"/>
<path d="M166.0 206.0L169.6 204.2L169.6 207.8Z" fill="#e31a1c"/>
<path d="M171.0 205.0L174.5 203.2L174.5 206.8Z" fill="#e31a1c"/>
<path d="M175.7 202.9L179.3 201.1L179.3 204.7Z" fill="#e31a1c"/>
<path d="M180.2 203.0L183.7 201.2L183.7 204.8Z" fill="#e31a1c"/>
<path d="M185.6 200.4L189.2 198.6L189.2 202.2Z" fill="#e31a1c"/>
<path d="M190.3 199.1L193.9 197.3L193.9 200.9Z" fill="#e31a1c"/>
<path d="M195.4 197.2L199.0 195.4L199.0 198.9Z" fill="#e31a1c"/>
<path d="M201.3 196.3L204.8 194.5L204.8 198.1Z" fill="#e31a1c"/>
<path d="M205.3 196.0L208.9 194.2L208.9 197.8Z" fill="#e31a1c"/>
<path d="M210.3 194.4L213.9 192.6L213.9 196.2Z" fill="#e31a1c"/>
<path d="M217.0 193.4L220.6 191.6L220.6 195.1Z" fill="#e31a1c"/>
<path d="M221.3 194.0L224.9 192.2L224.9 195.8Z" fill="#e31a1c"/>
<path d="M227.2 191.9L230.8 190.1L230.8 193.7Z" fill="#e31a1c"/>
<path d="M135.1 222.7L138.2 225.8M135.1 225.8L138.2 222.7" stroke="#fdbf6f" stroke-width="0.9"/>
<path d="M137.5 222.6L140.7 225.7M137.5 225.7L140.7 222.6" stroke="#fdbf6f" stroke-width="0.9"/>
<path d="M139.5 221.9L142.6 225.0M139.5 225.0L142.6 221.9" stroke="#fdbf6f" stroke-width="0.9"/>
<path d="M142.6 219.4L145.7 222.6M142.6 222.6L145.7 219.4" stroke="#fdbf6f" stroke-width="0.9"/>
<path d="M144.9 218.5L148.0 221.7M144.9 221.7L148.0 218.5" stroke="#fdbf6f" stroke-width="0.9"/>
<path d="M147.9 218.2L151.0 221.3M147.9 221.3L151.0 218.2" stroke="#fdbf6f" stroke-width="0.9"/>
<path d="M150.7 218.3L153.9 221.4M150.7 221.4L153.9 218.3" stroke="#fdbf6f" stroke-width="0.9"/>
<path d="M151.9 216.9L155.0 220.0M151.9 220.0L155.0 216.9" stroke="#fdbf6f" stroke-width="0.9"/>
<path d="M154.9 216.2L158.0 219.3M154.9 219.3L158.0 216.2" stroke="#fdbf6f" stroke-width="0.9"/>
<path d="M157.9 215.4L161.0 218.5M157.9 218.5L161.0 215.4" stroke="#fdbf6f" stroke-width="0.9"/>
<path d="M159.5 215.8L162.6 218.9M159.5 218.9L162.6 215.8" stroke="#fdbf6f" stroke-width="0.9"/>
<path d="M161.3 215.7L164.4 218.8M161.3 218.8L164.4 215.7" stroke="#fdbf6f" stroke-width="0.9"/>
<path d="M164.0 214.8L167.1 217.9M164.0 217.9L167.1 214.8" stroke="#fdbf6f" stroke-width="0.9"/>
<path d="M166.8 213.3L169.9 216.4M166.8 216.4L169.9 213.3" stroke="#fdbf6f" stroke-width="0.9"/>
<path d="M168.8 212.1L171.9 215.3M168.8 215.3L171.9 212.1" stroke="#fdbf6f" stroke-width="0.9"/>
<path d="M170.7 213.3L173.8 216.5M170.7 216.5L173.8 213.3" stroke="#fdbf6f" stroke-width="0.9"/>
<path d="M173.4 212.2L176.5 215.4M173.4 215.4L176.5 212.2" stroke="#fdbf6f" stroke-width="0.9"/>
<path d="M175.3 211.3L178.4 214.5M175.3 214.5L178.4 211.3" stroke="#fdbf6f" stroke-width="0.9"/>
<path d="M178.3 210.5L181.4 213.7M178.3 213.7L181.4 210.5" stroke="#fdbf6f" stroke-width="0.9"/>
<path d="M180.5 208.9L183.7 212.0M180.5 212.0L183.7 208.9" stroke="#fdbf6f" stroke-width="0.9"/>
<path d="M183.0 208.6L186.1 211.8M183.0 211.8L186.1 208.6" stroke="#fdbf6f" stroke-width="0.9"/>
<path d="M184.9 209.2L188.1 212.3M184.9 212.3L188.1 209.2" stroke="#fdbf6f" stroke-width="0.9"/>
<path d="M175.1 191.1L178.5 194.5M175.1 194.5L178.5 191.1" stroke="#fdbf6f" stroke-width="1.0"/>
<path d="M177.6 193.1L180.9 196.4M177.6 196.4L180.9 193.1" stroke="#fdbf6f" stroke-width="1.0"/>
<path d="M177.9 194.1L181.2 197.5M177.9 197.5L181.2 194.1" stroke="#fdbf6f" stroke-width="1.0"/>
<path d="M175.9 193.0L179.3 196.3M175.9 196.3L179.3 193.0" stroke="#fdbf6f" stroke-width="1.0"/>
<path d="M176.0 195.0L179.4 198.4M176.0 198.4L179.4 195.0" stroke="#fdbf6f" stroke-width="1.0"/>
<path d="M178.5 194.7L181.8 198.1M178.5 198.1L181.8 194.7" stroke="#fdbf6f" stroke-width="1.0"/>
<path d="M178.1 196.5L181.4 199.9M178.1 199.9L181.4 196.5" stroke="#fdbf6f" stroke-width="1.0"/>
<path d="M179.4 195.9L182.8 199.3M179.4 199.3L182.8 195.9" stroke="#fdbf6f" stroke-width="1.0"/>
<path d="M180.3 197.0L183.7 200.4M180.3 200.4L183.7 197.0" stroke="#fdbf6f" stroke-width="1.0"/>
<path d="M180.0 197.2L183.4 200.6M180.0 200.6L183.4 197.2" stroke="#fdbf6f" stroke-width="1.0"/>
<path d="M178.8 200.3L182.2 203.7M178.8 203.7L182.2 200.3" stroke="#fdbf6f" stroke-width="1.0"/>
<path d="M181.3 200.4L184.6 203.8M181.3 203.8L184.6 200.4" stroke="#fdbf6f" stroke-width="1.0"/>
<path d="M179.6 199.0L182.9 202.3M179.6 202.3L182.9 199.0" stroke="#fdbf6f" stroke-width="1.0"/>
<path d="M180.5 200.2L183.8 203.5M180.5 203.5L183.8 200.2" stroke="#fdbf6f" stroke-width="1.0"/>
<path d="M181.4 201.5L184.8 204.8M181.4 204.8L184.8 201.5" stroke="#fdbf6f" stroke-width="1.0"/>
<path d="M181.1 201.9L184.5 205.3M181.1 205.3L184.5 201.9" stroke="#fdbf6f" stroke-width="1.0"/>
<path d="M183.6 202.2L186.9 205.6M183.6 205.6L186.9 202.2" stroke="#fdbf6f" stroke-width="1.0"/>
<path d="M184.7 204.2L188.1 207.5M184.7 207.5L188.1 204.2" stroke="#fdbf6f" stroke-width="1.0"/>
<path d="M184.8 203.8L188.2 207.2M184.8 207.2L188.2 203.8" stroke="#fdbf6f" stroke-width="1.0"/>
<path d="M184.5 205.9L187.8 209.3M184.5 209.3L187.8 205.9" stroke="#fdbf6f" stroke-width="1.0"/>
<path d="M184.7 204.4L188.1 207.8M184.7 207.8L188.1 204.4" stroke="#fdbf6f" stroke-width="1.0"/>
<path d="M186.8 207.6L190.1 211.0M186.8 211.0L190.1 207.6" stroke="#fdbf6f" stroke-width="1.0"/>
<circle cx="69.7" cy="249.3" r="1.68" fill="#ff7f00"/>
<circle cx="73.7" cy="248.6" r="1.68" fill="#ff7f00"/>
<circle cx="75.5" cy="246.5" r="1.68" fill="#ff7f00"/>
<circle cx="78.6" cy="245.8" r="1.68" fill="#ff7f00"/>
<circle cx="81.9" cy="244.5" r="1.68" fill="#ff7f00"/>
<circle cx="85.8" cy="241.6" r="1.68" fill="#ff7f00"/>
<circle cx="88.8" cy="240.6" r="1.68" fill="#ff7f00"/>
<circle cx="92.0" cy="239.8" r="1.68" fill="#ff7f00"/>
<circle cx="94.4" cy="237.2" r="1.68" fill="#ff7f00"/>
<circle cx="98.7" cy="236.3" r="1.68" fill="#ff7f00"/>
<circle cx="101.8" cy="235.3" r="1.68" fill="#ff7f00"/>
<circle cx="104.6" cy="234.1" r="1.68" fill="#ff7f00"/>
<circle cx="107.6" cy="232.1" r="1.68" fill="#ff7f00"/>
<circle cx="109.8" cy="231.1" r="1.68" fill="#ff7f00"/>
<circle cx="113.7" cy="229.6" r="1.68" fill="#ff7f00"/>
<circle cx="117.7" cy="227.8" r="1.68" fill="#ff7f00"/>
<circle cx="120.7" cy="226.5" r="1.68" fill="#ff7f00"/>
<circle cx="123.8" cy="226.5" r="1.68" fill="#ff7f00"/>
<circle cx="126.4" cy="224.9" r="1.68" fill="#ff7f00"/>
<circle cx="130.8" cy="223.9" r="1.68" fill="#ff7f00"/>
<circle cx="133.3" cy="222.1" r="1.68" fill="#ff7f00"/>
<circle cx="135.8" cy="221.1" r="1.68" fill="#ff7f00"/>
<circle cx="139.6" cy="219.6" r="1.68" fill="#ff7f00"/>
<circle cx="142.7" cy="218.4" r="1.68" fill="#ff7f00"/>
<circle cx="146.6" cy="218.2" r="1.68" fill="#ff7f00"/>
<circle cx="149.1" cy="216.4" r="1.68" fill="#ff7f00"/>
<circle cx="152.9" cy="215.6" r="1.68" fill="#ff7f00"/>
<circle cx="156.8" cy="214.4" r="1.68" fill="#ff7f00"/>
<circle cx="159.1" cy="214.2" r="1.68" fill="#ff7f00"/>
<circle cx="162.1" cy="212.5" r="1.68" fill="#ff7f00"/>
<circle cx="165.7" cy="211.9" r="1.68" fill="#ff7f00"/>
<circle cx="169.3" cy="210.7" r="1.68" fill="#ff7f00"/>
<circle cx="172.0" cy="209.6" r="1.68" fill="#ff7f00"/>
<circle cx="176.0" cy="208.3" r="1.68" fill="#ff7f00"/>
<circle cx="179.6" cy="208.0" r="1.68" fill="#ff7f00"/>
<circle cx="181.9" cy="206.2" r="1.68" fill="#ff7f00"/>
<circle cx="185.6" cy="205.1" r="1.68" fill="#ff7f00"/>
<circle cx="188.4" cy="204.3" r="1.68" fill="#ff7f00"/>
<circle cx="192.0" cy="204.0" r="1.68" fill="#ff7f00"/>
<circle cx="195.7" cy="202.2" r="1.68" fill="#ff7f00"/>
<circle cx="198.9" cy="201.9" r="1.68" fill="#ff7f00"/>
<circle cx="202.3" cy="200.5" r="1.68" fill="#ff7f00"/>
<circle cx="205.1" cy="199.4" r="1.68" fill="#ff7f00"/>
<circle cx="209.9" cy="199.7" r="1.68" fill="#ff7f00"/>
<circle cx="211.8" cy="198.7" r="1.68" fill="#ff7f00"/>
<circle cx="73.0" cy="249.1" r="1.68" fill="#cab2d6"/>
<circle cx="74.7" cy="247.3" r="1.68" fill="#cab2d6"/>
<circle cx="78.8" cy="245.1" r="1.68" fill="#cab2d6"/>
<circle cx="82.5" cy="243.0" r="1.68" fill="#cab2d6"/>
<circle cx="86.7" cy="242.6" r="1.68" fill="#cab2d6"/>
<circle cx="89.6" cy="241.6" r="1.68" fill="#cab2d6"/>
<circle cx="93.1" cy="238.5" r="1.68" fill="#cab2d6"/>
<circle cx="95.8" cy="236.7" r="1.68" fill="#cab2d6"/>
<circle cx="99.0" cy="236.5" r="1.68" fill="#cab2d6"/>
<circle cx="104.1" cy="234.1" r="1.68" fill="#cab2d6"/>
<circle cx="106.4" cy="233.3" r="1.68" fill="#cab2d6"/>
<circle cx="111.3" cy="232.4" r="1.68" fill="#cab2d6"/>
<circle cx="113.5" cy="230.7" r="1.68" fill="#cab2d6"/>
<circle cx="118.4" cy="229.2" r="1.68" fill="#cab2d6"/>
<circle cx="121.0" cy="226.7" r="1.68" fill="#cab2d6"/>
<circle cx="125.6" cy="225.6" r="1.68" fill="#cab2d6"/>
<circle cx="128.2" cy="224.6" r="1.68" fill="#cab2d6"/>
<circle cx="131.8" cy="223.8" r="1.68" fill="#cab2d6"/>
<circle cx="135.1" cy="220.8" r="1.68" fill="#cab2d6"/>
<circle cx="139.4" cy="220.6" r="1.68" fill="#cab2d6"/>
<circle cx="143.5" cy="219.5" r="1.68" fill="#cab2d6"/>
<circle cx="147.3" cy="218.7" r="1.68" fill="#cab2d6"/>
<circle cx="150.2" cy="216.6" r="1.68" fill="#cab2d6"/>
<circle cx="153.2" cy="215.0" r="1.68" fill="#cab2d6"/>
<circle cx="157.7" cy="213.3" r="1.68" fill="#cab2d6"/>
<circle cx="161.5" cy="212.3" r="1.68" fill="#cab2d6"/>
<circle cx="164.7" cy="212.7" r="1.68" fill="#cab2d6"/>
<circle cx="167.6" cy="209.6" r="1.68" fill="#cab2d6"/>
<circle cx="172.0" cy="208.7" r="1.68" fill="#cab2d6"/>
<circle cx="176.3" cy="207.3" r="1.68" fill="#cab2d6"/>
<circle cx="180.2" cy="207.9" r="1.68" fill="#cab2d6"/>
<circle cx="183.8" cy="205.9" r="1.68" fill="#cab2d6"/>
<circle cx="186.4" cy="205.3" r="1.68" fill="#cab2d6"/>
<circle cx="190.6" cy="203.7" r="1.68" fill="#cab2d6"/>
<circle cx="193.9" cy="202.6" r="1.68" fill="#cab2d6"/>
<circle cx="198.3" cy="202.3" r="1.68" fill="#cab2d6"/>
<circle cx="202.5" cy="200.0" r="1.68" fill="#cab2d6"/>
<circle cx="205.0" cy="199.7" r="1.68" fill="#cab2d6"/>
<circle cx="209.3" cy="198.8" r="1.68" fill="#cab2d6"/>
<circle cx="212.4" cy="197.4" r="1.68" fill="#cab2d6"/>
<circle cx="216.4" cy="197.4" r="1.68" fill="#cab2d6"/>
<circle cx="221.4" cy="197.5" r="1.68" fill="#cab2d6"/>
<circle cx="225.0" cy="196.8" r="1.68" fill="#cab2d6"/>
<circle cx="229.0" cy="195.3" r="1.68" fill="#cab2d6"/>
<circle cx="232.4" cy="193.4" r="1.68" fill="#cab2d6"/>
<path d="M68.9 248.7L72.0 251.8M68.9 251.8L72.0 248.7" stroke="#6a3d9a" stroke-width="0.9"/>
<path d="M71.7 246.4L74.8 249.5M71.7 249.5L74.8 246.4" stroke="#6a3d9a" stroke-width="0.9"/>
<path d="M77.0 243.9L80.1 247.0M77.0 247.0L80.1 243.9" stroke="#6a3d9a" stroke-width="0.9"/>
<path d="M80.0 241.2L83.1 244.4M80.0 244.4L83.1 241.2" stroke="#6a3d9a" stroke-width="0.9"/>
<path d="M83.0 240.4L86.1 243.5M83.0 243.5L86.1 240.4" stroke="#6a3d9a" stroke-width="0.9"/>
<path d="M86.0 236.5L89.1 239.6M86.0 239.6L89.1 236.5" stroke="#6a3d9a" stroke-width="0.9"/>
<path d="M91.5 235.5L94.7 238.6M91.5 238.6L94.7 235.5" stroke="#6a3d9a" stroke-width="0.9"/>
<path d="M94.3 234.6L97.4 237.8M94.3 237.8L97.4 234.6" stroke="#6a3d9a" stroke-width="0.9"/>
<path d="M99.1 233.1L102.2 236.3M99.1 236.3L102.2 233.1" stroke="#6a3d9a" stroke-width="0.9"/>
<path d="M103.4 231.7L106.5 234.8M103.4 234.8L106.5 231.7" stroke="#6a3d9a" stroke-width="0.9"/>
<path d="M107.9 230.1L111.0 233.2M107.9 233.2L111.0 230.1" stroke="#6a3d9a" stroke-width="0.9"/>
<path d="M110.9 228.2L114.0 231.3M110.9 231.3L114.0 228.2" stroke="#6a3d9a" stroke-width="0.9"/>
<path d="M116.9 227.6L120.0 230.7M116.9 230.7L120.0 227.6" stroke="#6a3d9a" stroke-width="0.9"/>
<path d="M119.1 226.9L122.2 230.0M119.1 230.0L122.2 226.9" stroke="#6a3d9a" stroke-width="0.9"/>
<path d="M123.5 223.6L126.7 226.7M123.5 226.7L126.7 223.6" stroke="#6a3d9a" stroke-width="0.9"/>
<path d="M128.3 222.5L131.4 225.6M128.3 225.6L131.4 222.5" stroke="#6a3d9a" stroke-width="0.9"/>
<path d="M132.3 221.7L135.4 224.9M132.3 224.9L135.4 221.7" stroke="#6a3d9a" stroke-width="0.9"/>
<path d="M135.8 220.3L138.9 223.5M135.8 223.5L138.9 220.3" stroke="#6a3d9a" stroke-width="0.9"/>
<path d="M139.6 218.6L142.7 221.7M139.6 221.7L142.7 218.6" stroke="#6a3d9a" stroke-width="0.9"/>
<path d="M144.7 215.8L147.8 218.9M144.7 218.9L147.8 215.8" stroke="#6a3d9a" stroke-width="0.9"/>
<path d="M148.2 214.0L151.4 217.1M148.2 217.1L151.4 214.0" stroke="#6a3d9a" stroke-width="0.9"/>
<path d="M152.3 214.1L155.4 217.3M152.3 217.3L155.4 214.1" stroke="#6a3d9a" stroke-width="0.9"/>
<path d="M156.5 212.0L159.7 215.2M156.5 215.2L159.7 212.0" stroke="#6a3d9a" stroke-width="0.9"/>
<path d="M161.0 208.8L164.2 212.0M161.0 212.0L164.2 208.8" stroke="#6a3d9a" stroke-width="0.9"/>
<path d="M165.5 208.5L168.7 211.6M165.5 211.6L168.7 208.5" stroke="#6a3d9a" stroke-width="0.9"/>
<path d="M167.2 206.6L170.4 209.8M167.2 209.8L170.4 206.6" stroke="#6a3d9a" stroke-width="0.9"/>
<path d="M171.7 202.9L174.9 206.1M171.7 206.1L174.9 202.9" stroke="#6a3d9a" stroke-width="0.9"/>
<path d="M176.9 201.8L180.0 204.9M176.9 204.9L180.0 201.8" stroke="#6a3d9a" stroke-width="0.9"/>
<path d="M180.3 198.7L183.4 201.8M180.3 201.8L183.4 198.7" stroke="#6a3d9a" stroke-width="0.9"/>
<path d="M184.1 196.4L187.2 199.5M184.1 199.5L187.2 196.4" stroke="#6a3d9a" stroke-width="0.9"/>
<path d="M183.4 196.3L186.5 199.4M183.4 199.4L186.5 196.3" stroke="#6a3d9a" stroke-width="1.0"/>
<path d="M182.5 197.3L185.7 200.4M182.5 200.4L185.7 197.3" stroke="#6a3d9a" stroke-width="1.0"/>
<path d="M183.9 195.6L187.0 198.7M183.9 198.7L187.0 195.6" stroke="#6a3d9a" stroke-width="1.0"/>
<path d="M186.7 196.1L189.9 199.2M186.7 199.2L189.9 196.1" stroke="#6a3d9a" stroke-width="1.0"/>
<path d="M188.0 196.9L191.1 200.1M188.0 200.1L191.1 196.9" stroke="#6a3d9a" stroke-width="1.0"/>
<path d="M188.2 196.5L191.4 199.6M188.2 199.6L191.4 196.5" stroke="#6a3d9a" stroke-width="1.0"/>
<path d="M188.8 197.9L191.9 201.0M188.8 201.0L191.9 197.9" stroke="#6a3d9a" stroke-width="1.0"/>
<path d="M185.2 197.1L188.3 200.2M185.2 200.2L188.3 197.1" stroke="#6a3d9a" stroke-width="1.0"/>
<path d="M186.4 197.0L189.5 200.1M186.4 200.1L189.5 197.0" stroke="#6a3d9a" stroke-width="1.0"/>
<path d="M188.5 197.2L191.6 200.3M188.5 200.3L191.6 197.2" stroke="#6a3d9a" stroke-width="1.0"/>
<path d="M185.9 194.7L189.0 197.8M185.9 197.8L189.0 194.7" stroke="#6a3d9a" stroke-width="1.0"/>
<path d="M189.4 197.5L192.5 200.6M189.4 200.6L192.5 197.5" stroke="#6a3d9a" stroke-width="1.0"/>
<path d="M189.6 192.6L192.7 195.8M189.6 195.8L192.7 192.6" stroke="#6a3d9a" stroke-width="1.0"/>
<path d="M189.3 192.7L192.4 195.9M189.3 195.9L192.4 192.7" stroke="#6a3d9a" stroke-width="1.0"/>
<path d="M189.3 196.2L192.5 199.4M189.3 199.4L192.5 196.2" stroke="#6a3d9a" stroke-width="1.0"/>
<path d="M187.4 196.7L190.5 199.9M187.4 199.9L190.5 196.7" stroke="#6a3d9a" stroke-width="1.0"/>
<path d="M190.6 193.1L193.7 196.2M190.6 196.2L193.7 193.1" stroke="#6a3d9a" stroke-width="1.0"/>
<path d="M188.4 193.9L191.5 197.0M188.4 197.0L191.5 193.9" stroke="#6a3d9a" stroke-width="1.0"/>
<path d="M192.1 194.4L195.2 197.6M192.1 197.6L195.2 194.4" stroke="#6a3d9a" stroke-width="1.0"/>
<path d="M188.6 191.4L191.7 194.5M188.6 194.5L191.7 191.4" stroke="#6a3d9a" stroke-width="1.0"/>
<path d="M188.9 195.3L192.0 198.4M188.9 198.4L192.0 195.3" stroke="#6a3d9a" stroke-width="1.0"/>
<path d="M189.6 193.8L192.7 197.0M189.6 197.0L192.7 193.8" stroke="#6a3d9a" stroke-width="1.0"/>
<path d="M190.5 194.3L193.6 197.5M190.5 197.5L193.6 194.3" stroke="#6a3d9a" stroke-width="1.0"/>
<path d="M191.2 191.4L194.4 194.5M191.2 194.5L194.4 191.4" stroke="#6a3d9a" stroke-width="1.0"/>
<path d="M194.1 193.3L197.3 196.4M194.1 196.4L197.3 193.3" stroke="#6a3d9a" stroke-width="1.0"/>
<path d="M193.5 194.5L196.6 197.6M193.5 197.6L196.6 194.5" stroke="#6a3d9a" stroke-width="1.0"/>
<path d="M195.1 190.2L198.3 193.4M195.1 193.4L198.3 190.2" stroke="#6a3d9a" stroke-width="1.0"/>
<path d="M192.3 190.8L195.4 193.9M192.3 193.9L195.4 190.8" stroke="#6a3d9a" stroke-width="1.0"/>
<path d="M193.4 194.4L196.6 197.5M193.4 197.5L196.6 194.4" stroke="#6a3d9a" stroke-width="1.0"/>
<path d="M195.3 189.9L198.4 193.0M195.3 193.0L198.4 189.9" stroke="#6a3d9a" stroke-width="1.0"/>
<path d="M192.4 193.8L195.5 196.9M192.4 196.9L195.5 193.8" stroke="#6a3d9a" stroke-width="1.0"/>
<path d="M195.3 191.4L198.4 194.5M195.3 194.5L198.4 191.4" stroke="#6a3d9a" stroke-width="1.0"/>
<path d="M194.5 190.0L197.7 193.2M194.5 193.2L197.7 190.0" stroke="#6a3d9a" stroke-width="1.0"/>
<path d="M196.8 191.1L199.9 194.2M196.8 194.2L199.9 191.1" stroke="#6a3d9a" stroke-width="1.0"/>
<path d="M197.2 192.1L200.4 195.2M197.2 195.2L200.4 192.1" stroke="#6a3d9a" stroke-width="1.0"/>
<path d="M193.4 190.5L196.5 193.6M193.4 193.6L196.5 190.5" stroke="#6a3d9a" stroke-width="1.0"/>
<path d="M194.4 193.2L197.6 196.4M194.4 196.4L197.6 193.2" stroke="#6a3d9a" stroke-width="1.0"/>
<path d="M196.7 188.7L199.8 191.8M196.7 191.8L199.8 188.7" stroke="#6a3d9a" stroke-width="1.0"/>
<path d="M194.8 190.2L198.0 193.3M194.8 193.3L198.0 190.2" stroke="#6a3d9a" stroke-width="1.0"/>
<path d="M196.7 191.1L199.8 194.3M196.7 194.3L199.8 191.1" stroke="#6a3d9a" stroke-width="1.0"/>
<path d="M196.6 189.8L199.7 192.9M196.6 192.9L199.7 189.8" stroke="#6a3d9a" stroke-width="1.0"/>
<path d="M194.9 190.8L198.0 194.0M194.9 194.0L198.0 190.8" stroke="#6a3d9a" stroke-width="1.0"/>
<path d="M196.9 187.8L200.1 190.9M196.9 190.9L200.1 187.8" stroke="#6a3d9a" stroke-width="1.0"/>
<path d="M197.9 192.6L201.0 195.8M197.9 195.8L201.0 192.6" stroke="#6a3d9a" stroke-width="1.0"/>
<path d="M196.1 188.1L199.2 191.2M196.1 191.2L199.2 188.1" stroke="#6a3d9a" stroke-width="1.0"/>
<path d="M199.6 188.6L202.8 191.8M199.6 191.8L202.8 188.6" stroke="#6a3d9a" stroke-width="1.0"/>
<path d="M197.9 189.7L201.0 192.8M197.9 192.8L201.0 189.7" stroke="#6a3d9a" stroke-width="1.0"/>
<path d="M198.1 189.9L201.3 193.0M198.1 193.0L201.3 189.9" stroke="#6a3d9a" stroke-width="1.0"/>
<path d="M199.9 191.8L203.0 194.9M199.9 194.9L203.0 191.8" stroke="#6a3d9a" stroke-width="1.0"/>
<path d="M202.6 186.8L205.7 190.0M202.6 190.0L205.7 186.8" stroke="#6a3d9a" stroke-width="1.0"/>
<path d="M200.7 190.5L203.8 193.7M200.7 193.7L203.8 190.5" stroke="#6a3d9a" stroke-width="1.0"/>
<path d="M202.6 190.4L205.7 193.6M202.6 193.6L205.7 190.4" stroke="#6a3d9a" stroke-width="1.0"/>
<path d="M201.7 189.6L204.8 192.7M201.7 192.7L204.8 189.6" stroke="#6a3d9a" stroke-width="1.0"/>
<path d="M200.6 187.6L203.7 190.7M200.6 190.7L203.7 187.6" stroke="#6a3d9a" stroke-width="1.0"/>
<path d="M203.2 190.5L206.3 193.7M203.2 193.7L206.3 190.5" stroke="#6a3d9a" stroke-width="1.0"/>
<path d="M204.2 189.4L207.4 192.5M204.2 192.5L207.4 189.4" stroke="#6a3d9a" stroke-width="1.0"/>
<path d="M201.3 189.7L204.4 192.8M201.3 192.8L204.4 189.7" stroke="#6a3d9a" stroke-width="1.0"/>
<path d="M203.9 188.2L207.0 191.4M203.9 191.4L207.0 188.2" stroke="#6a3d9a" stroke-width="1.0"/>
<path d="M203.6 187.3L206.8 190.4M203.6 190.4L206.8 187.3" stroke="#6a3d9a" stroke-width="1.0"/>
<path d="M203.5 187.4L206.7 190.6M203.5 190.6L206.7 187.4" stroke="#6a3d9a" stroke-width="1.0"/>
<path d="M201.3 186.9L204.4 190.1M201.3 190.1L204.4 186.9" stroke="#6a3d9a" stroke-width="1.0"/>
<path d="M203.0 190.2L206.1 193.3M203.0 193.3L206.1 190.2" stroke="#6a3d9a" stroke-width="1.0"/>
<path d="M204.1 186.8L207.3 190.0M204.1 190.0L207.3 186.8" stroke="#6a3d9a" stroke-width="1.0"/>
<path d="M203.2 186.0L206.4 189.2M203.2 189.2L206.4 186.0" stroke="#6a3d9a" stroke-width="1.0"/>
<path d="M204.1 185.4L207.2 188.6M204.1 188.6L207.2 185.4" stroke="#6a3d9a" stroke-width="1.0"/>
<path d="M202.7 189.2L205.8 192.3M202.7 192.3L205.8 189.2" stroke="#6a3d9a" stroke-width="1.0"/>
<path d="M205.3 186.9L208.5 190.1M205.3 190.1L208.5 186.9" stroke="#6a3d9a" stroke-width="1.0"/>
<path d="M206.3 186.1L209.4 189.2M206.3 189.2L209.4 186.1" stroke="#6a3d9a" stroke-width="1.0"/>
<path d="M204.5 184.8L207.7 188.0M204.5 188.0L207.7 184.8" stroke="#6a3d9a" stroke-width="1.0"/>
<path d="M205.6 186.0L208.7 189.1M205.6 189.1L208.7 186.0" stroke="#6a3d9a" stroke-width="1.0"/>
<path d="M208.1 187.2L211.3 190.3M208.1 190.3L211.3 187.2" stroke="#6a3d9a" stroke-width="1.0"/>
<path d="M209.6 186.0L212.7 189.2M209.6 189.2L212.7 186.0" stroke="#6a3d9a" stroke-width="1.0"/>
<path d="M209.8 187.2L213.0 190.4M209.8 190.4L213.0 187.2" stroke="#6a3d9a" stroke-width="1.0"/>
<path d="M205.8 185.1L208.9 188.2M205.8 188.2L208.9 185.1" stroke="#6a3d9a" stroke-width="1.0"/>
<path d="M208.7 189.2L211.9 192.3M208.7 192.3L211.9 189.2" stroke="#6a3d9a" stroke-width="1.0"/>
<path d="M207.9 188.0L211.1 191.2M207.9 191.2L211.1 188.0" stroke="#6a3d9a" stroke-width="1.0"/>
<path d="M208.6 188.4L211.8 191.6M208.6 191.6L211.8 188.4" stroke="#6a3d9a" stroke-width="1.0"/>
<path d="M207.1 186.4L210.2 189.5M207.1 189.5L210.2 186.4" stroke="#6a3d9a" stroke-width="1.0"/>
<path d="M211.8 185.2L214.9 188.4M211.8 188.4L214.9 185.2" stroke="#6a3d9a" stroke-width="1.0"/>
<path d="M208.8 183.9L211.9 187.0M208.8 187.0L211.9 183.9" stroke="#6a3d9a" stroke-width="1.0"/>
<path d="M202.5 183.5L205.5 186.5M202.5 186.5L205.5 183.5" stroke="#6a3d9a" stroke-width="0.9"/>
<path d="M206.5 182.5L209.5 185.5M206.5 185.5L209.5 182.5" stroke="#6a3d9a" stroke-width="0.9"/>
<path d="M196.5 185.0L199.5 188.0M196.5 188.0L199.5 185.0" stroke="#6a3d9a" stroke-width="0.9"/>
<path d="M165.6 201.0L168.8 204.2M165.6 204.2L168.8 201.0" stroke="#6a3d9a" stroke-width="0.9"/>
<path d="M154.2 206.2L157.4 209.4M154.2 209.4L157.4 206.2" stroke="#6a3d9a" stroke-width="0.9"/>
<path d="M166.4 194.4L169.6 197.6M166.4 197.6L169.6 194.4" stroke="#6a3d9a" stroke-width="0.9"/>
<path d="M170.4 199.4L173.6 202.6M170.4 202.6L173.6 199.4" stroke="#6a3d9a" stroke-width="0.9"/>
<circle cx="67.2" cy="250.4" r="1.79" fill="#ffff99"/>
<circle cx="70.9" cy="248.5" r="1.79" fill="#ffff99"/>
<circle cx="72.5" cy="246.7" r="1.79" fill="#ffff99"/>
<circle cx="75.4" cy="246.5" r="1.79" fill="#ffff99"/>
<circle cx="77.9" cy="243.2" r="1.79" fill="#ffff99"/>
<circle cx="80.5" cy="243.4" r="1.79" fill="#ffff99"/>
<circle cx="82.6" cy="239.5" r="1.79" fill="#ffff99"/>
<circle cx="85.5" cy="239.7" r="1.79" fill="#ffff99"/>
<circle cx="87.0" cy="236.5" r="1.79" fill="#ffff99"/>
<circle cx="89.3" cy="236.3" r="1.79" fill="#ffff99"/>
<circle cx="93.7" cy="235.4" r="1.79" fill="#ffff99"/>
<circle cx="96.6" cy="233.2" r="1.79" fill="#ffff99"/>
<circle cx="97.9" cy="233.3" r="1.79" fill="#ffff99"/>
<circle cx="101.4" cy="231.4" r="1.79" fill="#ffff99"/>
<circle cx="104.2" cy="230.1" r="1.79" fill="#ffff99"/>
<circle cx="105.4" cy="229.2" r="1.79" fill="#ffff99"/>
<circle cx="108.2" cy="228.6" r="1.79" fill="#ffff99"/>
<circle cx="111.6" cy="227.2" r="1.79" fill="#ffff99"/>
<circle cx="115.0" cy="225.5" r="1.79" fill="#ffff99"/>
<circle cx="117.4" cy="223.8" r="1.79" fill="#ffff99"/>
<circle cx="121.3" cy="224.1" r="1.79" fill="#ffff99"/>
<circle cx="124.2" cy="221.9" r="1.79" fill="#ffff99"/>
<circle cx="126.2" cy="222.6" r="1.79" fill="#ffff99"/>
<circle cx="128.3" cy="220.1" r="1.79" fill="#ffff99"/>
<circle cx="130.7" cy="219.3" r="1.79" fill="#ffff99"/>
<circle cx="135.0" cy="218.2" r="1.79" fill="#ffff99"/>
<circle cx="137.9" cy="218.1" r="1.79" fill="#ffff99"/>
<circle cx="140.0" cy="217.6" r="1.79" fill="#ffff99"/>
<circle cx="142.9" cy="216.8" r="1.79" fill="#ffff99"/>
<circle cx="145.8" cy="215.1" r="1.79" fill="#ffff99"/>
<circle cx="148.9" cy="214.0" r="1.79" fill="#ffff99"/>
<circle cx="151.7" cy="214.3" r="1.79" fill="#ffff99"/>
<circle cx="154.7" cy="212.5" r="1.79" fill="#ffff99"/>
<circle cx="157.6" cy="213.3" r="1.79" fill="#ffff99"/>
<circle cx="159.7" cy="210.9" r="1.79" fill="#ffff99"/>
<circle cx="162.7" cy="211.7" r="1.79" fill="#ffff99"/>
<circle cx="164.6" cy="208.7" r="1.79" fill="#ffff99"/>
<circle cx="168.3" cy="209.5" r="1.79" fill="#ffff99"/>
<circle cx="171.9" cy="208.0" r="1.79" fill="#ffff99"/>
<circle cx="175.3" cy="206.9" r="1.79" fill="#ffff99"/>
<circle cx="177.6" cy="205.8" r="1.79" fill="#ffff99"/>
<circle cx="178.7" cy="205.2" r="1.79" fill="#ffff99"/>
<circle cx="181.7" cy="205.5" r="1.79" fill="#ffff99"/>
<circle cx="185.8" cy="204.3" r="1.79" fill="#ffff99"/>
<circle cx="189.6" cy="204.2" r="1.79" fill="#ffff99"/>
<circle cx="190.7" cy="203.3" r="1.79" fill="#ffff99"/>
<circle cx="195.0" cy="204.6" r="1.79" fill="#ffff99"/>
<circle cx="196.5" cy="201.9" r="1.79" fill="#ffff99"/>
<circle cx="200.9" cy="201.9" r="1.79" fill="#ffff99"/>
<circle cx="204.4" cy="202.1" r="1.79" fill="#ffff99"/>
<circle cx="206.4" cy="201.2" r="1.79" fill="#ffff99"/>
<circle cx="209.8" cy="201.0" r="1.79" fill="#ffff99"/>
<circle cx="211.5" cy="201.6" r="1.79" fill="#ffff99"/>
<circle cx="213.9" cy="200.7" r="1.79" fill="#ffff99"/>
<circle cx="216.8" cy="199.9" r="1.79" fill="#ffff99"/>
<path d="M67.3 253.0L75.2 246.0L85.7 241.4L96.3 238.1L112.0 234.5L130.2 231.4" fill="none" stroke="#b15928" stroke-width="2.8" stroke-linecap="round" stroke-linejoin="round"/>
<path d="M66.8 250.0L67.5 253.0" fill="none" stroke="#b15928" stroke-width="3.6" stroke-linecap="round" stroke-linejoin="round"/>
<circle cx="95.0" cy="255.9" r="1.57" fill="#b15928"/>
<circle cx="130.2" cy="231.4" r="2.3" fill="#b15928" stroke="#333" stroke-width="0.7"/>
<circle cx="165.2" cy="208.6" r="2.3" fill="#1f78b4" stroke="#333" stroke-width="0.7"/>
<circle cx="221.3" cy="172.3" r="2.2" fill="#33a02c" stroke="#333" stroke-width="0.7"/>
<path d="M219.7 170.7L222.9 173.9M219.7 173.9L222.9 170.7" stroke="#1a6a1a" stroke-width="0.9"/>
<circle cx="246.5" cy="178.4" r="2.2" fill="none" stroke="#333" stroke-width="0.7"/>
<circle cx="200.2" cy="192.2" r="2.2" fill="none" stroke="#333" stroke-width="0.7"/>
<circle cx="177.7" cy="192.6" r="2.2" fill="none" stroke="#333" stroke-width="0.7"/>
<path d="M216.9 194.0L220.5 194.0M218.7 192.2L218.7 195.8" stroke="#fb9a99" stroke-width="1.0"/>
<path d="M227.1 193.3L230.7 193.3M228.9 191.5L228.9 195.1" stroke="#fb9a99" stroke-width="1.0"/>
<path d="M216.5 193.9L220.1 193.9M218.3 192.1L218.3 195.7" stroke="#fb9a99" stroke-width="1.0"/>
<path d="M227.4 191.7L231.0 191.7M229.2 190.0L229.2 193.5" stroke="#fb9a99" stroke-width="1.0"/>
<path d="M222.8 193.9L226.4 193.9M224.6 192.1L224.6 195.7" stroke="#fb9a99" stroke-width="1.0"/>
<path d="M221.9 194.3L225.4 194.3M223.6 192.5L223.6 196.1" stroke="#fb9a99" stroke-width="1.0"/>
<path d="M222.6 193.8L226.2 193.8M224.4 192.0L224.4 195.5" stroke="#fb9a99" stroke-width="1.0"/>
<path d="M222.5 190.3L226.1 190.3M224.3 188.5L224.3 192.1" stroke="#fb9a99" stroke-width="1.0"/>
<path d="M220.1 195.2L223.7 195.2M221.9 193.4L221.9 197.0" stroke="#fb9a99" stroke-width="1.0"/>
<path d="M223.3 194.6L226.9 194.6M225.1 192.8L225.1 196.4" stroke="#fb9a99" stroke-width="1.0"/>
<path d="M225.8 194.7L229.4 194.7M227.6 192.9L227.6 196.5" stroke="#fb9a99" stroke-width="1.0"/>
<path d="M224.7 191.4L228.3 191.4M226.5 189.6L226.5 193.2" stroke="#fb9a99" stroke-width="1.0"/>
<path d="M222.3 190.0L225.9 190.0M224.1 188.2L224.1 191.8" stroke="#fb9a99" stroke-width="1.0"/>
<path d="M221.4 194.1L225.0 194.1M223.2 192.3L223.2 195.9" stroke="#fb9a99" stroke-width="1.0"/>
<path d="M215.6 192.7L219.2 192.7M217.4 190.9L217.4 194.5" stroke="#fb9a99" stroke-width="1.0"/>
<path d="M225.3 194.5L228.8 194.5M227.1 192.7L227.1 196.3" stroke="#fb9a99" stroke-width="1.0"/>
<path d="M218.4 191.4L221.9 191.4M220.1 189.6L220.1 193.2" stroke="#fb9a99" stroke-width="1.0"/>
<path d="M216.4 191.2L220.0 191.2M218.2 189.5L218.2 193.0" stroke="#fb9a99" stroke-width="1.0"/>
<path d="M223.9 195.0L227.4 195.0M225.6 193.3L225.6 196.8" stroke="#fb9a99" stroke-width="1.0"/>
<path d="M218.3 194.4L221.8 194.4M220.0 192.6L220.0 196.2" stroke="#fb9a99" stroke-width="1.0"/>
<path d="M224.2 191.6L227.7 191.6M226.0 189.8L226.0 193.4" stroke="#fb9a99" stroke-width="1.0"/>
<path d="M226.8 190.4L230.4 190.4M228.6 188.6L228.6 192.2" stroke="#fb9a99" stroke-width="1.0"/>
<path d="M221.9 192.9L225.5 192.9M223.7 191.1L223.7 194.7" stroke="#fb9a99" stroke-width="1.0"/>
<path d="M227.5 194.3L231.1 194.3M229.3 192.5L229.3 196.1" stroke="#fb9a99" stroke-width="1.0"/>
<path d="M228.9 192.7L232.5 192.7M230.7 190.9L230.7 194.5" stroke="#fb9a99" stroke-width="1.0"/>
<path d="M225.7 194.5L229.3 194.5M227.5 192.7L227.5 196.2" stroke="#fb9a99" stroke-width="1.0"/>
<path d="M224.6 193.2L228.1 193.2M226.4 191.4L226.4 195.0" stroke="#fb9a99" stroke-width="1.0"/>
<path d="M221.3 191.7L224.9 191.7M223.1 189.9L223.1 193.5" stroke="#fb9a99" stroke-width="1.0"/>
<path d="M218.6 194.8L222.2 194.8M220.4 193.0L220.4 196.6" stroke="#fb9a99" stroke-width="1.0"/>
<path d="M220.8 189.9L224.4 189.9M222.6 188.1L222.6 191.7" stroke="#fb9a99" stroke-width="1.0"/>
<circle cx="225.5" cy="191.4" r="2.2" fill="#fb9a99" stroke="#333" stroke-width="0.7"/>
<path d="M223.8 191.4L227.2 191.4M225.5 189.7L225.5 193.1" stroke="#e07070" stroke-width="0.8"/>
<path d="M224.8 193.5L229.6 191.1L229.6 195.9Z" fill="#e31a1c"/>
<circle cx="231.8" cy="194.3" r="2.3" fill="#cab2d6" stroke="#333" stroke-width="0.7"/>
<circle cx="237.6" cy="194.3" r="2.3" fill="#b2df8a" stroke="#333" stroke-width="0.7"/>
<circle cx="212.5" cy="198.6" r="2.3" fill="#ff7f00" stroke="#333" stroke-width="0.7"/>
<circle cx="217.6" cy="199.6" r="2.3" fill="#ffff99" stroke="#333" stroke-width="0.7"/>
</g>
<line x1="51.4" y1="255.6" x2="250.2" y2="178.7" stroke="#222" stroke-width="0.85"/>
<text transform="translate(172.6 236.8) rotate(-26.5)" font-size="8.3" fill="#111" textLength="66" lengthAdjust="spacingAndGlyphs">y = 0.02x + 0.019</text>
<g clip-path="url(#cld)">
<path d="M292.3 198.4L295.3 201.4M292.3 201.4L295.3 198.4" stroke="#a6cee3" stroke-width="0.65"/>
<path d="M284.4 199.7L287.4 202.7M284.4 202.7L287.4 199.7" stroke="#a6cee3" stroke-width="0.65"/>
<path d="M305.5 208.3L308.5 211.3M305.5 211.3L308.5 208.3" stroke="#a6cee3" stroke-width="0.65"/>
<path d="M312.1 192.5L315.1 195.5M312.1 195.5L315.1 192.5" stroke="#a6cee3" stroke-width="0.65"/>
<path d="M314.0 199.7L317.0 202.7M314.0 202.7L317.0 199.7" stroke="#a6cee3" stroke-width="0.65"/>
<path d="M314.7 199.7L317.7 202.7M314.7 202.7L317.7 199.7" stroke="#a6cee3" stroke-width="0.65"/>
<path d="M322.2 196.1L325.2 199.1M322.2 199.1L325.2 196.1" stroke="#a6cee3" stroke-width="0.65"/>
<path d="M292.5 197.9L295.5 200.9M292.5 200.9L295.5 197.9" stroke="#a6cee3" stroke-width="0.65"/>
<path d="M312.5 192.1L315.5 195.1M312.5 195.1L315.5 192.1" stroke="#a6cee3" stroke-width="0.65"/>
<path d="M318.5 186.5L321.5 189.5M318.5 189.5L321.5 186.5" stroke="#a6cee3" stroke-width="0.65"/>
<path d="M327.1 187.9L330.1 190.9M327.1 190.9L330.1 187.9" stroke="#a6cee3" stroke-width="0.65"/>
<path d="M322.5 195.9L325.5 198.9M322.5 198.9L325.5 195.9" stroke="#a6cee3" stroke-width="0.65"/>
<path d="M332.9 179.9L335.9 182.9M332.9 182.9L335.9 179.9" stroke="#a6cee3" stroke-width="0.65"/>
<path d="M344.5 172.5L347.5 175.5M344.5 175.5L347.5 172.5" stroke="#a6cee3" stroke-width="0.65"/>
<path d="M346.1 173.5L349.1 176.5M346.1 176.5L349.1 173.5" stroke="#a6cee3" stroke-width="0.65"/>
<path d="M353.1 169.9L356.1 172.9M353.1 172.9L356.1 169.9" stroke="#a6cee3" stroke-width="0.65"/>
<path d="M360.5 166.5L363.5 169.5M360.5 169.5L363.5 166.5" stroke="#a6cee3" stroke-width="0.65"/>
<path d="M364.9 168.1L367.9 171.1M364.9 171.1L367.9 168.1" stroke="#a6cee3" stroke-width="0.65"/>
<path d="M369.5 167.1L372.5 170.1M369.5 170.1L372.5 167.1" stroke="#a6cee3" stroke-width="0.65"/>
<path d="M378.1 153.8L381.1 156.8M378.1 156.8L381.1 153.8" stroke="#a6cee3" stroke-width="0.65"/>
<path d="M378.9 157.5L381.9 160.5M378.9 160.5L381.9 157.5" stroke="#a6cee3" stroke-width="0.65"/>
<path d="M374.5 163.0L377.5 166.0M374.5 166.0L377.5 163.0" stroke="#a6cee3" stroke-width="0.65"/>
<path d="M365.3 168.5L368.3 171.5M365.3 171.5L368.3 168.5" stroke="#a6cee3" stroke-width="0.65"/>
<path d="M370.5 168.5L373.5 171.5M370.5 171.5L373.5 168.5" stroke="#a6cee3" stroke-width="0.65"/>
<path d="M376.3 168.5L379.3 171.5M376.3 171.5L379.3 168.5" stroke="#a6cee3" stroke-width="0.65"/>
<path d="M376.3 178.3L379.3 181.3M376.3 181.3L379.3 178.3" stroke="#a6cee3" stroke-width="0.65"/>
<path d="M300.5 204.5L303.5 207.5M300.5 207.5L303.5 204.5" stroke="#a6cee3" stroke-width="0.65"/>
<path d="M303.5 201.5L306.5 204.5M303.5 204.5L306.5 201.5" stroke="#a6cee3" stroke-width="0.65"/>
<path d="M307.5 203.5L310.5 206.5M307.5 206.5L310.5 203.5" stroke="#a6cee3" stroke-width="0.65"/>
<path d="M298.5 202.5L301.5 205.5M298.5 205.5L301.5 202.5" stroke="#a6cee3" stroke-width="0.65"/>
<path d="M296.6 205.0L299.3 207.7M296.6 207.7L299.3 205.0" stroke="#a6cee3" stroke-width="0.65"/>
<path d="M295.6 210.9L298.3 213.6M295.6 213.6L298.3 210.9" stroke="#a6cee3" stroke-width="0.65"/>
<path d="M293.9 204.0L296.5 206.7M293.9 206.7L296.5 204.0" stroke="#a6cee3" stroke-width="0.65"/>
<path d="M289.4 205.1L292.1 207.8M289.4 207.8L292.1 205.1" stroke="#a6cee3" stroke-width="0.65"/>
<path d="M291.4 206.0L294.1 208.7M291.4 208.7L294.1 206.0" stroke="#a6cee3" stroke-width="0.65"/>
<path d="M305.5 206.0L308.2 208.7M305.5 208.7L308.2 206.0" stroke="#a6cee3" stroke-width="0.65"/>
<path d="M290.5 210.7L293.2 213.4M290.5 213.4L293.2 210.7" stroke="#a6cee3" stroke-width="0.65"/>
<path d="M300.2 208.3L302.9 211.0M300.2 211.0L302.9 208.3" stroke="#a6cee3" stroke-width="0.65"/>
<path d="M299.4 208.4L302.1 211.0M299.4 211.0L302.1 208.4" stroke="#a6cee3" stroke-width="0.65"/>
<path d="M298.6 210.0L301.3 212.7M298.6 212.7L301.3 210.0" stroke="#a6cee3" stroke-width="0.65"/>
<path d="M300.3 209.6L303.0 212.3M300.3 212.3L303.0 209.6" stroke="#a6cee3" stroke-width="0.65"/>
<path d="M291.0 205.1L293.7 207.8M291.0 207.8L293.7 205.1" stroke="#a6cee3" stroke-width="0.65"/>
<path d="M290.0 208.8L292.6 211.5M290.0 211.5L292.6 208.8" stroke="#a6cee3" stroke-width="0.65"/>
<path d="M300.3 203.3L303.0 206.0M300.3 206.0L303.0 203.3" stroke="#a6cee3" stroke-width="0.65"/>
<path d="M297.0 211.4L299.7 214.1M297.0 214.1L299.7 211.4" stroke="#a6cee3" stroke-width="0.65"/>
<path d="M301.6 201.4L304.3 204.1M301.6 204.1L304.3 201.4" stroke="#a6cee3" stroke-width="0.65"/>
<path d="M294.0 207.9L296.7 210.6M294.0 210.6L296.7 207.9" stroke="#a6cee3" stroke-width="0.65"/>
<path d="M294.4 206.9L297.1 209.5M294.4 209.5L297.1 206.9" stroke="#a6cee3" stroke-width="0.65"/>
<path d="M302.2 206.4L304.9 209.1M302.2 209.1L304.9 206.4" stroke="#a6cee3" stroke-width="0.65"/>
<path d="M287.8 207.8L290.5 210.5M287.8 210.5L290.5 207.8" stroke="#a6cee3" stroke-width="0.65"/>
<path d="M293.9 205.7L296.6 208.4M293.9 208.4L296.6 205.7" stroke="#a6cee3" stroke-width="0.65"/>
<path d="M291.3 200.3L294.0 203.0M291.3 203.0L294.0 200.3" stroke="#a6cee3" stroke-width="0.65"/>
<path d="M286.8 203.8L289.5 206.5M286.8 206.5L289.5 203.8" stroke="#a6cee3" stroke-width="0.65"/>
<path d="M290.7 199.2L293.3 201.8M290.7 201.8L293.3 199.2" stroke="#a6cee3" stroke-width="0.65"/>
<path d="M301.2 201.2L303.9 203.9M301.2 203.9L303.9 201.2" stroke="#a6cee3" stroke-width="0.65"/>
<path d="M289.7 207.3L292.3 210.0M289.7 210.0L292.3 207.3" stroke="#a6cee3" stroke-width="0.65"/>
<path d="M285.2 208.3L287.9 211.0M285.2 211.0L287.9 208.3" stroke="#a6cee3" stroke-width="0.65"/>
<path d="M289.5 207.8L292.2 210.5M289.5 210.5L292.2 207.8" stroke="#a6cee3" stroke-width="0.65"/>
<path d="M291.1 206.5L293.8 209.2M291.1 209.2L293.8 206.5" stroke="#a6cee3" stroke-width="0.65"/>
<path d="M295.5 205.2L298.1 207.8M295.5 207.8L298.1 205.2" stroke="#a6cee3" stroke-width="0.65"/>
<path d="M286.4 201.2L289.1 203.9M286.4 203.9L289.1 201.2" stroke="#a6cee3" stroke-width="0.65"/>
<path d="M294.4 210.2L297.1 212.9M294.4 212.9L297.1 210.2" stroke="#a6cee3" stroke-width="0.65"/>
<path d="M285.1 212.1L287.8 214.8M285.1 214.8L287.8 212.1" stroke="#a6cee3" stroke-width="0.65"/>
<path d="M286.5 211.9L289.2 214.6M286.5 214.6L289.2 211.9" stroke="#a6cee3" stroke-width="0.65"/>
<path d="M287.6 202.9L290.3 205.6M287.6 205.6L290.3 202.9" stroke="#a6cee3" stroke-width="0.65"/>
<path d="M286.7 208.1L289.4 210.8M286.7 210.8L289.4 208.1" stroke="#a6cee3" stroke-width="0.65"/>
<path d="M285.6 204.6L288.3 207.3M285.6 207.3L288.3 204.6" stroke="#a6cee3" stroke-width="0.65"/>
<path d="M284.8 204.2L287.5 206.8M284.8 206.8L287.5 204.2" stroke="#a6cee3" stroke-width="0.65"/>
<path d="M285.0 216.8L287.7 219.5M285.0 219.5L287.7 216.8" stroke="#a6cee3" stroke-width="0.65"/>
<path d="M288.7 209.2L291.4 211.9M288.7 211.9L291.4 209.2" stroke="#a6cee3" stroke-width="0.65"/>
<path d="M287.5 204.3L290.1 207.0M287.5 207.0L290.1 204.3" stroke="#a6cee3" stroke-width="0.65"/>
<path d="M283.7 204.5L286.3 207.2M283.7 207.2L286.3 204.5" stroke="#a6cee3" stroke-width="0.65"/>
<path d="M286.4 215.9L289.1 218.6M286.4 218.6L289.1 215.9" stroke="#a6cee3" stroke-width="0.65"/>
<path d="M286.1 203.9L288.8 206.6M286.1 206.6L288.8 203.9" stroke="#a6cee3" stroke-width="0.65"/>
<path d="M285.7 204.0L288.4 206.7M285.7 206.7L288.4 204.0" stroke="#a6cee3" stroke-width="0.65"/>
<path d="M283.8 208.1L286.5 210.8M283.8 210.8L286.5 208.1" stroke="#a6cee3" stroke-width="0.65"/>
<path d="M285.4 204.8L288.1 207.5M285.4 207.5L288.1 204.8" stroke="#a6cee3" stroke-width="0.65"/>
<path d="M284.6 204.6L287.3 207.3M284.6 207.3L287.3 204.6" stroke="#a6cee3" stroke-width="0.65"/>
<path d="M286.5 215.7L289.2 218.4M286.5 218.4L289.2 215.7" stroke="#a6cee3" stroke-width="0.65"/>
<path d="M285.9 217.2L288.6 219.9M285.9 219.9L288.6 217.2" stroke="#a6cee3" stroke-width="0.65"/>
<circle cx="366.3" cy="219.6" r="1.68" fill="#b2df8a"/>
<circle cx="387.0" cy="212.0" r="1.68" fill="#b2df8a"/>
<circle cx="410.8" cy="204.0" r="1.68" fill="#b2df8a"/>
<circle cx="443.7" cy="190.1" r="1.68" fill="#b2df8a"/>
<circle cx="473.0" cy="180.9" r="1.68" fill="#b2df8a"/>
<circle cx="474.8" cy="180.2" r="1.68" fill="#b2df8a"/>
<circle cx="482.2" cy="190.1" r="1.68" fill="#b2df8a"/>
<circle cx="366.8" cy="219.4" r="1.68" fill="#b2df8a"/>
<circle cx="285.0" cy="248.4" r="1.68" fill="#b2df8a"/>
<circle cx="288.4" cy="245.6" r="1.68" fill="#b2df8a"/>
<circle cx="291.2" cy="242.8" r="1.68" fill="#b2df8a"/>
<circle cx="295.6" cy="241.1" r="1.68" fill="#b2df8a"/>
<circle cx="298.8" cy="239.6" r="1.68" fill="#b2df8a"/>
<circle cx="303.0" cy="237.6" r="1.68" fill="#b2df8a"/>
<circle cx="305.7" cy="237.0" r="1.68" fill="#b2df8a"/>
<circle cx="309.9" cy="235.2" r="1.68" fill="#b2df8a"/>
<path d="M302.3 234.3L305.7 237.7M302.3 237.7L305.7 234.3" stroke="#33a02c" stroke-width="1.0"/>
<path d="M303.3 232.8L306.7 236.2M303.3 236.2L306.7 232.8" stroke="#33a02c" stroke-width="1.0"/>
<circle cx="286.1" cy="241.6" r="1.90" fill="#1f78b4"/>
<circle cx="286.9" cy="239.6" r="1.90" fill="#1f78b4"/>
<circle cx="286.7" cy="240.1" r="1.90" fill="#1f78b4"/>
<circle cx="288.1" cy="238.3" r="1.90" fill="#1f78b4"/>
<circle cx="287.7" cy="237.8" r="1.90" fill="#1f78b4"/>
<circle cx="288.3" cy="237.3" r="1.90" fill="#1f78b4"/>
<circle cx="290.1" cy="236.9" r="1.90" fill="#1f78b4"/>
<circle cx="290.3" cy="235.5" r="1.90" fill="#1f78b4"/>
<circle cx="290.8" cy="236.3" r="1.90" fill="#1f78b4"/>
<circle cx="292.0" cy="234.7" r="1.90" fill="#1f78b4"/>
<circle cx="294.8" cy="229.2" r="1.68" fill="#1f78b4"/>
<circle cx="295.4" cy="233.0" r="1.68" fill="#1f78b4"/>
<circle cx="297.9" cy="231.7" r="1.68" fill="#1f78b4"/>
<circle cx="298.5" cy="224.3" r="1.68" fill="#1f78b4"/>
<circle cx="307.1" cy="223.0" r="1.68" fill="#1f78b4"/>
<circle cx="300.4" cy="217.7" r="1.68" fill="#1f78b4"/>
<circle cx="300.8" cy="219.3" r="1.68" fill="#1f78b4"/>
<circle cx="312.9" cy="219.7" r="1.68" fill="#1f78b4"/>
<circle cx="294.4" cy="229.6" r="1.68" fill="#1f78b4"/>
<circle cx="298.4" cy="232.2" r="1.68" fill="#1f78b4"/>
<circle cx="295.1" cy="232.9" r="1.68" fill="#1f78b4"/>
<circle cx="290.5" cy="234.2" r="1.68" fill="#1f78b4"/>
<circle cx="318.4" cy="208.2" r="1.68" fill="#1f78b4"/>
<circle cx="312.6" cy="219.6" r="1.68" fill="#1f78b4"/>
<circle cx="356.0" cy="166.0" r="1.68" fill="#1f78b4"/>
<circle cx="407.8" cy="144.3" r="1.68" fill="#1f78b4"/>
<circle cx="430.9" cy="146.2" r="1.68" fill="#1f78b4"/>
<circle cx="452.1" cy="143.6" r="1.68" fill="#1f78b4"/>
<circle cx="454.7" cy="147.3" r="1.68" fill="#1f78b4"/>
<circle cx="456.5" cy="149.8" r="1.68" fill="#1f78b4"/>
<circle cx="461.0" cy="150.9" r="1.68" fill="#1f78b4"/>
<circle cx="481.4" cy="168.1" r="1.68" fill="#1f78b4"/>
<path d="M284.3 247.6L287.6 247.6M286.0 245.9L286.0 249.3" stroke="#fb9a99" stroke-width="0.8"/>
<path d="M288.1 244.9L291.5 244.9M289.8 243.2L289.8 246.6" stroke="#fb9a99" stroke-width="0.8"/>
<path d="M291.2 243.9L294.6 243.9M292.9 242.3L292.9 245.6" stroke="#fb9a99" stroke-width="0.8"/>
<path d="M294.2 242.3L297.5 242.3M295.8 240.6L295.8 244.0" stroke="#fb9a99" stroke-width="0.8"/>
<path d="M297.1 241.1L300.5 241.1M298.8 239.4L298.8 242.8" stroke="#fb9a99" stroke-width="0.8"/>
<path d="M300.5 239.3L303.9 239.3M302.2 237.6L302.2 241.0" stroke="#fb9a99" stroke-width="0.8"/>
<path d="M303.5 239.3L306.9 239.3M305.2 237.6L305.2 241.0" stroke="#fb9a99" stroke-width="0.8"/>
<path d="M306.6 237.5L310.0 237.5M308.3 235.8L308.3 239.2" stroke="#fb9a99" stroke-width="0.8"/>
<path d="M311.4 236.6L314.7 236.6M313.0 234.9L313.0 238.3" stroke="#fb9a99" stroke-width="0.8"/>
<path d="M314.0 235.5L317.3 235.5M315.6 233.8L315.6 237.2" stroke="#fb9a99" stroke-width="0.8"/>
<path d="M282.1 247.9L285.7 246.1L285.7 249.7Z" fill="#e31a1c"/>
<path d="M283.7 248.1L287.3 246.3L287.3 249.8Z" fill="#e31a1c"/>
<path d="M285.1 246.7L288.6 245.0L288.6 248.5Z" fill="#e31a1c"/>
<path d="M287.6 246.2L291.2 244.4L291.2 248.0Z" fill="#e31a1c"/>
<path d="M289.0 244.7L292.5 242.9L292.5 246.5Z" fill="#e31a1c"/>
<path d="M290.9 244.3L294.5 242.5L294.5 246.1Z" fill="#e31a1c"/>
<path d="M293.0 243.4L296.6 241.6L296.6 245.2Z" fill="#e31a1c"/>
<path d="M294.5 242.9L298.1 241.1L298.1 244.7Z" fill="#e31a1c"/>
<path d="M296.8 241.7L300.4 239.9L300.4 243.5Z" fill="#e31a1c"/>
<path d="M298.1 241.1L301.7 239.3L301.7 242.9Z" fill="#e31a1c"/>
<path d="M312.6 235.1L316.2 233.3L316.2 236.9Z" fill="#e31a1c"/>
<path d="M323.7 227.9L327.3 226.1L327.3 229.7Z" fill="#e31a1c"/>
<path d="M343.4 221.4L347.0 219.6L347.0 223.2Z" fill="#e31a1c"/>
<path d="M356.6 217.0L360.2 215.2L360.2 218.8Z" fill="#e31a1c"/>
<path d="M364.5 215.2L368.1 213.4L368.1 217.0Z" fill="#e31a1c"/>
<path d="M366.9 213.9L370.5 212.1L370.5 215.7Z" fill="#e31a1c"/>
<path d="M370.2 216.0L373.8 214.2L373.8 217.8Z" fill="#e31a1c"/>
<path d="M373.2 218.0L376.8 216.2L376.8 219.8Z" fill="#e31a1c"/>
<path d="M376.0 221.2L379.6 219.4L379.6 223.0Z" fill="#e31a1c"/>
<path d="M368.2 214.0L371.8 212.2L371.8 215.8Z" fill="#e31a1c"/>
<path d="M338.3 223.3L341.5 226.5M338.3 226.5L341.5 223.3" stroke="#fdbf6f" stroke-width="0.9"/>
<path d="M348.0 218.0L351.2 221.2M348.0 221.2L351.2 218.0" stroke="#fdbf6f" stroke-width="0.9"/>
<path d="M379.9 205.0L383.1 208.2M379.9 208.2L383.1 205.0" stroke="#fdbf6f" stroke-width="0.9"/>
<path d="M414.7 195.8L417.9 199.0M414.7 199.0L417.9 195.8" stroke="#fdbf6f" stroke-width="0.9"/>
<path d="M429.3 186.7L432.5 189.9M429.3 189.9L432.5 186.7" stroke="#fdbf6f" stroke-width="0.9"/>
<path d="M445.8 184.8L449.0 188.0M445.8 188.0L449.0 184.8" stroke="#fdbf6f" stroke-width="0.9"/>
<path d="M318.4 232.4L321.6 235.6M318.4 235.6L321.6 232.4" stroke="#fdbf6f" stroke-width="0.9"/>
<circle cx="300.6" cy="243.6" r="1.68" fill="#ff7f00"/>
<circle cx="304.1" cy="243.2" r="1.68" fill="#ff7f00"/>
<circle cx="306.7" cy="242.0" r="1.68" fill="#ff7f00"/>
<circle cx="310.1" cy="240.1" r="1.68" fill="#ff7f00"/>
<circle cx="314.2" cy="239.5" r="1.68" fill="#ff7f00"/>
<circle cx="317.3" cy="238.7" r="1.68" fill="#ff7f00"/>
<circle cx="321.3" cy="238.0" r="1.68" fill="#ff7f00"/>
<circle cx="323.6" cy="236.8" r="1.68" fill="#ff7f00"/>
<circle cx="327.6" cy="235.6" r="1.68" fill="#ff7f00"/>
<circle cx="331.7" cy="234.6" r="1.68" fill="#ff7f00"/>
<circle cx="334.6" cy="234.3" r="1.68" fill="#ff7f00"/>
<circle cx="338.1" cy="232.9" r="1.68" fill="#ff7f00"/>
<circle cx="341.7" cy="232.5" r="1.68" fill="#ff7f00"/>
<circle cx="345.4" cy="231.4" r="1.68" fill="#ff7f00"/>
<circle cx="348.6" cy="229.6" r="1.68" fill="#ff7f00"/>
<circle cx="352.5" cy="229.4" r="1.68" fill="#ff7f00"/>
<circle cx="351.9" cy="232.8" r="1.68" fill="#ff7f00"/>
<circle cx="287.4" cy="252.4" r="1.68" fill="#cab2d6"/>
<circle cx="289.9" cy="250.8" r="1.68" fill="#cab2d6"/>
<circle cx="293.2" cy="250.9" r="1.68" fill="#cab2d6"/>
<circle cx="296.7" cy="249.1" r="1.68" fill="#cab2d6"/>
<circle cx="301.0" cy="249.0" r="1.68" fill="#cab2d6"/>
<circle cx="303.5" cy="248.6" r="1.68" fill="#cab2d6"/>
<circle cx="307.9" cy="247.7" r="1.68" fill="#cab2d6"/>
<circle cx="310.4" cy="247.4" r="1.68" fill="#cab2d6"/>
<circle cx="314.4" cy="246.7" r="1.68" fill="#cab2d6"/>
<circle cx="318.7" cy="246.7" r="1.68" fill="#cab2d6"/>
<circle cx="322.0" cy="245.5" r="1.68" fill="#cab2d6"/>
<circle cx="324.8" cy="245.7" r="1.68" fill="#cab2d6"/>
<path d="M283.7 249.6L286.9 252.8M283.7 252.8L286.9 249.6" stroke="#6a3d9a" stroke-width="0.9"/>
<path d="M286.8 248.2L289.9 251.3M286.8 251.3L289.9 248.2" stroke="#6a3d9a" stroke-width="0.9"/>
<path d="M289.5 247.7L292.7 250.9M289.5 250.9L292.7 247.7" stroke="#6a3d9a" stroke-width="0.9"/>
<path d="M293.0 247.7L296.1 250.9M293.0 250.9L296.1 247.7" stroke="#6a3d9a" stroke-width="0.9"/>
<path d="M295.1 247.1L298.3 250.3M295.1 250.3L298.3 247.1" stroke="#6a3d9a" stroke-width="0.9"/>
<path d="M297.2 246.5L300.3 249.7M297.2 249.7L300.3 246.5" stroke="#6a3d9a" stroke-width="0.9"/>
<path d="M301.0 246.8L304.1 250.0M301.0 250.0L304.1 246.8" stroke="#6a3d9a" stroke-width="0.9"/>
<path d="M303.7 245.6L306.8 248.8M303.7 248.8L306.8 245.6" stroke="#6a3d9a" stroke-width="0.9"/>
<path d="M305.4 244.9L308.5 248.0M305.4 248.0L308.5 244.9" stroke="#6a3d9a" stroke-width="0.9"/>
<path d="M308.5 244.8L311.7 247.9M308.5 247.9L311.7 244.8" stroke="#6a3d9a" stroke-width="0.9"/>
<path d="M311.1 244.4L314.2 247.6M311.1 247.6L314.2 244.4" stroke="#6a3d9a" stroke-width="0.9"/>
<path d="M313.9 243.8L317.0 246.9M313.9 246.9L317.0 243.8" stroke="#6a3d9a" stroke-width="0.9"/>
<path d="M316.9 243.0L320.0 246.2M316.9 246.2L320.0 243.0" stroke="#6a3d9a" stroke-width="0.9"/>
<path d="M319.7 243.0L322.8 246.2M319.7 246.2L322.8 243.0" stroke="#6a3d9a" stroke-width="0.9"/>
<path d="M321.1 242.2L324.3 245.3M321.1 245.3L324.3 242.2" stroke="#6a3d9a" stroke-width="0.9"/>
<path d="M324.5 241.8L327.6 244.9M324.5 244.9L327.6 241.8" stroke="#6a3d9a" stroke-width="0.9"/>
<path d="M327.7 233.8L331.1 237.2M327.7 237.2L331.1 233.8" stroke="#6a3d9a" stroke-width="0.9"/>
<path d="M332.9 231.1L336.3 234.5M332.9 234.5L336.3 231.1" stroke="#6a3d9a" stroke-width="0.9"/>
<path d="M343.5 225.9L346.9 229.3M343.5 229.3L346.9 225.9" stroke="#6a3d9a" stroke-width="0.9"/>
<path d="M350.5 224.6L353.9 228.0M350.5 228.0L353.9 224.6" stroke="#6a3d9a" stroke-width="0.9"/>
<path d="M362.0 228.5L365.4 231.9M362.0 231.9L365.4 228.5" stroke="#6a3d9a" stroke-width="0.9"/>
<path d="M318.3 236.3L321.7 239.7M318.3 239.7L321.7 236.3" stroke="#6a3d9a" stroke-width="0.9"/>
<path d="M323.3 234.3L326.7 237.7M323.3 237.7L326.7 234.3" stroke="#6a3d9a" stroke-width="0.9"/>
<path d="M338.3 228.3L341.7 231.7M338.3 231.7L341.7 228.3" stroke="#6a3d9a" stroke-width="0.9"/>
<circle cx="283.1" cy="252.6" r="1.79" fill="#ffff99"/>
<circle cx="284.9" cy="251.6" r="1.79" fill="#ffff99"/>
<circle cx="287.3" cy="249.4" r="1.79" fill="#ffff99"/>
<circle cx="290.7" cy="247.2" r="1.79" fill="#ffff99"/>
<circle cx="292.4" cy="245.8" r="1.79" fill="#ffff99"/>
<circle cx="294.7" cy="243.7" r="1.79" fill="#ffff99"/>
<circle cx="296.7" cy="241.5" r="1.79" fill="#ffff99"/>
<circle cx="300.9" cy="240.0" r="1.79" fill="#ffff99"/>
<circle cx="304.3" cy="239.3" r="1.79" fill="#ffff99"/>
<circle cx="306.8" cy="238.8" r="1.79" fill="#ffff99"/>
<circle cx="310.5" cy="238.9" r="1.79" fill="#ffff99"/>
<circle cx="313.3" cy="238.0" r="1.79" fill="#ffff99"/>
<circle cx="316.0" cy="237.7" r="1.79" fill="#ffff99"/>
<circle cx="318.0" cy="235.3" r="1.79" fill="#ffff99"/>
<circle cx="321.5" cy="233.2" r="1.79" fill="#ffff99"/>
<circle cx="324.0" cy="231.4" r="1.79" fill="#ffff99"/>
<circle cx="331.1" cy="226.7" r="1.79" fill="#ffff99"/>
<circle cx="352.2" cy="214.7" r="1.79" fill="#ffff99"/>
<circle cx="385.1" cy="202.9" r="1.79" fill="#ffff99"/>
<circle cx="396.1" cy="201.1" r="1.79" fill="#ffff99"/>
<circle cx="403.4" cy="196.7" r="1.79" fill="#ffff99"/>
<circle cx="418.1" cy="193.8" r="1.79" fill="#ffff99"/>
<circle cx="423.6" cy="191.9" r="1.79" fill="#ffff99"/>
<circle cx="440.0" cy="190.1" r="1.79" fill="#ffff99"/>
<circle cx="445.6" cy="199.2" r="1.79" fill="#ffff99"/>
<path d="M283.1 251.4L295.0 248.0L317.0 243.5L329.0 242.0" fill="none" stroke="#b15928" stroke-width="2.7" stroke-linecap="round" stroke-linejoin="round"/>
<circle cx="399.8" cy="255.3" r="1.57" fill="#b15928"/>
<circle cx="285.2" cy="211.8" r="2.0" fill="none" stroke="#333" stroke-width="0.7"/>
<circle cx="284.3" cy="242.2" r="2.6" fill="#1f78b4" stroke="#333" stroke-width="0.7"/>
<circle cx="283.3" cy="253.0" r="2.4" fill="#ffff99" stroke="#333" stroke-width="0.7"/>
<circle cx="283.3" cy="251.2" r="2.4" fill="#b15928" stroke="#333" stroke-width="0.7"/>
</g>
<line x1="282.5" y1="251.2" x2="481.4" y2="168.4" stroke="#222" stroke-width="0.85"/>
<text transform="translate(407.2 216.3) rotate(-24.6)" font-size="8.3" fill="#111" textLength="70" lengthAdjust="spacingAndGlyphs">y = 0.024x + 0.014</text>
<rect x="40.5" y="6.5" width="221.0" height="125.0" fill="none" stroke="#666" stroke-width="1"/>
<rect x="272.5" y="6.5" width="221.0" height="125.0" fill="none" stroke="#666" stroke-width="1"/>
<rect x="40.5" y="137.5" width="221.0" height="124.0" fill="none" stroke="#666" stroke-width="1"/>
<rect x="272.5" y="137.5" width="221.0" height="124.0" fill="none" stroke="#666" stroke-width="1"/>
<text x="37.3" y="122.60000000000001" font-size="9.3" text-anchor="end" font-weight="normal" fill="#1a1a1a" stroke="#1a1a1a" stroke-width="0.08" textLength="12.6" lengthAdjust="spacingAndGlyphs">0.0</text>
<text x="37.3" y="98.60000000000001" font-size="9.3" text-anchor="end" font-weight="normal" fill="#1a1a1a" stroke="#1a1a1a" stroke-width="0.08" textLength="12.6" lengthAdjust="spacingAndGlyphs">0.2</text>
<text x="37.3" y="74.60000000000001" font-size="9.3" text-anchor="end" font-weight="normal" fill="#1a1a1a" stroke="#1a1a1a" stroke-width="0.08" textLength="12.6" lengthAdjust="spacingAndGlyphs">0.4</text>
<text x="37.3" y="50.6" font-size="9.3" text-anchor="end" font-weight="normal" fill="#1a1a1a" stroke="#1a1a1a" stroke-width="0.08" textLength="12.6" lengthAdjust="spacingAndGlyphs">0.6</text>
<text x="37.3" y="26.6" font-size="9.3" text-anchor="end" font-weight="normal" fill="#1a1a1a" stroke="#1a1a1a" stroke-width="0.08" textLength="12.6" lengthAdjust="spacingAndGlyphs">0.8</text>
<text x="37.3" y="258.9" font-size="9.3" text-anchor="end" font-weight="normal" fill="#1a1a1a" stroke="#1a1a1a" stroke-width="0.08" textLength="12.6" lengthAdjust="spacingAndGlyphs">0.0</text>
<text x="37.3" y="229.35" font-size="9.3" text-anchor="end" font-weight="normal" fill="#1a1a1a" stroke="#1a1a1a" stroke-width="0.08" textLength="12.6" lengthAdjust="spacingAndGlyphs">0.1</text>
<text x="37.3" y="199.8" font-size="9.3" text-anchor="end" font-weight="normal" fill="#1a1a1a" stroke="#1a1a1a" stroke-width="0.08" textLength="12.6" lengthAdjust="spacingAndGlyphs">0.2</text>
<text x="37.3" y="170.25000000000003" font-size="9.3" text-anchor="end" font-weight="normal" fill="#1a1a1a" stroke="#1a1a1a" stroke-width="0.08" textLength="12.6" lengthAdjust="spacingAndGlyphs">0.3</text>
<text x="37.3" y="140.70000000000002" font-size="9.3" text-anchor="end" font-weight="normal" fill="#1a1a1a" stroke="#1a1a1a" stroke-width="0.08" textLength="12.6" lengthAdjust="spacingAndGlyphs">0.4</text>
<text x="66.0" y="271.8" font-size="9.3" text-anchor="middle" font-weight="normal" fill="#1a1a1a" stroke="#1a1a1a" stroke-width="0.08" textLength="5.3" lengthAdjust="spacingAndGlyphs">0</text>
<text x="96.46000000000001" y="271.8" font-size="9.3" text-anchor="middle" font-weight="normal" fill="#1a1a1a" stroke="#1a1a1a" stroke-width="0.08" textLength="5.3" lengthAdjust="spacingAndGlyphs">2</text>
<text x="126.92" y="271.8" font-size="9.3" text-anchor="middle" font-weight="normal" fill="#1a1a1a" stroke="#1a1a1a" stroke-width="0.08" textLength="5.3" lengthAdjust="spacingAndGlyphs">4</text>
<text x="157.38" y="271.8" font-size="9.3" text-anchor="middle" font-weight="normal" fill="#1a1a1a" stroke="#1a1a1a" stroke-width="0.08" textLength="5.3" lengthAdjust="spacingAndGlyphs">6</text>
<text x="187.84" y="271.8" font-size="9.3" text-anchor="middle" font-weight="normal" fill="#1a1a1a" stroke="#1a1a1a" stroke-width="0.08" textLength="5.3" lengthAdjust="spacingAndGlyphs">8</text>
<text x="218.3" y="271.8" font-size="9.3" text-anchor="middle" font-weight="normal" fill="#1a1a1a" stroke="#1a1a1a" stroke-width="0.08" textLength="11" lengthAdjust="spacingAndGlyphs">10</text>
<text x="248.76" y="271.8" font-size="9.3" text-anchor="middle" font-weight="normal" fill="#1a1a1a" stroke="#1a1a1a" stroke-width="0.08" textLength="11" lengthAdjust="spacingAndGlyphs">12</text>
<text x="282.5" y="271.8" font-size="9.3" text-anchor="middle" font-weight="normal" fill="#1a1a1a" stroke="#1a1a1a" stroke-width="0.08" textLength="5.3" lengthAdjust="spacingAndGlyphs">0</text>
<text x="316.3" y="271.8" font-size="9.3" text-anchor="middle" font-weight="normal" fill="#1a1a1a" stroke="#1a1a1a" stroke-width="0.08" textLength="5.3" lengthAdjust="spacingAndGlyphs">2</text>
<text x="350.1" y="271.8" font-size="9.3" text-anchor="middle" font-weight="normal" fill="#1a1a1a" stroke="#1a1a1a" stroke-width="0.08" textLength="5.3" lengthAdjust="spacingAndGlyphs">4</text>
<text x="383.9" y="271.8" font-size="9.3" text-anchor="middle" font-weight="normal" fill="#1a1a1a" stroke="#1a1a1a" stroke-width="0.08" textLength="5.3" lengthAdjust="spacingAndGlyphs">6</text>
<text x="417.7" y="271.8" font-size="9.3" text-anchor="middle" font-weight="normal" fill="#1a1a1a" stroke="#1a1a1a" stroke-width="0.08" textLength="5.3" lengthAdjust="spacingAndGlyphs">8</text>
<text x="451.5" y="271.8" font-size="9.3" text-anchor="middle" font-weight="normal" fill="#1a1a1a" stroke="#1a1a1a" stroke-width="0.08" textLength="11" lengthAdjust="spacingAndGlyphs">10</text>
<text x="485.29999999999995" y="271.8" font-size="9.3" text-anchor="middle" font-weight="normal" fill="#1a1a1a" stroke="#1a1a1a" stroke-width="0.08" textLength="11" lengthAdjust="spacingAndGlyphs">12</text>
<text x="46.6" y="15.6" font-size="10.4" text-anchor="start" font-weight="bold" fill="#000" stroke="#000" stroke-width="0.35">a</text>
<text x="58.4" y="15.6" font-size="10.4" text-anchor="start" font-weight="normal" fill="#000" stroke="#000" stroke-width="0.18" textLength="86.5" lengthAdjust="spacingAndGlyphs">Ocean1, barotropic</text>
<text x="278.4" y="15.6" font-size="10.4" text-anchor="start" font-weight="bold" fill="#000" stroke="#000" stroke-width="0.35">b</text>
<text x="290.4" y="15.6" font-size="10.4" text-anchor="start" font-weight="normal" fill="#000" stroke="#000" stroke-width="0.18" textLength="86.5" lengthAdjust="spacingAndGlyphs">Ocean2, barotropic</text>
<text x="46.6" y="146.8" font-size="10.4" text-anchor="start" font-weight="bold" fill="#000" stroke="#000" stroke-width="0.35">c</text>
<text x="58.4" y="146.8" font-size="10.4" text-anchor="start" font-weight="normal" fill="#000" stroke="#000" stroke-width="0.18" textLength="93" lengthAdjust="spacingAndGlyphs">Ocean1, overturning</text>
<text x="278.4" y="146.8" font-size="10.4" text-anchor="start" font-weight="bold" fill="#000" stroke="#000" stroke-width="0.35">d</text>
<text x="290.4" y="146.8" font-size="10.4" text-anchor="start" font-weight="normal" fill="#000" stroke="#000" stroke-width="0.18" textLength="93" lengthAdjust="spacingAndGlyphs">Ocean2, overturning</text>
<text x="254.3" y="17.9" font-size="8.3" text-anchor="end" font-weight="normal" fill="#111" stroke="#111" stroke-width="0.06" textLength="29" lengthAdjust="spacingAndGlyphs">r = 0.89</text>
<text x="486.6" y="17.9" font-size="8.3" text-anchor="end" font-weight="normal" fill="#111" stroke="#111" stroke-width="0.06" textLength="29" lengthAdjust="spacingAndGlyphs">r = 0.77</text>
<text x="254.3" y="149.1" font-size="8.3" text-anchor="end" font-weight="normal" fill="#111" stroke="#111" stroke-width="0.06" textLength="29" lengthAdjust="spacingAndGlyphs">r = 0.97</text>
<text x="486.6" y="149.1" font-size="8.3" text-anchor="end" font-weight="normal" fill="#111" stroke="#111" stroke-width="0.06" textLength="29" lengthAdjust="spacingAndGlyphs">r = 0.89</text>
<text x="150.5" y="281.7" font-size="9.3" text-anchor="middle" font-weight="normal" fill="#1a1a1a" stroke="#1a1a1a" stroke-width="0.18" textLength="93.5" lengthAdjust="spacingAndGlyphs">Mean melt rate (m/yr)</text>
<text x="382.5" y="281.7" font-size="9.3" text-anchor="middle" font-weight="normal" fill="#1a1a1a" stroke="#1a1a1a" stroke-width="0.18" textLength="93.5" lengthAdjust="spacingAndGlyphs">Mean melt rate (m/yr)</text>
<text x="11.7" y="69.6" font-size="8.8" text-anchor="middle" font-weight="normal" fill="#1a1a1a" stroke="#1a1a1a" stroke-width="0.18" textLength="91.5" lengthAdjust="spacingAndGlyphs" transform="rotate(-90 11.7 69.6)">Barotropic circulation</text>
<text x="20.9" y="67.5" font-size="8.8" text-anchor="middle" font-weight="normal" fill="#1a1a1a" stroke="#1a1a1a" stroke-width="0.18" textLength="73.3" lengthAdjust="spacingAndGlyphs" transform="rotate(-90 20.9 67.5)">in the cavity (Sv)</text>
<text x="11.8" y="200.8" font-size="8.8" text-anchor="middle" font-weight="normal" fill="#1a1a1a" stroke="#1a1a1a" stroke-width="0.18" textLength="100" lengthAdjust="spacingAndGlyphs" transform="rotate(-90 11.8 200.8)">Overturning circulation</text>
<text x="20.9" y="198.1" font-size="8.8" text-anchor="middle" font-weight="normal" fill="#1a1a1a" stroke="#1a1a1a" stroke-width="0.18" textLength="73.5" lengthAdjust="spacingAndGlyphs" transform="rotate(-90 20.9 198.1)">in the cavity (Sv)</text>
<rect x="77.7" y="290.5" width="372.8" height="44.7" rx="2" fill="#fff" stroke="#d0d0d0" stroke-width="0.8"/>
<path d="M84.4 293.6L90.8 300.0M84.4 300.0L90.8 293.6" stroke="#a6cee3" stroke-width="1.1"/>
<text x="100.8" y="298.5" font-size="7.6" text-anchor="start" font-weight="normal" fill="#1a1a1a" stroke="#1a1a1a" stroke-width="0.06" textLength="20.4" lengthAdjust="spacingAndGlyphs">COCO</text>
<circle cx="87.6" cy="307.3" r="3.40" fill="#1f78b4"/>
<text x="100.8" y="309.0" font-size="7.6" text-anchor="start" font-weight="normal" fill="#1a1a1a" stroke="#1a1a1a" stroke-width="0.06" textLength="24.9" lengthAdjust="spacingAndGlyphs">FVCOM</text>
<circle cx="87.6" cy="318.2" r="3.40" fill="#b2df8a"/>
<text x="100.8" y="319.9" font-size="7.6" text-anchor="start" font-weight="normal" fill="#1a1a1a" stroke="#1a1a1a" stroke-width="0.06" textLength="44.0" lengthAdjust="spacingAndGlyphs">MITgcm-BAS</text>
<path d="M84.4 325.8L90.8 332.2M84.4 332.2L90.8 325.8" stroke="#33a02c" stroke-width="1.1"/>
<text x="100.8" y="330.7" font-size="7.6" text-anchor="start" font-weight="normal" fill="#1a1a1a" stroke="#1a1a1a" stroke-width="0.06" textLength="75.6" lengthAdjust="spacingAndGlyphs">MITgcm-BAS-Coupled</text>
<path d="M196.2 296.8L202.6 296.8M199.4 293.6L199.4 300.0" stroke="#fb9a99" stroke-width="1.1"/>
<text x="212.6" y="298.5" font-size="7.6" text-anchor="start" font-weight="normal" fill="#1a1a1a" stroke="#1a1a1a" stroke-width="0.06" textLength="40.1" lengthAdjust="spacingAndGlyphs">MITgcm-JPL</text>
<path d="M196.2 307.3L202.6 304.1L202.6 310.5Z" fill="#e31a1c"/>
<text x="212.6" y="309.0" font-size="7.6" text-anchor="start" font-weight="normal" fill="#1a1a1a" stroke="#1a1a1a" stroke-width="0.06" textLength="73.3" lengthAdjust="spacingAndGlyphs">MOM6-SIGMA-ZSTAR</text>
<path d="M196.2 315.0L202.6 321.4M196.2 321.4L202.6 315.0" stroke="#fdbf6f" stroke-width="1.1"/>
<text x="212.6" y="319.9" font-size="7.6" text-anchor="start" font-weight="normal" fill="#1a1a1a" stroke="#1a1a1a" stroke-width="0.06" textLength="46.8" lengthAdjust="spacingAndGlyphs">MOM6-LAYER</text>
<circle cx="308.2" cy="296.8" r="3.40" fill="#ff7f00"/>
<text x="321.4" y="298.5" font-size="7.6" text-anchor="start" font-weight="normal" fill="#1a1a1a" stroke="#1a1a1a" stroke-width="0.06" textLength="44.3" lengthAdjust="spacingAndGlyphs">MPAS-Ocean</text>
<circle cx="308.2" cy="307.3" r="3.40" fill="#cab2d6"/>
<text x="321.4" y="309.0" font-size="7.6" text-anchor="start" font-weight="normal" fill="#1a1a1a" stroke="#1a1a1a" stroke-width="0.06" textLength="43.1" lengthAdjust="spacingAndGlyphs">NEMO-CNRS</text>
<path d="M305.0 315.0L311.4 321.4M305.0 321.4L311.4 315.0" stroke="#6a3d9a" stroke-width="1.1"/>
<text x="321.4" y="319.9" font-size="7.6" text-anchor="start" font-weight="normal" fill="#1a1a1a" stroke="#1a1a1a" stroke-width="0.06" textLength="58.5" lengthAdjust="spacingAndGlyphs">NEMO-UKESM1is</text>
<circle cx="403.3" cy="296.8" r="3.40" fill="#ffff99"/>
<text x="416.5" y="298.5" font-size="7.6" text-anchor="start" font-weight="normal" fill="#1a1a1a" stroke="#1a1a1a" stroke-width="0.06" textLength="22.2" lengthAdjust="spacingAndGlyphs">POP2x</text>
<circle cx="403.3" cy="307.3" r="3.40" fill="#b15928"/>
<text x="416.5" y="309.0" font-size="7.6" text-anchor="start" font-weight="normal" fill="#1a1a1a" stroke="#1a1a1a" stroke-width="0.06" textLength="20.5" lengthAdjust="spacingAndGlyphs">ROMS</text>
<circle cx="403.3" cy="318.2" r="3.30" fill="none" stroke="#222" stroke-width="0.8"/>
<text x="416.5" y="319.9" font-size="7.6" text-anchor="start" font-weight="normal" fill="#1a1a1a" stroke="#1a1a1a" stroke-width="0.06" textLength="30.2" lengthAdjust="spacingAndGlyphs">last year</text>
</g></svg></body></html>
